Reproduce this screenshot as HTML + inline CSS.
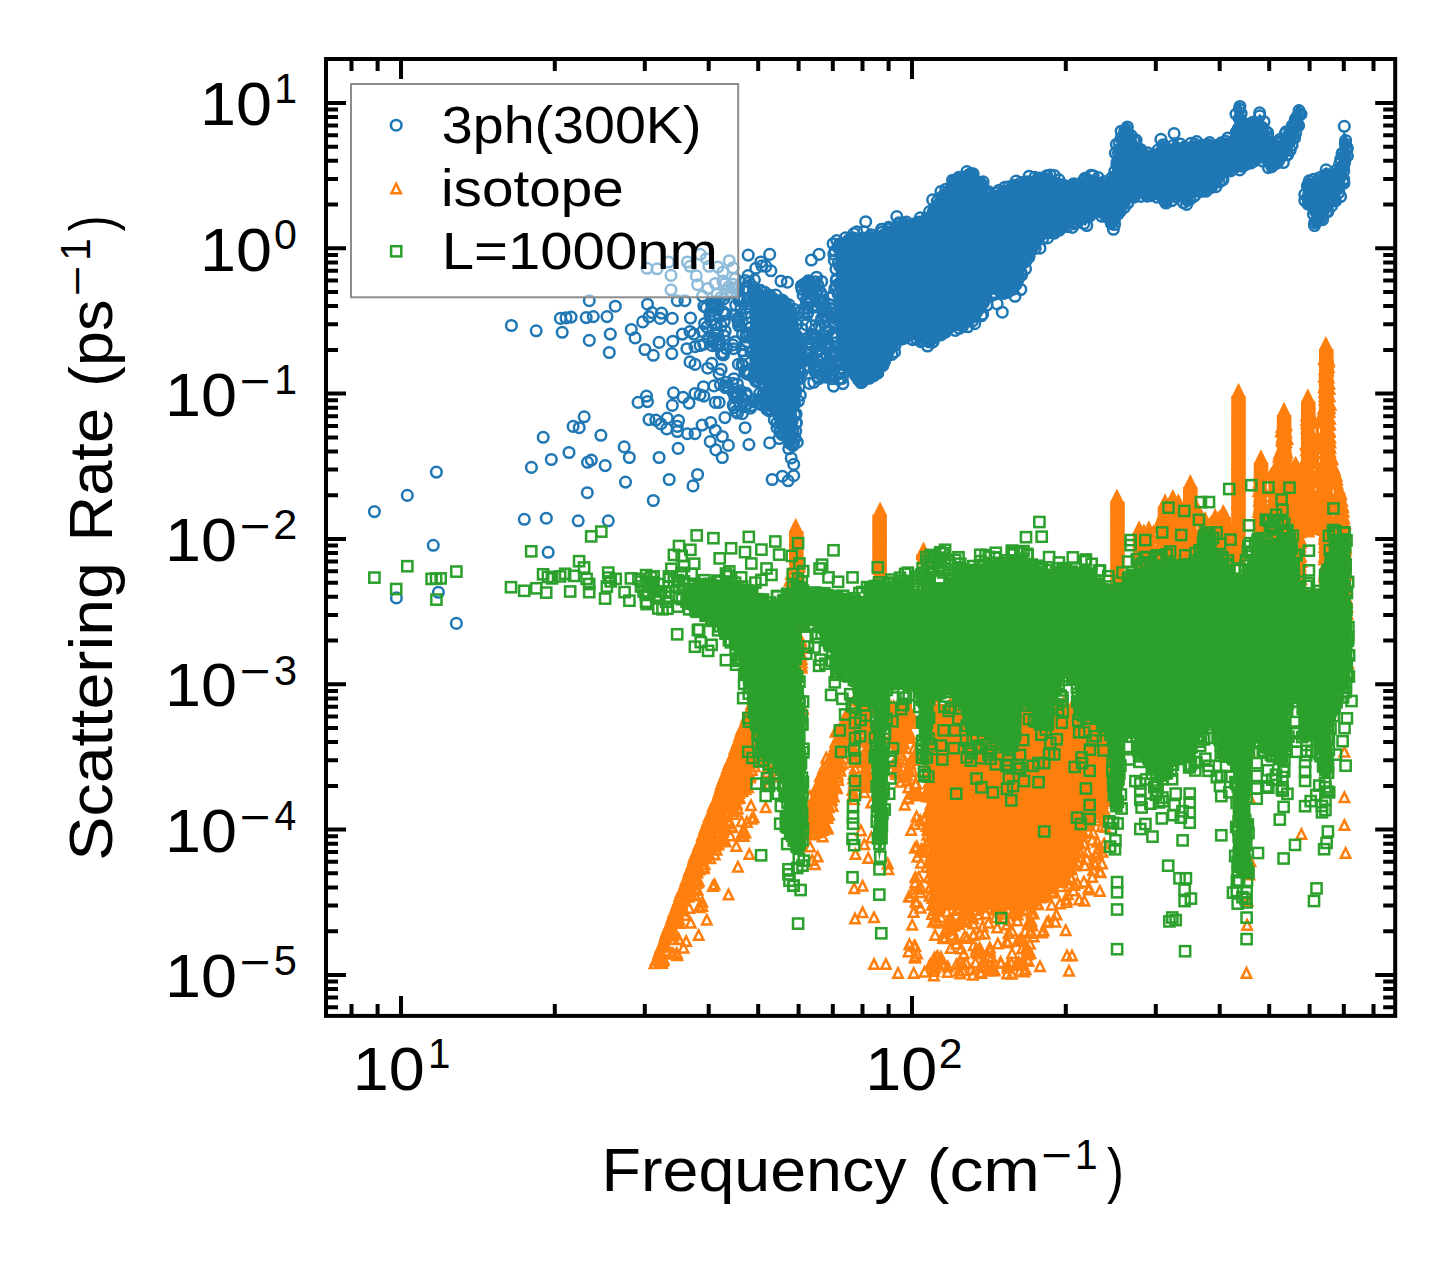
<!DOCTYPE html>
<html><head><meta charset="utf-8"><title>Scattering Rate</title>
<style>
html,body{margin:0;padding:0;background:#fff;}
body{width:1455px;height:1265px;overflow:hidden;}
svg{display:block;font-family:"Liberation Sans",sans-serif;font-kerning:none;}
text{fill:#000;}
</style></head><body>
<svg width="1455" height="1265" viewBox="0 0 1455 1265">
<rect width="1455" height="1265" fill="#fff"/>
<defs><marker id="mc" markerUnits="userSpaceOnUse" markerWidth="16" markerHeight="16" refX="8" refY="8" overflow="visible"><circle cx="8" cy="8" r="5.3" fill="none" stroke="#1f77b4" stroke-width="2.5"/></marker><marker id="mt" markerUnits="userSpaceOnUse" markerWidth="18" markerHeight="18" refX="9" refY="9" overflow="visible"><path d="M9 4.27l4.73 9.46h-9.46z" fill="none" stroke="#ff7f0e" stroke-width="2.5"/></marker><marker id="ms" markerUnits="userSpaceOnUse" markerWidth="16" markerHeight="16" refX="8" refY="8" overflow="visible"><rect x="2.9" y="2.9" width="10.2" height="10.2" fill="none" stroke="#2ca02c" stroke-width="2.5"/></marker></defs>
<path d="M760.8,382.6 761.2,382.8 761.6,383.0 762.0,383.3 762.4,383.6 762.7,383.9 763.0,384.3 763.2,384.7 763.5,385.2 763.6,385.6 763.8,386.1 763.9,386.5 763.9,387.0 763.9,387.5 763.8,388.0 763.7,388.5 763.6,388.9 763.4,389.4 763.2,389.8 762.9,390.2 762.6,390.6 762.3,390.9 761.9,391.2 751.8,398.8 751.4,399.0 751.0,399.3 750.6,399.4 750.0,399.7 750.0,406.6 757.9,405.1 758.4,405.0 758.9,405.0 759.4,405.0 759.9,405.1 760.3,405.2 760.8,405.3 761.2,405.6 761.7,405.8 769.3,410.9 769.7,411.2 770.0,411.5 770.4,411.9 770.7,412.3 770.9,412.7 771.1,413.2 776.2,425.8 782.2,440.2 789.0,448.0 793.4,448.0 795.7,441.7 796.9,427.5 796.9,397.3 796.9,396.9 797.0,396.4 800.7,376.5 801.9,352.0 799.5,332.2 797.0,315.1 792.8,304.5 786.6,300.4 774.6,293.2 757.5,288.3 757.0,288.1 756.6,287.9 756.1,287.7 755.7,287.4 755.4,287.0 750.0,281.7 750.0,378.3ZM837.6,360.5 847.2,372.7 847.4,372.9 847.5,373.2 853.7,384.6 863.6,385.5 880.0,375.0 889.8,361.7 899.8,344.1 899.9,343.9 900.1,343.6 900.3,343.4 900.5,343.3 900.8,343.1 901.0,342.9 901.3,342.8 901.5,342.7 901.8,342.7 914.4,340.2 914.7,340.1 915.0,340.1 915.3,340.1 915.6,340.2 915.9,340.2 916.2,340.3 916.5,340.5 916.7,340.6 927.8,348.4 941.2,340.6 951.2,333.1 951.5,332.9 951.7,332.8 952.0,332.7 966.9,327.7 978.7,320.7 988.1,306.5 990.5,296.9 990.6,296.6 990.7,296.3 990.8,296.1 991.0,295.8 991.2,295.6 991.4,295.4 991.6,295.2 991.8,295.0 992.1,294.9 992.4,294.8 992.7,294.7 992.9,294.6 993.2,294.6 993.5,294.6 993.8,294.6 994.1,294.7 1003.5,297.0 1016.4,292.6 1023.5,273.7 1023.5,273.6 1031.1,255.9 1031.3,255.6 1031.5,255.3 1039.1,245.2 1039.3,244.9 1039.6,244.7 1045.7,239.6 1045.9,239.4 1046.2,239.3 1046.4,239.1 1046.7,239.0 1047.0,239.0 1047.3,238.9 1047.6,238.9 1055.0,238.9 1060.5,232.4 1060.7,232.1 1060.9,231.9 1061.2,231.8 1061.4,231.6 1061.7,231.5 1062.0,231.4 1062.3,231.3 1069.1,230.2 1076.0,224.4 1076.2,224.2 1076.5,224.1 1076.7,223.9 1077.0,223.8 1077.3,223.8 1077.6,223.7 1077.9,223.7 1078.2,223.7 1078.5,223.8 1078.7,223.8 1085.6,225.8 1092.0,217.3 1092.2,217.1 1092.4,216.9 1092.6,216.7 1092.9,216.5 1093.2,216.4 1093.5,216.3 1093.7,216.2 1094.0,216.1 1094.4,216.1 1094.7,216.1 1095.0,216.2 1095.3,216.2 1095.5,216.3 1101.8,218.9 1102.1,219.1 1102.4,219.2 1102.6,219.4 1102.8,219.6 1103.0,219.8 1109.1,227.1 1113.2,230.3 1115.9,227.5 1120.8,217.8 1120.9,217.6 1128.5,205.0 1128.7,204.7 1128.9,204.5 1129.1,204.3 1129.3,204.1 1129.5,204.0 1129.7,203.8 1139.8,198.7 1140.1,198.6 1140.4,198.5 1140.7,198.4 1140.9,198.4 1141.2,198.4 1141.5,198.4 1141.8,198.5 1142.1,198.5 1142.4,198.6 1142.6,198.8 1142.9,198.9 1143.1,199.1 1147.5,202.6 1151.9,199.1 1152.1,198.9 1152.4,198.7 1152.7,198.6 1152.9,198.5 1153.2,198.5 1153.5,198.4 1153.8,198.4 1154.1,198.4 1154.4,198.5 1154.7,198.5 1155.0,198.6 1155.2,198.8 1155.5,198.9 1155.7,199.1 1155.9,199.3 1156.1,199.5 1156.3,199.7 1160.5,206.0 1165.5,206.0 1174.8,199.0 1175.0,198.8 1175.3,198.7 1175.6,198.6 1175.9,198.5 1176.1,198.4 1176.4,198.4 1176.7,198.4 1177.0,198.4 1177.3,198.5 1177.6,198.6 1177.9,198.7 1178.1,198.8 1178.4,199.0 1178.6,199.2 1178.8,199.4 1179.0,199.6 1182.7,204.5 1186.2,208.0 1189.6,206.6 1194.1,197.6 1194.3,197.3 1194.4,197.1 1194.6,196.8 1194.9,196.6 1195.1,196.4 1195.3,196.3 1195.6,196.1 1195.9,196.0 1196.2,196.0 1196.5,195.9 1196.8,195.9 1207.9,195.9 1212.1,189.6 1212.3,189.4 1212.5,189.2 1212.7,189.0 1212.9,188.8 1213.2,188.7 1213.4,188.5 1213.7,188.4 1214.0,188.4 1219.1,187.3 1224.8,179.5 1224.9,179.3 1230.0,173.0 1230.2,172.8 1230.4,172.6 1230.6,172.4 1230.8,172.3 1231.1,172.2 1231.4,172.1 1231.6,172.0 1231.9,171.9 1241.6,170.7 1252.8,166.1 1254.9,162.1 1255.1,161.9 1255.3,161.6 1255.5,161.4 1255.7,161.2 1255.9,161.0 1256.2,160.9 1256.4,160.7 1256.7,160.6 1257.0,160.6 1257.3,160.5 1257.6,160.5 1257.9,160.5 1258.2,160.6 1258.5,160.6 1258.7,160.7 1259.0,160.9 1259.3,161.0 1259.5,161.2 1259.7,161.4 1264.7,166.4 1264.7,166.4 1269.9,171.6 1278.8,169.6 1284.1,164.2 1290.3,152.1 1297.8,134.5 1298.0,134.3 1298.1,134.0 1298.3,133.8 1303.8,127.2 1301.6,106.9 1298.2,104.2 1295.8,106.8 1293.3,118.5 1293.3,118.8 1293.2,119.1 1293.0,119.3 1292.9,119.6 1292.7,119.8 1285.3,128.6 1277.9,140.9 1277.7,141.2 1277.5,141.4 1277.3,141.6 1277.1,141.8 1276.8,142.0 1276.6,142.1 1276.3,142.2 1276.0,142.3 1275.7,142.4 1275.4,142.4 1275.1,142.4 1274.8,142.4 1274.5,142.3 1274.2,142.2 1274.0,142.1 1273.7,141.9 1273.4,141.8 1273.2,141.6 1273.0,141.3 1272.8,141.1 1272.7,140.9 1272.5,140.6 1268.7,131.8 1268.7,131.8 1262.5,116.9 1259.8,113.5 1257.5,117.0 1257.3,117.3 1257.1,117.5 1256.9,117.7 1256.7,117.9 1256.4,118.1 1256.1,118.2 1255.8,118.3 1247.0,120.8 1246.7,120.9 1246.5,120.9 1246.2,120.9 1245.9,120.9 1245.6,120.8 1245.3,120.8 1245.0,120.7 1244.8,120.5 1244.5,120.4 1244.3,120.2 1244.1,120.0 1243.9,119.8 1243.7,119.6 1243.6,119.3 1243.4,119.1 1243.3,118.8 1243.3,118.5 1243.2,118.3 1241.5,104.2 1238.6,101.4 1235.8,104.1 1235.3,125.6 1235.3,125.9 1235.2,126.2 1235.1,126.4 1235.0,126.7 1234.9,127.0 1229.8,135.9 1229.6,136.1 1229.5,136.4 1229.3,136.6 1229.0,136.8 1228.8,136.9 1228.6,137.1 1228.3,137.2 1228.0,137.3 1212.8,141.6 1212.5,141.7 1212.2,141.7 1211.9,141.7 1192.1,140.7 1181.2,143.6 1180.9,143.7 1180.6,143.7 1180.3,143.7 1180.0,143.7 1179.7,143.6 1179.4,143.5 1179.1,143.4 1178.8,143.2 1178.6,143.1 1178.3,142.9 1178.1,142.7 1177.9,142.4 1177.8,142.2 1174.5,136.3 1171.8,143.1 1171.7,143.4 1171.5,143.6 1171.3,143.9 1171.1,144.1 1170.9,144.3 1170.7,144.5 1170.4,144.6 1170.2,144.8 1169.9,144.9 1169.6,144.9 1169.3,145.0 1169.0,145.0 1168.7,145.0 1168.4,144.9 1168.1,144.9 1167.9,144.8 1167.6,144.6 1167.3,144.5 1167.1,144.3 1166.9,144.1 1161.9,139.1 1156.3,147.5 1156.1,147.7 1155.9,147.9 1155.7,148.1 1155.5,148.3 1155.3,148.4 1155.0,148.5 1154.7,148.6 1147.1,151.1 1146.8,151.2 1146.5,151.3 1146.2,151.3 1145.9,151.3 1145.6,151.2 1145.3,151.2 1145.1,151.1 1144.8,150.9 1144.5,150.8 1144.3,150.6 1144.1,150.4 1139.1,145.3 1138.9,145.1 1138.7,144.8 1138.5,144.6 1138.4,144.3 1132.4,128.6 1125.7,122.9 1118.7,127.3 1117.6,138.5 1117.5,138.8 1113.8,156.4 1111.3,176.0 1111.2,176.3 1111.1,176.5 1111.0,176.8 1110.9,177.1 1110.8,177.3 1110.6,177.5 1110.4,177.8 1110.2,177.9 1109.9,178.1 1109.7,178.3 1109.4,178.4 1109.1,178.5 1108.9,178.5 1108.6,178.6 1108.3,178.6 1108.0,178.6 1107.7,178.5 1097.6,176.5 1097.4,176.5 1097.2,176.4 1086.2,172.5 1077.5,180.9 1077.3,181.1 1077.0,181.2 1076.8,181.4 1076.5,181.5 1076.2,181.6 1075.9,181.7 1075.6,181.7 1075.3,181.7 1075.0,181.7 1064.9,180.4 1064.6,180.3 1064.3,180.2 1064.0,180.1 1049.2,172.7 1039.5,171.6 1027.7,177.6 1027.3,177.7 1027.0,177.8 1012.2,181.5 1002.3,186.4 992.3,191.5 992.0,191.6 991.7,191.7 991.4,191.8 991.1,191.8 990.8,191.8 990.5,191.8 990.2,191.7 990.0,191.6 989.7,191.5 989.4,191.4 989.2,191.2 988.9,191.1 988.7,190.9 988.5,190.6 988.4,190.4 988.2,190.1 983.4,180.4 974.2,170.1 966.3,169.1 954.9,176.0 942.6,188.2 931.7,202.6 930.7,209.5 930.6,209.7 930.5,210.0 930.4,210.3 930.3,210.5 930.1,210.8 929.9,211.0 929.7,211.2 929.5,211.4 929.3,211.5 929.1,211.7 919.0,216.8 918.7,216.9 918.4,217.0 918.1,217.1 903.2,219.5 893.5,223.2 878.4,230.7 878.2,230.8 877.9,230.9 877.6,231.0 877.3,231.0 857.4,232.3 842.8,237.1 836.0,240.0 836.0,354.4ZM1301.7,196.2 1305.8,207.7 1310.6,214.9 1310.8,215.2 1310.9,215.4 1311.0,215.7 1311.1,216.0 1311.1,216.2 1312.3,225.3 1315.2,228.2 1321.2,225.6 1325.8,217.6 1325.9,217.4 1326.1,217.2 1332.3,209.8 1339.6,197.6 1344.5,185.3 1348.7,168.1 1349.4,146.1 1347.1,136.7 1344.3,131.0 1342.7,134.0 1341.5,146.1 1341.5,146.3 1338.9,161.4 1338.9,161.7 1338.8,162.0 1338.7,162.2 1338.6,162.5 1334.8,168.8 1334.6,169.1 1334.4,169.3 1334.2,169.5 1334.0,169.7 1333.7,169.8 1333.5,170.0 1333.2,170.1 1332.9,170.2 1332.6,170.2 1332.3,170.3 1332.0,170.3 1331.7,170.2 1331.5,170.2 1331.2,170.1 1330.9,170.0 1330.6,169.8 1326.0,167.1 1323.3,169.1 1321.1,175.8 1321.0,176.1 1320.9,176.3 1320.7,176.6 1320.6,176.8 1320.4,177.0 1320.1,177.2 1319.9,177.4 1319.7,177.5 1319.4,177.6 1319.1,177.7 1318.8,177.8 1318.6,177.9 1318.3,177.9 1309.4,177.9 1304.6,182.7Z" fill="#1f77b4"/><polyline points="755.7,315.6 787.5,326.0 779.5,328.8 760.6,301.6 774.3,352.1 747.1,301.0 779.3,369.5 797.1,361.5 793.4,443.0 780.9,390.2 756.3,308.3 783.3,433.5 745.3,287.9 757.2,342.0 765.5,402.1 752.4,300.4 788.7,409.7 740.8,309.0 791.3,401.4 796.4,360.0 791.7,400.6 796.3,340.7 770.9,409.3 767.5,309.5 764.6,344.4 778.8,343.8 757.2,316.9 758.3,298.6 753.4,291.1 775.6,305.3 746.4,335.8 763.9,369.1 749.1,328.0 766.1,391.2 766.3,307.2 751.6,337.8 753.2,401.8 766.7,356.5 767.5,346.4 751.0,352.2 790.2,374.8 746.6,373.5 791.8,356.9 784.4,305.0 775.2,403.4 748.6,307.1 785.0,415.0 775.6,349.7 770.3,389.9 780.1,391.6 740.1,300.2 792.7,363.2 763.1,322.2 775.7,308.0 792.3,315.2 764.0,383.3 761.8,322.2 750.6,304.2 786.4,435.1 748.2,374.3 771.3,356.4 759.0,347.3 768.3,343.0 756.8,306.3 753.4,339.4 766.6,300.7 793.2,358.1 797.4,377.7 795.5,389.4 784.2,402.1 794.1,398.6 756.7,351.5 759.8,339.2 768.9,303.9 762.7,378.2 792.8,342.0 798.6,361.9 781.5,433.8 779.1,330.1 757.7,356.7 785.6,326.4 779.5,375.4 799.5,369.5 792.1,420.9 737.8,320.0 791.8,362.4 785.2,346.7 786.1,376.7 766.3,404.8 745.9,313.5 770.1,357.3 745.7,337.0 781.3,351.0 782.6,378.5 783.2,327.3 769.0,404.0 746.5,333.6 792.8,325.1 793.0,396.2 781.7,398.3 768.1,296.1 784.9,418.9 775.5,326.1 755.6,375.4 745.7,308.1 792.8,430.9 767.5,349.2 757.3,355.5 770.9,371.4 754.8,290.1 780.8,408.1 784.9,345.8 793.2,389.3 766.2,399.0 763.7,328.6 762.7,321.3 785.3,303.1 762.1,378.8 775.8,403.2 749.3,322.7 799.7,348.6 749.0,282.2 778.0,328.7 757.6,340.4 763.5,346.4 763.0,404.6 749.4,333.6 790.5,386.0 780.6,394.1 765.9,353.5 761.2,323.5 768.1,400.1 794.7,415.1 788.3,375.2 792.1,444.0 767.5,330.4 766.4,349.1 769.9,353.6 788.9,405.7 744.7,371.0 774.5,326.3 794.7,403.8 749.4,373.4 753.8,331.4 790.5,379.7 777.9,403.9 777.2,307.6 797.6,338.9 789.5,321.6 779.4,374.6 747.3,288.2 791.9,402.8 756.8,350.1 780.2,305.4 765.1,403.4 789.2,349.3 755.3,332.4 776.1,315.2 786.3,324.7 768.6,318.9 766.3,374.6 785.8,328.5 784.3,308.9 759.0,316.1 792.7,403.6 765.0,356.7 764.9,373.6 784.6,307.4 788.3,390.8 743.0,365.6 753.0,300.4 762.8,373.7 774.3,299.3 783.9,379.9 799.5,372.1 771.4,406.1 784.0,429.3 780.0,336.2 756.5,324.9 743.8,300.0 797.2,348.1 791.9,419.2 738.5,322.0 760.0,294.9 794.2,377.4 760.2,345.2 782.1,332.1 777.1,366.8 780.2,340.9 759.0,355.2 758.0,374.2 764.7,352.8 750.8,327.5 751.1,317.2 787.5,382.9 760.2,378.6 799.7,366.9 762.0,331.3 780.9,352.4 754.9,371.2 745.3,280.6 735.9,287.8 738.6,288.7 739.3,297.3 738.9,300.6 735.7,305.1 734.8,315.4 738.5,317.7 738.8,324.5 738.7,325.8 742.6,334.4 747.1,342.1 744.7,344.6 742.7,350.7 744.2,354.2 745.5,360.9 742.0,364.7 738.4,364.2 745.2,372.9 746.9,372.7 753.2,377.0 755.9,381.4 757.7,380.5 763.7,386.0 764.3,387.1 763.1,394.0 759.7,393.3 754.1,399.5 746.6,404.6 744.7,406.8 751.5,405.6 750.5,408.2 761.0,404.5 766.9,409.4 768.3,405.0 769.4,410.9 774.3,419.8 777.0,422.6 777.0,427.7 779.8,431.7 782.3,434.6 779.2,438.5 789.4,443.2 788.7,448.8 792.9,445.5 797.3,442.2 795.1,438.0 795.7,431.1 796.4,422.6 796.1,423.3 795.6,413.8 796.1,414.0 792.4,404.0 798.4,401.0 800.3,395.2 795.5,392.7 798.9,386.8 798.8,378.9 801.5,373.3 799.3,371.3 798.3,370.7 801.1,356.9 801.4,358.7 800.5,351.8 796.9,347.1 801.1,341.2 796.6,335.6 802.2,329.3 796.7,324.7 797.1,324.1 791.4,311.9 799.1,312.6 794.0,309.3 789.1,304.9 783.0,301.2 782.1,300.0 775.8,295.1 770.0,295.2 764.9,292.4 760.9,290.9 760.3,290.4 753.3,287.1 748.1,275.6 1058.6,200.4 913.6,297.1 966.1,235.0 942.1,310.8 937.8,314.8 830.5,312.8 998.0,226.1 840.4,306.4 1154.6,178.5 906.4,222.1 913.5,280.4 877.3,248.4 959.1,282.5 921.0,244.7 1005.9,276.8 1117.9,214.2 1238.1,132.8 952.6,291.4 978.2,229.9 854.9,331.7 1046.9,220.7 1123.1,172.4 1247.8,130.8 940.3,296.4 1032.0,244.3 1112.9,207.9 908.8,297.5 1012.2,211.1 925.0,335.5 882.4,263.3 1286.6,150.5 1216.5,178.7 947.7,203.0 982.6,265.5 891.7,247.0 875.8,335.2 945.6,250.8 924.5,334.1 1128.5,164.8 1176.2,153.8 1006.8,267.0 879.4,313.7 879.2,239.7 1051.9,221.4 955.0,212.0 920.2,258.2 893.6,278.8 967.2,271.4 981.2,192.2 1003.6,288.6 1014.1,230.9 1085.4,212.2 913.0,283.9 859.0,362.8 891.6,284.9 917.1,275.6 1029.9,220.4 1272.4,165.3 858.9,373.6 1023.2,262.8 1245.3,135.4 1047.6,212.8 934.6,208.5 1046.9,204.0 925.8,246.7 920.0,260.9 1024.7,250.9 870.3,351.1 1190.3,156.8 944.9,275.0 1135.0,178.6 1038.9,191.3 961.1,311.0 847.2,328.7 842.4,266.4 929.3,232.9 1125.8,198.9 871.8,280.8 946.4,246.5 1029.2,191.1 1246.9,150.3 1019.8,246.5 1062.4,184.7 1213.3,182.6 854.7,358.5 948.6,316.4 928.8,331.8 941.6,328.0 906.9,245.7 1058.6,204.0 924.7,323.2 1009.4,219.8 906.5,260.4 898.3,301.5 996.1,273.1 961.7,191.2 1034.3,232.8 931.3,333.4 873.8,366.5 857.6,246.2 959.7,188.1 1188.7,172.3 1234.1,156.0 1173.7,178.3 1005.5,219.7 980.4,243.6 1188.6,174.6 996.7,253.1 978.4,233.9 1227.7,170.7 1077.6,207.5 871.0,291.3 940.2,250.3 845.1,348.2 908.9,229.6 854.2,299.6 843.9,352.6 982.4,218.0 932.3,342.2 972.6,316.5 874.1,361.5 928.8,341.7 996.9,205.2 927.2,301.7 1191.5,190.3 915.7,265.9 984.9,191.5 1120.7,168.7 988.4,229.4 944.6,268.4 1212.3,168.6 833.7,317.3 1049.1,216.2 953.5,254.8 1078.7,196.4 1259.1,133.6 983.9,253.9 1130.8,145.9 869.4,267.7 1104.4,213.9 931.6,303.1 877.2,288.2 957.9,204.5 996.2,236.2 919.3,267.0 1122.6,187.2 1006.5,292.2 917.5,303.1 969.1,205.5 1025.4,192.8 1090.3,188.0 1206.6,184.9 838.6,317.1 900.5,273.6 1250.4,163.0 876.3,253.1 893.8,308.4 1204.5,189.2 937.8,226.3 1178.3,166.8 981.0,275.6 948.2,328.3 971.9,182.5 1193.4,162.8 1095.2,190.1 1056.8,199.4 977.8,275.2 873.2,366.6 1073.9,192.2 1142.8,181.5 1047.8,229.4 1198.5,175.7 908.2,231.0 879.0,321.5 867.8,307.2 834.3,337.0 1204.1,164.9 1141.3,172.2 950.3,301.3 882.4,246.9 1173.3,180.7 961.7,214.7 948.1,233.3 898.1,238.0 846.0,358.5 1219.5,154.2 1111.4,215.2 889.1,297.6 1195.9,162.5 867.7,324.4 865.1,318.0 1108.6,210.7 1175.3,181.0 970.2,294.4 1242.6,166.3 867.1,346.2 893.8,277.6 1052.2,218.2 1172.5,194.9 1134.4,170.4 950.8,292.3 969.6,295.9 849.7,357.8 981.2,229.6 1206.7,187.1 837.4,319.8 934.9,215.5 941.3,220.0 859.5,262.8 894.0,249.5 979.4,254.6 862.1,382.2 1018.9,213.5 901.4,328.9 879.8,262.4 949.3,202.5 1068.8,213.6 1196.9,171.9 1107.6,198.7 864.7,327.6 1297.3,116.6 1027.3,254.6 848.0,264.4 1262.8,127.8 1133.7,194.2 954.9,224.7 1090.4,202.0 902.4,247.6 970.6,185.0 904.2,337.7 1012.8,189.3 979.0,284.7 1005.5,220.3 1014.3,208.3 1046.7,176.0 987.3,259.3 847.6,245.8 943.0,332.8 1008.4,253.2 1089.8,213.2 912.0,292.5 987.9,199.8 1143.5,168.8 1017.0,253.4 1007.3,256.6 842.0,349.7 1199.1,191.2 892.0,235.4 857.6,260.9 855.5,352.3 1054.3,227.6 904.6,250.9 911.6,309.0 893.9,318.1 1116.0,196.6 978.5,263.3 1124.3,153.6 958.9,284.1 914.1,291.0 976.3,184.8 966.8,178.6 1017.4,201.4 987.5,247.5 986.5,219.7 952.8,225.0 1013.2,278.6 1207.4,150.9 899.3,311.0 911.0,279.6 959.6,324.4 931.6,274.2 897.6,261.3 956.0,250.6 855.6,294.6 1147.1,188.3 927.9,335.5 1267.7,156.0 942.8,305.6 1003.9,223.7 947.0,330.0 906.1,295.8 930.0,319.0 1060.5,197.3 1133.4,151.1 1280.0,156.1 918.2,225.8 938.5,209.7 1032.3,183.1 882.1,237.4 1247.7,142.0 1251.4,160.9 1033.2,199.7 928.0,256.8 897.2,291.4 929.5,315.8 979.5,254.2 1009.8,242.4 1071.1,201.8 970.6,204.1 1163.0,180.4 846.0,259.9 1243.5,149.7 1032.8,240.8 1253.2,132.4 1040.9,232.8 942.7,212.1 1227.9,143.8 880.7,239.0 871.5,279.0 935.8,210.7 1210.8,162.1 942.2,197.0 1146.0,184.6 980.2,231.6 926.1,313.4 1120.8,149.5 942.8,269.0 1006.4,198.8 966.6,308.7 979.2,303.4 1179.1,170.3 1131.0,162.0 826.8,310.1 1186.3,169.9 894.1,338.1 1262.1,131.2 958.0,274.9 1166.9,161.2 879.9,267.2 972.9,255.6 915.5,252.0 1219.0,161.2 1152.1,173.5 1027.1,181.8 888.8,279.0 993.8,212.7 917.4,264.8 1087.5,186.8 869.8,367.0 1047.4,193.0 913.3,249.6 881.7,359.9 1041.1,225.6 895.1,250.2 1033.5,192.8 1109.7,189.7 998.7,225.5 883.0,365.3 860.1,339.5 1031.0,202.9 1022.8,228.2 1135.8,174.5 1181.8,185.2 1155.5,157.0 1005.5,228.0 1185.7,162.0 1257.2,144.3 886.5,311.7 926.7,264.4 1027.0,198.8 983.2,237.5 933.3,224.9 940.1,265.1 1014.3,244.9 887.7,247.1 1174.3,162.4 1262.3,129.0 892.7,299.9 849.5,305.9 1169.8,159.7 1053.7,195.1 872.8,360.5 900.2,307.4 880.7,341.8 940.4,264.3 904.0,299.3 932.6,306.2 877.2,285.9 842.3,312.1 945.7,303.9 982.9,244.2 998.4,289.3 842.3,349.7 1016.2,196.7 1101.4,189.8 1012.2,278.8 1159.7,162.4 941.8,269.3 1259.6,130.4 871.6,334.2 875.4,316.2 893.6,271.8 967.3,242.3 919.6,257.8 928.6,220.4 985.5,224.0 930.0,319.4 976.3,292.7 1214.6,158.8 882.0,363.7 839.1,283.8 1116.5,183.8 931.9,311.5 896.7,246.8 976.9,286.5 856.6,311.7 1168.8,180.6 894.8,331.1 1120.5,195.0 981.8,260.1 967.5,248.6 866.2,348.6 995.7,238.1 883.7,239.6 855.3,328.9 973.4,215.4 936.0,239.8 1246.2,141.2 1127.5,185.6 970.9,250.7 968.2,312.9 997.6,205.3 940.1,327.6 947.0,290.0 1213.1,155.2 895.3,248.8 947.4,227.3 885.1,337.0 862.6,338.0 871.1,336.2 898.7,317.3 1239.6,158.6 952.8,262.0 955.4,318.0 961.3,229.5 1027.3,222.6 949.4,325.7 1082.0,216.2 842.8,251.0 860.5,328.0 933.6,294.4 1218.4,161.7 1268.6,145.1 898.5,233.7 1000.7,206.9 872.1,276.9 1219.9,155.1 975.1,264.8 1137.4,179.1 1042.0,183.3 941.4,241.8 865.0,280.0 832.3,313.5 1228.5,149.4 998.2,235.5 938.5,223.1 1000.6,213.9 1001.6,287.6 918.2,262.1 1231.6,155.4 972.9,301.4 1069.9,186.0 1229.1,168.0 890.5,338.0 1153.6,182.7 980.2,209.0 1007.2,216.9 1079.1,220.2 980.4,287.0 1114.4,219.7 849.9,341.5 969.8,174.3 1073.1,222.2 923.1,340.7 998.7,214.6 838.2,247.2 1111.7,204.6 1160.3,181.6 1148.9,155.9 843.0,249.0 894.5,255.3 1008.2,200.4 1200.1,168.4 955.3,311.7 895.4,339.0 888.9,255.6 968.6,197.5 875.6,373.6 1134.1,162.2 1288.9,135.0 913.3,256.7 1031.4,219.6 928.0,321.6 984.3,256.3 1210.8,147.6 925.6,323.2 950.2,254.7 954.1,253.8 1017.6,206.8 921.8,320.3 925.2,297.5 1014.8,262.3 860.0,293.9 943.0,280.2 882.9,263.7 992.8,232.7 900.9,279.5 863.1,316.1 911.4,301.9 1010.3,242.2 1178.6,179.9 1137.6,179.9 885.1,333.8 1037.5,225.1 1168.0,152.0 878.4,248.3 1038.3,186.6 1080.1,212.7 839.0,292.8 1156.4,174.8 855.4,349.9 952.8,285.6 854.6,301.8 948.3,196.2 1234.5,141.5 1188.8,170.6 941.4,274.2 1169.6,171.6 860.4,260.7 1017.9,279.0 1095.1,210.8 953.5,301.9 1212.5,167.2 1116.8,213.7 1004.7,245.1 1031.4,235.1 869.5,327.0 1156.3,191.8 881.7,354.3 1016.3,210.7 942.3,320.1 1087.5,215.7 1127.6,189.2 1002.1,262.3 918.6,324.0 973.0,293.5 1006.3,273.2 1182.5,163.5 934.0,278.4 939.3,243.7 887.9,340.2 1190.6,183.3 1036.3,219.7 862.9,283.4 1110.9,217.0 878.9,243.9 830.3,304.7 941.4,303.2 842.7,335.2 1168.9,168.4 934.6,295.8 1020.7,265.5 1127.1,190.9 1019.0,209.4 1270.7,159.6 1194.3,150.4 956.8,229.5 1162.1,170.0 1017.3,252.0 940.8,310.6 952.7,246.6 872.4,374.3 985.0,297.6 911.7,228.7 1015.6,185.6 925.1,251.1 980.9,188.2 891.4,247.5 975.4,218.3 1140.9,191.5 959.4,247.6 930.0,238.8 993.8,254.0 924.0,263.1 883.6,326.7 1206.8,171.9 1184.9,178.9 846.8,287.1 956.4,214.9 974.7,227.8 1178.7,163.6 1026.9,239.8 1120.9,194.6 987.2,291.4 941.4,308.3 964.3,247.9 903.5,278.7 1056.4,191.1 1049.8,219.4 1000.9,250.5 933.7,291.2 1110.7,220.7 967.5,227.3 1240.8,128.4 865.9,306.3 1195.3,169.7 1012.4,191.6 1216.8,148.3 1022.2,209.0 937.3,304.1 933.0,254.6 1161.8,181.9 939.7,235.3 1282.1,140.9 949.8,278.8 1190.1,162.3 861.1,377.1 867.7,294.3 1162.2,189.1 910.3,259.1 940.6,247.0 830.8,309.3 1249.2,159.1 1027.8,245.0 866.9,336.8 994.4,262.1 965.7,290.7 1140.2,182.2 896.0,236.0 1183.3,148.2 1248.8,124.2 921.8,316.1 960.8,263.4 994.4,211.9 872.7,311.6 948.6,284.2 857.3,256.3 1180.9,173.5 1123.3,168.8 860.9,261.4 951.0,233.5 1133.5,179.5 1013.9,208.7 1006.7,238.1 958.8,177.4 1042.3,190.7 1228.0,144.2 1171.5,168.7 899.7,291.8 858.7,255.1 1074.8,188.5 917.5,278.5 1181.9,180.9 950.7,262.9 1135.7,176.2 876.5,295.8 1036.5,236.6 967.4,183.4 871.4,321.4 840.8,350.3 957.8,264.2 1218.6,163.0 853.1,314.9 969.6,175.5 900.8,336.9 1026.2,185.9 1059.9,213.3 994.8,204.4 957.7,245.1 1007.1,197.4 931.4,299.2 941.3,209.9 866.6,340.7 935.2,291.2 1017.9,201.9 980.8,252.8 956.6,288.4 1075.0,196.1 1024.6,182.9 1058.8,206.8 874.7,313.8 946.4,317.9 949.5,199.4 1143.9,171.7 928.6,310.1 1023.0,252.7 975.4,183.4 1145.3,180.9 994.4,205.6 935.5,322.8 967.8,211.8 833.6,323.3 882.4,352.3 1056.4,228.1 1129.5,161.5 1211.7,165.0 940.9,287.2 976.8,201.5 882.5,247.7 1026.8,196.8 969.0,263.1 1059.6,215.7 1190.1,183.6 868.6,274.9 1031.9,187.5 1100.7,198.1 824.4,310.9 1012.2,187.8 995.3,210.4 953.4,238.9 894.4,264.6 1028.6,252.4 1008.9,186.7 1166.6,171.5 935.0,237.3 1219.6,148.0 889.9,315.7 860.6,317.9 998.5,232.8 841.0,281.8 836.8,336.8 931.5,322.1 1123.4,169.9 1061.8,196.0 935.4,237.9 991.9,196.6 984.0,293.7 842.0,252.9 1109.0,197.2 1008.2,202.0 960.9,181.9 898.8,311.8 1077.0,186.6 910.9,307.7 859.9,246.3 838.2,294.1 1001.5,285.5 1003.3,274.3 972.1,313.5 1195.6,185.0 902.6,272.5 1041.0,178.8 1181.3,164.3 852.6,271.3 945.6,235.0 975.6,299.9 927.0,242.4 959.4,263.2 1146.5,162.9 900.5,306.6 901.5,241.4 863.3,276.4 888.2,329.3 903.1,264.5 1276.2,154.8 877.0,337.6 1081.1,204.7 915.5,323.9 1121.1,137.9 943.8,268.9 1013.7,271.6 937.0,261.2 931.5,264.1 1262.7,140.2 936.8,315.4 902.6,302.7 1220.0,167.4 920.1,286.1 964.7,291.2 1141.7,175.3 968.0,239.7 854.1,339.8 1165.6,181.5 882.4,339.0 972.4,224.8 901.7,319.3 942.4,279.1 963.2,232.2 872.7,251.0 1003.1,246.3 1041.7,227.7 885.0,272.0 1171.4,175.8 1062.6,196.5 958.6,233.5 938.8,299.8 931.6,317.7 1103.1,206.6 1036.0,237.2 1112.5,220.1 1114.0,207.5 961.3,256.7 931.1,259.6 875.7,268.8 847.2,282.1 1009.2,249.7 920.6,235.2 879.6,283.1 889.7,261.6 844.6,356.8 861.1,295.6 974.5,294.3 931.7,282.2 855.7,249.4 1014.1,200.0 1024.4,217.6 1236.8,149.2 1220.1,168.8 977.7,245.5 1208.1,145.0 1096.7,183.7 1125.0,199.6 878.5,253.1 859.6,257.1 859.6,255.0 867.1,288.4 1254.2,139.6 1228.9,168.6 889.8,327.5 886.2,354.7 1048.3,188.4 1008.3,219.8 956.3,256.7 928.0,277.1 1057.1,213.4 1021.7,246.6 1006.9,209.8 1120.9,182.8 874.3,344.5 1191.3,156.9 887.7,248.0 840.9,253.6 885.7,236.1 960.0,315.9 1156.1,189.0 1010.4,242.4 874.0,373.4 929.5,246.2 976.0,221.6 850.4,264.0 986.9,258.6 928.6,312.5 834.1,312.9 1127.8,167.5 946.1,279.5 853.8,332.3 860.0,316.4 855.5,319.2 875.5,336.3 1195.1,144.2 947.5,250.7 862.9,325.1 997.7,288.8 926.1,330.2 998.7,288.1 1256.8,126.9 985.6,200.9 883.5,303.0 1135.4,180.1 1273.4,151.1 935.3,258.6 1026.4,230.8 887.7,308.6 941.9,227.2 865.9,280.5 914.1,237.2 839.1,316.1 1014.0,209.4 1245.9,130.4 936.5,304.7 888.7,271.3 838.7,248.1 1228.4,167.0 1202.8,145.6 871.1,251.1 1033.2,205.6 876.5,264.3 966.4,253.4 1127.1,140.0 953.1,289.3 894.2,328.6 1188.7,187.9 1210.2,172.1 954.5,272.1 873.1,271.5 1245.5,146.6 880.8,266.2 980.8,184.5 1227.7,161.5 857.3,260.4 1077.7,184.8 974.2,293.6 893.6,304.0 964.6,229.8 999.4,200.1 1124.4,165.8 1193.9,167.4 844.4,313.5 1168.1,171.0 1018.3,275.1 924.2,278.4 971.6,273.7 1015.7,208.3 955.1,323.4 969.0,255.9 1213.9,172.9 896.1,287.1 926.6,325.5 860.8,346.2 1257.1,149.6 980.0,237.6 968.3,176.3 949.3,221.5 967.3,266.0 845.4,283.6 893.3,315.7 886.1,268.2 932.3,333.1 874.4,374.5 850.2,240.3 985.1,223.7 1010.1,257.6 920.4,316.0 848.5,240.1 1095.3,201.2 1176.2,155.3 929.8,314.2 1064.6,211.4 1061.4,227.1 980.3,215.0 846.2,273.5 1134.5,196.3 941.1,283.5 1212.1,184.5 1246.3,151.0 1181.5,184.5 862.5,340.0 1200.6,179.7 1164.6,170.9 980.2,221.5 1026.6,223.8 962.7,193.2 951.9,203.1 1222.9,153.6 917.5,264.9 1045.4,227.4 873.3,361.5 1039.5,211.2 884.8,353.6 853.7,362.2 1195.5,185.8 833.6,332.6 839.4,355.6 1132.7,196.6 1024.1,248.4 1186.9,197.3 891.9,284.3 943.2,297.9 1158.3,176.4 1093.7,209.2 1259.7,139.1 842.2,305.4 849.0,300.9 925.1,246.5 838.5,263.2 942.6,233.4 917.3,248.0 940.8,215.0 909.2,258.9 1047.5,232.0 899.1,273.0 903.4,338.1 982.7,248.8 941.8,309.4 855.1,294.1 1109.2,210.9 965.7,296.6 1083.9,204.5 1123.9,152.6 986.2,250.5 833.0,295.2 900.2,334.7 1034.1,208.3 1015.4,282.7 1021.7,262.3 1289.3,142.1 1002.6,287.3 1122.7,203.4 1045.6,219.9 940.4,334.9 888.6,298.1 1105.7,189.6 987.8,202.5 954.7,180.6 876.0,339.4 845.9,355.0 1198.9,183.5 969.0,227.4 889.9,279.5 964.8,311.4 1017.7,252.9 1196.4,168.9 1297.1,122.6 947.3,314.2 962.2,249.6 1061.2,223.8 987.7,288.2 1042.0,211.2 1176.8,172.2 931.2,264.0 1052.0,216.8 999.6,257.1 933.4,241.2 944.0,202.0 1121.2,181.6 1000.9,292.1 1199.9,179.3 1012.1,240.9 948.4,323.7 906.4,312.6 1011.6,212.1 1208.1,161.7 1137.0,167.7 959.6,225.5 1004.8,234.4 997.1,230.5 857.1,308.7 856.7,339.4 1059.4,199.9 998.6,237.0 923.6,285.5 869.1,339.2 883.0,256.9 1066.4,208.3 1047.5,211.5 955.5,223.2 925.4,329.7 1289.9,137.6 1027.2,243.0 1117.8,196.5 1193.7,167.2 1101.7,196.0 909.2,280.2 974.0,209.3 869.8,377.3 1236.3,141.4 880.6,356.5 964.0,232.8 1159.1,170.3 1164.8,181.1 931.8,247.2 1026.3,251.3 1118.5,153.2 1027.2,192.7 952.3,232.5 1159.8,194.7 959.7,190.5 934.2,320.6 1020.4,242.9 1120.6,157.6 976.0,306.4 1181.7,161.5 879.2,282.6 952.5,272.6 970.4,202.7 916.4,233.0 961.3,244.5 847.3,247.7 930.9,289.0 1057.4,218.7 1042.1,192.9 884.1,328.1 939.0,231.1 905.0,244.9 912.8,230.9 1251.1,162.7 890.8,322.3 861.9,283.8 936.2,248.8 1137.7,175.1 1031.7,228.4 846.6,310.6 861.0,363.2 1039.9,188.0 1018.3,193.5 989.5,239.5 849.5,337.4 961.0,207.6 851.2,300.8 959.6,323.8 925.9,240.8 852.3,336.5 932.1,250.9 1035.8,231.0 1034.9,218.3 960.7,182.8 1143.6,190.5 853.7,315.0 951.1,226.2 1216.5,152.6 1168.9,159.2 947.1,233.9 884.7,234.5 924.1,337.7 1255.9,126.4 1273.1,158.3 976.2,297.6 912.3,229.7 888.5,301.9 875.3,270.3 961.4,277.6 886.6,282.6 982.0,282.4 885.5,289.8 946.3,256.1 887.6,339.7 943.2,276.4 834.9,325.5 1040.1,182.5 1012.2,283.9 860.4,347.2 937.2,218.8 1162.0,162.9 1010.7,285.3 999.8,240.2 959.6,323.9 833.1,243.7 835.0,251.1 833.9,254.2 834.3,260.3 839.7,266.4 835.9,269.0 836.5,279.0 836.2,280.6 836.4,285.5 834.8,288.7 830.7,297.9 823.6,302.8 826.2,315.6 824.8,322.6 829.3,330.3 832.4,336.8 842.1,350.3 840.7,360.3 845.6,364.7 849.5,370.4 850.5,368.1 855.4,375.1 856.1,374.8 860.0,381.1 860.9,382.7 869.1,378.3 873.5,375.8 877.8,373.2 877.9,369.6 879.5,367.3 884.6,361.3 887.2,355.8 891.8,354.4 894.6,351.9 895.0,345.3 900.6,339.3 904.9,338.2 912.1,338.9 912.6,339.7 916.5,338.7 920.7,341.6 927.6,346.0 929.9,340.7 933.2,341.5 941.3,334.7 945.4,332.0 944.8,331.4 955.3,330.4 959.4,328.3 962.6,326.0 967.8,326.8 974.7,323.7 972.3,321.1 981.4,315.8 982.6,314.2 986.9,305.1 983.5,302.7 985.6,298.0 985.4,296.9 993.7,294.7 993.9,292.6 1003.7,293.4 1008.2,291.9 1012.6,289.3 1016.0,284.7 1017.5,280.6 1021.2,273.2 1021.6,275.1 1025.6,268.8 1025.6,261.4 1028.8,257.3 1029.2,254.2 1035.2,248.4 1032.4,247.2 1034.1,245.4 1042.7,238.8 1047.5,237.9 1051.3,231.4 1054.4,233.2 1056.8,229.2 1059.3,230.0 1067.3,226.7 1072.3,227.4 1074.8,223.8 1076.5,218.9 1083.9,223.5 1085.5,216.8 1090.2,215.5 1101.9,216.3 1097.5,211.7 1106.3,216.5 1109.4,217.6 1111.3,223.6 1114.6,224.5 1112.7,219.1 1116.7,213.0 1120.2,211.3 1124.4,207.3 1127.8,203.0 1131.6,196.7 1133.5,197.3 1140.8,196.4 1147.1,196.1 1150.4,195.7 1151.2,195.4 1156.9,197.2 1165.1,201.0 1166.0,203.0 1171.9,200.6 1170.7,192.7 1176.1,196.8 1178.3,193.9 1183.4,202.7 1186.6,204.4 1190.0,199.3 1193.7,196.4 1194.9,195.4 1201.8,191.3 1206.1,191.2 1211.5,187.3 1216.0,186.7 1219.3,181.9 1222.0,180.2 1223.0,179.6 1226.9,170.7 1230.6,170.9 1235.5,167.0 1239.7,169.9 1245.5,164.5 1254.0,161.0 1256.1,156.8 1256.2,158.4 1259.1,157.1 1262.8,161.1 1268.4,167.6 1271.8,166.6 1277.6,162.4 1283.4,162.5 1287.8,154.5 1286.7,154.8 1290.2,150.1 1292.1,144.9 1292.5,138.6 1294.6,137.9 1295.6,133.0 1294.4,126.7 1298.6,125.7 1301.0,114.2 1299.3,114.9 1299.0,110.6 1295.9,118.3 1295.2,119.8 1294.7,123.6 1292.3,125.7 1286.3,131.7 1285.2,133.7 1279.7,139.6 1276.1,142.3 1272.7,146.3 1272.7,144.2 1267.8,137.0 1267.8,132.9 1265.7,131.1 1264.0,121.7 1259.8,115.8 1255.4,123.7 1252.7,122.3 1246.2,126.2 1247.6,124.2 1239.9,119.3 1241.1,113.4 1239.5,109.1 1239.9,106.5 1236.0,114.1 1239.3,118.5 1240.7,120.0 1238.3,128.6 1237.0,131.3 1236.0,132.9 1227.9,138.0 1225.8,141.3 1221.3,142.9 1217.3,145.5 1209.6,142.6 1209.8,145.6 1203.1,145.2 1196.7,141.6 1190.9,143.4 1184.5,147.1 1180.4,144.1 1173.6,145.2 1169.8,149.8 1172.5,151.1 1165.3,147.9 1163.2,144.7 1158.0,150.1 1157.8,154.5 1147.7,152.9 1140.8,149.6 1140.1,150.9 1137.8,151.6 1136.1,140.1 1133.7,140.4 1131.2,135.7 1127.4,127.0 1126.4,129.4 1121.2,131.2 1123.0,138.4 1119.4,143.6 1116.4,144.3 1119.5,149.2 1115.4,153.1 1117.0,162.3 1117.0,165.3 1114.8,171.4 1115.1,176.3 1112.0,177.6 1113.2,180.2 1104.5,181.6 1098.2,177.6 1093.2,175.7 1091.0,175.2 1085.1,178.2 1083.6,180.5 1075.1,184.3 1073.5,183.9 1064.7,185.8 1070.1,187.6 1059.0,179.9 1054.2,175.5 1050.1,175.1 1046.8,175.8 1039.2,178.5 1034.8,177.4 1029.2,176.2 1025.2,183.1 1021.3,182.5 1016.2,181.1 1014.7,185.4 1004.9,187.2 999.1,190.2 997.1,192.9 993.9,196.9 988.9,194.0 988.7,191.7 982.8,185.7 983.1,181.9 980.3,182.5 973.2,173.9 971.1,173.7 966.9,171.6 960.5,178.5 956.7,180.4 952.6,180.2 951.6,186.6 945.9,189.2 940.9,191.6 942.8,196.4 937.3,201.2 932.6,199.8 929.6,211.6 933.4,211.3 926.7,218.2 920.2,217.8 918.3,222.0 912.7,224.3 904.9,224.4 898.8,222.9 898.8,224.4 889.7,229.0 888.7,227.3 881.7,229.2 882.2,232.3 872.7,235.5 871.1,234.7 864.0,231.7 853.8,233.6 852.0,239.0 853.0,237.9 845.5,237.8 839.5,244.0 836.8,240.5 1322.4,180.3 1334.9,184.3 1334.9,190.1 1331.8,195.3 1317.7,187.3 1336.2,178.2 1334.2,188.0 1324.3,184.9 1346.3,149.8 1343.5,152.7 1323.8,204.7 1322.7,211.5 1323.1,204.5 1311.3,194.9 1313.6,196.3 1308.2,186.5 1318.6,188.9 1328.7,187.0 1312.4,197.6 1333.6,200.0 1319.1,182.5 1311.3,193.7 1338.7,188.3 1316.4,221.6 1315.3,210.9 1325.5,184.7 1332.9,182.0 1317.3,200.3 1308.8,199.4 1335.9,176.0 1321.2,206.8 1319.8,216.9 1323.0,204.4 1337.1,186.9 1333.1,193.2 1320.0,193.6 1313.0,205.5 1307.7,186.6 1342.8,165.7 1304.8,200.5 1309.6,202.7 1308.0,204.0 1314.5,209.5 1313.4,214.0 1314.7,222.6 1314.5,225.5 1322.6,219.7 1320.4,219.6 1327.0,211.1 1328.0,211.6 1331.5,205.9 1335.5,200.9 1340.6,196.6 1338.8,192.5 1343.9,183.2 1343.3,181.6 1343.7,179.3 1343.8,170.9 1343.7,165.0 1344.7,161.9 1347.4,155.9 1345.2,155.3 1347.2,147.8 1345.6,140.5 1345.4,144.2 1347.1,149.2 1342.1,153.5 1340.8,159.2 1339.7,163.8 1336.6,170.1 1335.8,173.5 1326.9,174.2 1326.1,169.9 1319.9,177.5 1322.4,179.1 1313.7,179.3 1309.2,180.9 1308.9,183.6 1307.4,185.8 1304.8,194.5 812.1,307.4 815.9,371.9 818.1,351.3 838.5,379.4 808.2,280.8 822.0,295.7 819.1,302.8 826.8,338.5 821.8,355.3 813.2,335.2 807.7,297.5 807.2,304.0 832.3,375.7 814.5,286.8 815.4,329.2 819.7,365.6 807.1,307.4 842.3,378.4 839.9,378.6 827.8,342.5 812.1,290.2 809.3,284.9 837.0,364.8 811.6,360.8 818.5,370.5 819.5,368.3 831.8,367.2 806.8,338.5 806.1,324.6 818.5,360.9 811.7,325.8 809.1,342.7 810.6,283.3 817.9,369.8 807.2,352.5 812.1,344.7 809.8,367.2 809.9,299.2 830.8,361.5 824.7,339.5 814.1,366.9 803.7,284.4 829.9,368.2 807.5,342.2 814.3,288.0 816.6,277.2 839.9,371.6 811.9,361.2 825.9,375.3 825.1,335.8 827.7,367.8 818.8,344.4 803.2,295.4 810.1,359.0 817.9,285.0 810.1,349.0 815.2,285.3 817.6,307.0 834.8,367.8 817.6,336.6 821.9,318.5 820.2,355.5 805.7,360.3 822.8,341.1 819.9,299.6 811.1,334.3 831.6,378.5 817.2,341.7 821.7,281.5 821.6,318.8 810.5,302.0 838.8,373.5 824.8,346.3 828.4,371.4 801.9,289.3 822.2,302.4 826.0,331.1 824.9,316.8 818.0,378.0 826.3,355.0 829.6,346.6 806.2,300.6 832.5,353.1 817.4,291.0 806.9,298.0 808.0,291.2 836.9,365.8 808.3,290.0 817.3,376.6 809.8,291.2 824.4,371.5 821.6,343.1 823.1,308.2 816.4,293.6 805.8,288.4 809.8,281.5 831.3,366.5 814.6,337.7 820.3,374.2 809.0,365.7 808.1,355.6 806.1,283.2 831.5,354.0 807.9,311.9 804.0,308.5 813.1,356.9 819.5,325.7 804.2,312.5 812.8,362.9 832.0,378.7 815.3,281.7 807.2,314.4 813.2,315.5 821.9,359.1 825.7,373.4 820.5,292.3 814.9,371.4 828.7,348.4 834.5,355.5 708.5,338.1 720.7,297.6 706.8,327.0 725.2,331.0 715.4,306.4 715.5,302.7 717.7,332.7 741.6,396.9 721.3,325.8 723.9,335.7 710.7,320.8 742.3,413.7 717.6,309.6 739.8,405.8 735.0,392.1 706.2,307.7 717.1,294.3 711.8,363.4 745.1,400.6 732.9,284.2 737.9,393.3 719.9,343.3 733.2,405.0 721.6,354.0 716.4,301.5 728.3,387.6 728.7,286.9 723.7,298.9 712.4,345.7 746.3,393.4 732.0,287.7 735.7,411.3 724.4,314.1 711.4,303.8 712.5,339.9 734.3,407.6 710.0,315.6 722.8,311.6 726.0,382.4 714.7,333.8 733.5,348.7 737.5,413.0 737.4,384.0 712.3,308.0 732.8,344.9 720.4,384.6 746.1,395.4 734.9,397.7 726.2,314.1 732.6,383.4 731.5,292.3 740.6,390.8 712.9,305.1 726.3,348.5 718.2,344.4 735.0,278.7 704.6,323.5 721.1,369.4 712.4,341.6 714.7,324.5 737.5,396.3 726.5,294.7 719.1,373.8 733.9,378.7 723.4,354.9 714.1,315.1 724.5,284.0 723.5,353.1 721.8,353.0 725.0,385.9 724.2,321.4 716.6,345.8 734.8,341.8 511.4,325.5 536.2,330.8 560.4,318.4 566.0,317.9 571.1,317.1 562.2,332.3 589.3,300.7 586.2,317.6 593.3,316.6 589.3,340.4 607.0,316.6 615.3,306.2 610.3,334.1 609.3,352.5 631.3,329.5 635.1,337.9 644.9,349.5 653.3,355.3 647.5,304.2 642.7,321.9 649.0,316.9 652.0,312.6 660.1,318.4 661.6,313.1 672.3,318.4 659.1,342.4 672.8,341.2 671.8,353.6 677.3,300.7 684.9,300.7 690.5,318.1 682.4,334.1 690.0,331.5 693.8,334.1 702.6,331.5 686.9,348.7 695.0,346.7 700.1,345.5 703.9,344.2 690.0,361.9 695.0,364.4 707.7,368.2 714.0,337.9 719.1,339.6 716.5,324.0 703.9,306.2 710.7,311.3 646.5,396.1 638.1,402.4 647.5,401.6 673.5,392.8 672.3,405.4 683.1,397.3 689.0,403.1 695.0,393.5 700.1,394.8 703.9,396.1 703.4,386.7 714.0,385.9 715.3,402.4 719.1,402.4 725.4,387.7 733.0,392.3 724.9,417.6 710.7,422.6 702.1,425.1 715.3,430.2 722.3,436.5 728.4,445.4 710.2,441.6 715.8,449.9 722.3,457.5 745.1,427.7 748.9,444.6 769.7,442.9 649.0,419.6 655.8,420.1 660.9,423.9 667.2,418.1 666.7,428.9 678.6,420.6 677.3,426.4 677.3,431.5 687.4,433.7 695.0,433.7 678.1,448.4 659.1,457.5 584.2,416.8 573.1,426.4 579.2,427.7 543.2,437.3 600.9,435.3 624.2,446.9 629.3,457.5 569.0,452.5 551.3,459.5 531.4,467.4 587.5,462.3 591.3,460.1 605.2,465.6 625.5,482.1 669.2,479.5 697.6,474.5 693.0,485.9 587.3,492.7 653.3,500.5 772.2,479.5 782.3,476.2 788.1,480.8 793.7,475.7 793.7,464.4 791.2,458.0 524.3,519.3 546.3,518.2 578.2,520.8 608.3,520.8 647.0,268.3 657.1,268.8 668.5,262.0 671.0,275.4 671.0,289.8 687.4,262.0 690.0,266.3 696.3,275.9 697.6,284.7 700.1,254.4 706.4,258.7 708.9,266.3 717.8,267.0 722.9,272.1 729.2,260.7 733.0,267.8 722.9,281.0 715.3,283.5 707.7,288.5 702.6,296.1 748.2,255.1 769.7,254.4 760.8,262.0 765.9,266.3 770.9,270.8 755.7,268.3 781.0,281.0 787.4,282.2 811.4,260.0 819.0,254.4 801.3,286.0 436.4,472.1 407.3,495.4 374.4,511.6 433.3,545.3 396.4,597.9 438.4,592.3 456.4,623.4 548.2,552.3 762.0,265.9 754.4,279.8 865.7,221.7 856.8,231.8 882.1,229.3 896.8,216.6 1002.3,312.2 997.2,303.9 1015.0,296.3 1020.8,289.5 833.6,386.1 842.9,383.6 813.8,382.3 818.9,378.5 1160.9,139.4 1174.1,133.6 1344.3,126.3 1259.6,112.9 1113.4,229.3 1086.8,225.5 1040.0,248.2 809.5,383.4 825.9,377.1" fill="none" stroke="none" marker-start="url(#mc)" marker-mid="url(#mc)" marker-end="url(#mc)"/>
<path d="M679.8,900.0 754.2,700.0 784.2,700.0 744.4,780.0 708.4,850.0 684.8,900.0ZM849.0,709.1 810.6,804.1 810.0,831.9 812.9,833.8 823.0,832.4 827.2,820.8 833.5,796.0 833.6,795.9 839.8,774.1 843.0,758.2 843.1,757.8 849.0,739.4ZM864.0,702.0 864.0,788.0 868.0,788.0 869.0,702.0ZM891.0,704.0 891.0,743.7 893.8,747.7 903.8,746.1 912.0,742.4 912.0,704.0ZM927.0,790.1 927.0,790.1 926.0,831.8 930.0,859.4 930.0,859.9 931.1,910.0 1037.4,910.0 1040.3,902.6 1040.4,902.2 1040.6,901.9 1040.8,901.6 1041.0,901.3 1041.3,901.1 1041.6,900.8 1062.4,885.0 1073.5,873.9 1079.6,854.0 1083.7,831.8 1083.8,831.4 1083.9,831.0 1084.1,830.6 1084.3,830.3 1084.5,829.9 1084.8,829.6 1085.1,829.4 1102.4,815.7 1106.0,799.6 1106.0,704.0 928.9,704.0ZM803.6,530.9 803.6,565.0 789.0,565.0 789.0,530.9ZM886.9,514.5 886.9,575.0 872.3,575.0 872.3,514.5ZM930.6,554.5 930.6,560.0 916.0,560.0 916.0,554.5ZM1124.8,501.5 1124.8,590.0 1110.2,590.0 1110.2,501.5ZM1147.5,533.4 1147.5,560.0 1132.9,560.0 1132.9,533.4ZM1155.8,533.4 1155.8,560.0 1141.2,560.0 1141.2,533.4ZM1172.3,506.2 1172.3,530.0 1157.7,530.0 1157.7,506.2ZM1179.5,502.0 1179.5,530.0 1164.9,530.0 1164.9,502.0ZM1185.7,506.2 1185.7,530.0 1171.1,530.0 1171.1,506.2ZM1197.6,487.0 1197.6,530.0 1183.0,530.0 1183.0,487.0ZM1222.8,521.0 1222.8,550.0 1208.2,550.0 1208.2,521.0ZM1231.0,517.0 1231.0,550.0 1216.4,550.0 1216.4,517.0ZM1245.8,395.9 1245.8,562.0 1231.2,562.0 1231.2,395.9ZM1268.3,462.4 1268.3,540.0 1253.7,540.0 1253.7,462.4ZM1291.4,414.9 1291.4,540.0 1276.8,540.0 1276.8,414.9ZM1302.8,468.8 1302.8,540.0 1288.2,540.0 1288.2,468.8ZM1315.6,401.4 1315.6,533.0 1301.0,533.0 1301.0,401.4ZM1333.6,349.1 1333.6,560.0 1319.0,560.0 1319.0,349.1ZM1138.0,596.0 1227.0,596.0 1227.0,520.4 1222.6,515.0 1217.8,517.3 1214.1,520.9 1213.8,521.2 1213.4,521.4 1213.1,521.6 1212.8,521.7 1212.4,521.9 1212.0,521.9 1211.6,522.0 1211.2,522.0 1210.8,522.0 1210.5,521.9 1210.1,521.8 1209.7,521.7 1209.4,521.5 1209.0,521.3 1208.7,521.1 1200.4,514.1 1200.1,513.8 1199.8,513.4 1199.6,513.1 1199.4,512.7 1194.1,501.4 1186.9,502.6 1185.0,506.6 1184.9,507.0 1184.7,507.3 1184.4,507.6 1184.1,507.9 1183.8,508.2 1183.5,508.4 1183.2,508.6 1182.8,508.7 1182.4,508.9 1182.1,508.9 1181.7,509.0 1181.3,509.0 1180.9,509.0 1180.5,508.9 1180.1,508.8 1179.8,508.7 1179.4,508.5 1179.1,508.3 1178.8,508.0 1178.5,507.7 1178.2,507.5 1178.0,507.1 1177.8,506.8 1175.9,503.0 1167.0,503.0 1165.4,505.0 1157.4,527.4 1157.2,527.7 1157.0,528.1 1156.8,528.4 1156.5,528.7 1156.2,529.0 1155.9,529.3 1155.6,529.5 1155.2,529.7 1154.8,529.8 1154.4,529.9 1154.0,530.0 1153.6,530.0 1141.7,530.0 1138.0,533.7ZM1346.5,557.1 1345.4,526.8 1343.0,500.7 1336.0,473.0 1331.2,454.0 1331.1,453.5 1331.1,453.1 1329.6,354.0 1323.7,354.0 1323.7,405.0 1323.7,405.4 1323.6,405.8 1320.9,418.8 1320.8,419.2 1320.7,419.6 1320.5,419.9 1320.3,420.3 1320.1,420.6 1319.8,420.9 1319.5,421.1 1319.2,421.4 1318.8,421.6 1318.4,421.7 1318.1,421.9 1317.7,421.9 1317.3,422.0 1316.9,422.0 1316.5,422.0 1316.1,421.9 1315.7,421.8 1315.3,421.6 1315.0,421.5 1314.7,421.2 1314.3,421.0 1314.1,420.7 1313.8,420.4 1313.6,420.1 1313.4,419.7 1313.2,419.4 1313.1,419.0 1311.9,414.0 1305.4,414.0 1305.4,462.0 1305.4,462.4 1305.3,462.8 1305.2,463.2 1305.1,463.5 1304.9,463.9 1304.7,464.2 1304.5,464.5 1304.2,464.8 1303.9,465.1 1303.6,465.3 1303.3,465.5 1302.9,465.7 1302.6,465.8 1302.2,465.9 1301.8,466.0 1301.4,466.0 1291.2,466.0 1290.8,466.0 1290.4,465.9 1290.0,465.8 1289.7,465.7 1289.3,465.5 1289.0,465.3 1288.7,465.1 1288.4,464.8 1288.1,464.5 1287.9,464.2 1287.7,463.9 1287.5,463.5 1287.4,463.2 1287.3,462.8 1287.2,462.4 1287.2,462.0 1287.2,424.0 1281.0,424.0 1281.0,445.0 1281.0,445.4 1280.9,445.8 1280.8,446.1 1275.8,463.1 1275.7,463.5 1272.4,471.5 1272.2,471.9 1272.0,472.2 1271.8,472.5 1271.5,472.8 1271.2,473.1 1270.9,473.3 1270.6,473.5 1270.2,473.7 1269.9,473.8 1269.5,473.9 1269.1,474.0 1268.7,474.0 1258.0,474.0 1258.0,616.0 1347.9,616.0ZM1301.4,589.1 1301.4,533.6 1301.4,533.2 1301.5,532.8 1301.6,532.4 1301.7,532.1 1301.9,531.7 1302.1,531.4 1302.3,531.1 1302.6,530.8 1302.9,530.5 1303.2,530.3 1303.5,530.1 1303.9,529.9 1304.2,529.8 1304.6,529.7 1305.0,529.6 1305.4,529.6 1319.7,529.6 1320.1,529.6 1320.5,529.7 1320.9,529.8 1321.2,529.9 1321.6,530.1 1321.9,530.3 1322.2,530.5 1322.5,530.8 1322.8,531.1 1323.0,531.4 1323.2,531.7 1323.4,532.1 1323.5,532.4 1323.6,532.8 1323.7,533.2 1323.7,533.6 1323.7,600.0 1323.7,600.4 1323.6,600.8 1323.5,601.2 1323.4,601.5 1323.2,601.9 1323.0,602.2 1322.8,602.5 1322.5,602.8 1322.2,603.1 1321.9,603.3 1321.6,603.5 1321.2,603.7 1320.9,603.8 1320.5,603.9 1320.1,604.0 1319.7,604.0 1305.4,604.0 1305.0,604.0 1304.7,603.9 1304.7,610.0 1304.7,610.4 1304.6,610.8 1304.5,611.2 1304.4,611.5 1304.2,611.9 1304.0,612.2 1303.8,612.5 1303.5,612.8 1303.2,613.1 1302.9,613.3 1302.6,613.5 1302.2,613.7 1301.9,613.8 1301.5,613.9 1301.1,614.0 1300.7,614.0 1290.0,614.0 1289.6,614.0 1289.2,613.9 1288.8,613.8 1288.5,613.7 1288.1,613.5 1287.8,613.3 1287.5,613.1 1287.2,612.8 1286.9,612.5 1286.7,612.2 1286.5,611.9 1286.3,611.5 1286.2,611.2 1286.1,610.8 1286.0,610.4 1286.0,610.0 1286.0,593.0 1286.0,592.6 1286.1,592.2 1286.2,591.8 1286.3,591.5 1286.5,591.1 1286.7,590.8 1286.9,590.5 1287.2,590.2 1287.5,589.9 1287.8,589.7 1288.1,589.5 1288.5,589.3 1288.8,589.2 1289.2,589.1 1289.6,589.0 1290.0,589.0 1300.7,589.0 1301.1,589.0Z" fill="#ff7f0e"/><polyline points="762.4,701.2 758.8,702.1 765.3,702.9 753.2,704.8 773.5,705.5 766.7,706.6 758.2,707.0 791.6,706.1 776.0,707.8 753.6,707.1 777.3,708.9 803.1,708.8 782.0,709.8 773.3,709.0 780.4,710.2 770.3,711.9 757.5,711.3 763.9,711.5 749.4,712.4 763.3,713.0 754.7,713.3 764.0,713.1 773.4,713.7 751.3,715.0 775.1,714.2 760.8,714.4 776.9,715.5 778.8,715.2 759.0,715.6 747.3,715.8 750.4,716.6 774.4,717.3 768.3,718.4 756.1,719.9 748.0,720.8 754.7,720.5 783.6,720.1 753.8,721.3 795.7,721.2 760.1,725.7 756.8,725.8 753.0,726.7 753.8,726.3 757.5,727.7 749.1,727.4 753.1,728.5 762.1,729.9 748.7,729.9 770.6,729.8 782.0,730.1 755.2,732.0 768.6,731.7 797.6,733.4 740.7,735.2 746.5,735.2 741.6,735.1 744.8,737.5 775.5,738.0 744.9,738.8 740.4,739.2 744.6,740.0 763.3,739.7 744.1,740.7 737.7,741.1 742.9,741.8 742.3,742.6 760.6,742.6 757.1,742.1 739.7,742.9 754.2,743.3 737.2,743.0 754.8,743.6 773.6,743.6 760.0,747.3 789.5,747.6 746.3,748.1 735.0,748.9 767.3,748.0 747.0,750.9 757.3,751.4 762.4,751.2 764.1,752.9 754.2,752.2 750.6,752.2 763.9,753.6 746.0,754.5 735.4,754.7 736.0,755.7 740.7,755.2 755.0,756.1 750.3,756.2 740.3,757.9 734.9,757.1 736.6,757.5 734.3,758.7 761.7,758.5 745.2,760.8 760.2,760.5 750.2,761.3 757.3,761.3 739.2,761.7 729.4,762.1 749.9,762.7 775.9,762.1 739.0,763.6 739.2,763.6 730.7,764.9 738.0,764.4 735.2,765.1 754.7,766.2 768.0,767.1 745.6,768.5 732.6,769.5 727.5,769.7 739.5,769.6 774.3,769.7 731.0,770.3 751.9,770.1 740.3,770.4 746.4,771.3 739.8,771.4 767.0,771.9 748.3,772.3 739.8,774.1 737.4,774.6 725.8,774.0 750.4,775.5 726.6,776.9 732.8,776.4 771.9,776.6 724.9,777.5 749.9,777.6 736.3,777.9 729.4,777.3 730.0,777.2 726.8,778.9 730.3,780.0 746.8,779.5 727.8,780.2 735.9,780.2 727.2,781.8 724.3,782.3 737.4,783.3 728.9,783.7 741.7,783.1 738.6,783.9 736.8,784.2 723.9,784.2 745.4,784.6 746.3,784.1 768.7,784.7 737.3,786.2 746.8,786.2 725.9,786.1 748.1,787.2 745.4,789.3 738.0,789.5 725.4,790.3 726.6,791.5 721.6,791.8 742.5,791.3 727.5,792.6 729.9,792.6 739.1,793.0 723.2,793.4 733.5,797.7 719.9,797.2 737.2,798.5 735.2,798.3 739.7,798.1 726.0,799.5 725.6,800.4 722.9,800.9 727.1,800.6 727.0,801.4 733.1,802.7 735.5,802.4 734.9,802.4 736.8,803.9 726.7,804.5 732.8,804.6 723.8,805.6 751.0,805.2 725.4,806.0 725.9,806.5 726.6,807.1 737.7,808.5 714.5,809.7 734.0,809.1 720.0,810.7 734.9,810.9 718.2,811.5 720.9,811.3 720.0,811.1 725.2,811.4 717.5,812.8 715.9,813.4 712.4,814.2 733.3,814.1 727.6,814.3 720.9,815.2 753.5,817.3 728.6,821.1 707.3,821.1 746.9,821.9 729.1,822.6 724.2,823.3 713.7,824.0 729.6,823.3 709.0,824.8 705.8,825.5 724.8,825.5 731.9,826.2 722.1,827.7 705.6,827.0 732.1,827.3 724.8,828.9 707.7,829.1 722.9,831.8 742.6,831.6 745.3,832.5 743.3,832.7 710.2,833.3 704.7,833.0 717.8,835.4 710.5,835.4 740.8,836.0 730.3,835.6 723.2,836.5 723.1,836.2 743.7,836.1 713.2,838.7 722.8,838.8 721.6,838.8 706.4,838.9 721.6,839.2 707.4,839.5 711.5,840.7 711.3,840.3 708.3,840.7 720.0,841.1 713.7,841.1 716.6,841.2 725.6,841.4 700.5,842.5 718.2,843.1 712.0,843.2 714.3,843.4 717.1,843.1 702.3,845.0 718.1,844.8 714.6,846.7 736.3,846.0 710.3,847.2 709.4,848.1 710.5,848.8 716.6,849.8 706.4,850.8 708.6,852.8 714.7,854.5 697.0,854.8 699.9,856.7 706.1,856.7 703.7,857.8 710.4,858.3 693.7,859.2 693.7,860.0 704.6,864.2 703.7,866.9 703.9,868.3 699.7,869.3 698.3,869.4 689.7,870.5 697.4,872.5 689.6,872.3 694.1,874.6 690.2,880.8 698.7,880.7 696.7,883.0 697.8,882.0 714.6,884.5 712.9,886.0 695.0,888.2 697.0,889.6 697.5,889.7 688.7,890.4 689.1,891.5 685.8,891.5 685.5,892.3 691.5,894.6 695.2,895.6 688.4,896.8 683.8,899.4 702.2,901.8 681.8,905.1 699.3,906.2 702.2,906.0 678.9,908.0 689.1,907.9 699.3,907.3 681.2,910.0 683.9,910.8 675.0,914.0 678.3,914.4 677.8,914.3 685.0,915.0 674.7,916.1 679.1,919.4 674.3,920.5 675.1,921.1 677.1,921.1 679.2,922.9 690.7,922.7 669.1,927.3 669.8,928.4 669.1,930.7 675.5,933.5 673.4,935.0 666.5,934.8 671.0,935.7 665.5,937.9 673.4,939.3 678.8,939.1 686.2,941.1 665.0,943.9 665.2,944.9 664.2,946.2 665.7,950.8 676.7,953.0 673.1,953.5 671.7,953.6 659.9,954.8 663.6,958.9 659.8,959.7 663.4,960.6 662.7,960.5 660.1,961.4 662.1,962.9 751.3,704.0 750.9,707.2 749.2,710.4 748.5,713.6 746.6,716.8 745.7,720.0 745.0,723.2 743.1,726.4 741.4,729.6 740.4,732.8 739.3,736.0 738.9,739.2 737.4,742.4 736.3,745.6 734.6,748.8 734.3,752.0 732.6,755.2 731.8,758.4 729.9,761.6 728.3,764.8 727.2,768.0 726.3,771.2 724.9,774.4 723.5,777.6 722.4,780.8 721.1,784.0 720.3,787.2 719.4,790.4 718.5,793.6 717.6,796.8 716.0,800.0 714.4,803.2 712.7,806.4 712.6,809.6 711.6,812.8 709.1,816.0 709.3,819.2 707.0,822.4 706.2,825.6 704.4,828.8 704.4,832.0 702.0,835.2 702.0,838.4 700.4,841.6 698.6,844.8 698.3,848.0 696.3,851.2 694.8,854.4 693.7,857.6 693.4,860.8 691.7,864.0 691.4,867.2 689.0,870.4 688.4,873.6 687.3,876.8 685.7,880.0 684.8,883.2 684.2,886.4 682.6,889.6 680.5,892.8 679.5,896.0 678.9,899.2 677.3,902.4 676.3,905.6 675.4,908.8 673.4,912.0 672.6,915.2 671.5,918.4 670.8,921.6 669.1,924.8 667.6,928.0 666.5,931.2 665.2,934.4 664.6,937.6 663.5,940.8 662.7,944.0 660.6,947.2 659.4,950.4 658.4,953.6 658.0,956.8 655.9,960.0 654.5,963.2 825.4,776.7 815.7,832.7 835.5,786.9 826.2,777.7 820.2,820.3 820.2,787.2 820.8,800.0 829.8,793.4 832.6,784.7 822.4,801.1 827.6,803.2 825.7,777.4 818.4,790.9 845.8,734.0 825.4,783.3 833.0,759.3 828.2,804.8 815.1,827.9 841.4,731.5 820.3,828.1 825.0,784.6 812.0,816.2 822.4,792.4 847.7,722.0 819.0,797.0 844.4,746.1 827.4,817.9 824.8,779.4 830.6,780.7 823.3,826.2 847.9,715.3 813.4,828.7 847.3,719.2 845.4,732.3 818.6,819.8 837.7,774.6 811.7,816.9 831.2,796.5 831.1,790.6 839.2,745.5 831.7,775.6 832.2,790.6 843.8,735.9 816.4,792.6 847.6,736.8 824.0,791.7 830.8,794.5 816.3,825.3 812.8,815.1 829.3,779.8 827.1,799.1 815.8,795.1 816.2,817.6 842.7,729.1 836.5,767.5 825.0,810.7 812.6,806.3 833.5,757.9 848.2,713.3 846.3,714.5 845.6,721.5 843.2,721.7 839.9,729.9 836.9,730.8 835.5,731.7 838.5,736.8 835.4,741.9 834.7,746.2 833.6,753.5 830.3,756.9 829.9,759.1 826.3,757.8 823.4,767.9 823.5,773.3 821.0,776.1 819.9,776.2 821.3,783.8 816.7,786.5 817.6,788.2 817.0,792.1 809.8,796.3 811.7,803.7 811.0,803.7 814.3,808.8 806.6,812.9 812.4,816.8 811.6,818.6 809.9,824.2 809.4,828.8 807.5,833.1 813.4,834.6 819.2,831.9 823.1,830.0 825.5,827.9 827.0,826.8 826.9,817.2 827.7,814.5 829.1,814.8 828.7,807.5 832.6,806.0 831.8,800.1 833.8,796.4 831.9,795.9 837.1,788.2 834.7,785.1 837.5,777.2 838.1,780.0 840.4,770.8 839.2,767.4 840.2,765.0 842.5,763.4 844.3,758.3 840.5,752.7 847.2,752.6 847.6,743.3 845.2,741.7 851.0,737.2 850.8,735.4 850.9,729.7 847.4,723.6 845.7,723.3 849.3,719.5 847.8,718.3 854.2,700.0 853.3,705.6 854.6,712.2 855.3,717.6 853.9,721.0 855.9,727.0 853.6,730.8 854.8,737.2 854.0,741.1 853.0,746.7 853.4,752.0 854.3,755.3 853.2,758.6 854.3,762.0 854.9,768.0 853.7,773.9 853.2,778.5 854.1,782.4 853.9,785.6 852.5,790.1 853.1,794.6 854.1,799.3 865.2,713.0 867.4,763.5 867.5,751.9 865.3,782.9 866.4,762.5 867.7,708.8 867.8,754.6 867.4,709.6 867.2,787.0 867.5,729.4 865.2,776.0 867.4,741.7 866.1,772.6 866.8,703.8 863.1,710.0 865.7,713.3 862.8,715.4 863.3,720.1 862.8,728.2 862.4,727.8 862.9,733.1 867.2,735.7 859.7,740.4 862.5,747.0 865.9,750.0 869.0,755.2 861.5,758.8 864.7,759.9 859.1,761.3 865.4,771.0 867.5,773.3 865.3,775.6 862.1,781.2 864.3,785.4 861.5,785.2 868.5,781.9 871.8,781.8 864.0,773.2 866.8,772.3 865.8,767.7 868.6,763.6 865.3,760.2 870.2,757.8 870.8,753.7 868.4,745.1 868.2,746.2 865.6,741.2 870.8,735.6 868.9,736.0 865.6,726.9 869.1,721.3 866.6,718.6 866.0,716.4 864.0,710.3 868.8,706.8 868.9,704.7 863.8,703.1 909.3,737.7 908.8,720.1 900.0,708.5 902.4,713.1 901.0,741.1 910.0,737.8 894.5,727.5 894.6,712.6 895.1,728.9 905.8,726.8 900.9,743.6 896.2,722.6 899.0,724.5 896.9,736.6 901.8,730.7 900.2,721.3 904.2,730.7 893.8,706.3 897.6,715.1 904.2,743.6 893.5,740.9 892.2,711.5 896.2,711.0 902.1,732.6 891.1,706.5 890.0,709.9 889.2,718.8 893.1,719.4 890.1,722.4 891.6,735.0 890.0,738.2 892.3,742.6 897.4,748.3 899.0,745.1 900.0,746.9 901.0,743.3 910.4,734.6 907.0,733.2 913.0,723.1 909.1,720.7 913.2,717.7 911.1,715.4 907.7,706.5 906.1,705.7 901.9,704.5 898.4,706.1 897.4,706.9 913.7,793.6 916.3,783.8 902.8,748.1 907.3,780.3 907.9,798.4 896.2,758.7 894.6,763.0 915.4,783.6 901.5,755.0 889.3,748.0 909.8,771.3 896.2,774.1 911.6,759.8 907.9,797.8 911.6,760.1 911.7,793.4 902.9,777.1 897.6,773.5 914.1,760.0 915.3,793.7 914.8,754.3 908.4,787.5 905.4,761.7 913.9,748.6 895.2,771.5 914.8,756.4 952.5,934.8 979.9,841.1 941.3,807.8 966.0,868.9 1007.5,967.8 934.9,795.2 1060.7,801.0 989.8,821.0 981.3,866.2 1081.1,815.4 1021.9,723.8 1001.2,882.2 947.8,799.4 943.3,804.5 1040.7,713.9 996.0,732.7 968.4,759.4 969.0,788.8 1009.0,830.5 1009.5,766.8 967.2,865.1 1042.9,748.6 1078.8,719.4 1075.0,741.8 1017.0,909.4 952.7,718.4 1069.2,862.6 981.7,761.4 1014.9,842.2 1010.1,806.0 1036.5,860.1 1077.0,828.2 972.6,886.1 942.1,901.1 953.2,738.2 1090.6,771.6 947.6,843.0 962.8,963.9 947.0,911.5 1002.9,781.7 948.4,756.2 992.3,970.0 942.0,813.9 1057.5,832.8 973.8,776.3 1049.3,720.1 1033.2,799.9 991.8,760.7 1081.6,764.1 1022.4,806.6 968.4,904.8 944.0,826.8 988.3,970.5 1078.1,810.2 1013.3,832.9 963.7,953.6 980.0,746.3 993.1,777.7 1009.6,875.0 930.8,772.7 1064.6,807.9 971.0,710.1 1072.3,705.6 1027.0,872.1 1045.4,855.4 1012.6,844.1 970.0,869.4 959.8,814.0 942.4,783.0 939.2,808.6 1011.1,894.5 1073.4,716.7 1014.0,717.3 1088.3,722.2 1010.6,815.7 973.9,744.7 1098.5,811.2 1075.1,832.7 981.9,718.7 997.2,927.4 1012.5,878.6 1076.0,814.1 952.9,814.0 1059.6,767.7 1088.8,824.9 1056.5,716.0 966.9,889.8 978.3,740.7 1017.2,742.5 957.2,852.9 1079.8,754.3 976.5,752.5 987.7,862.8 1008.1,751.3 943.0,750.1 1007.2,854.0 1010.9,810.7 1089.8,766.8 981.7,734.6 961.1,948.5 1071.0,809.3 1038.4,842.9 1018.6,878.6 950.3,727.6 1034.7,839.7 964.7,805.9 943.7,768.3 989.8,857.7 1000.1,854.7 1001.3,876.3 1009.7,901.2 1024.7,888.6 1032.6,792.4 962.1,751.8 1036.2,850.8 1002.7,812.8 988.5,922.7 948.7,779.1 941.7,959.5 955.8,721.1 1009.1,752.9 929.3,823.5 1003.5,738.7 1047.3,853.4 1010.7,862.5 1071.3,853.4 963.1,729.9 958.2,883.7 953.5,849.4 961.3,878.2 972.9,882.4 1037.2,720.8 1032.6,719.7 947.5,799.2 931.2,769.9 967.7,775.6 1078.3,722.7 968.7,908.8 943.0,855.1 947.1,928.3 1014.9,734.1 947.6,971.9 949.7,760.8 1011.9,930.8 1015.7,714.2 982.3,737.1 952.2,817.5 963.8,784.6 988.7,956.6 1048.7,834.0 1078.5,737.1 1036.5,765.4 1102.5,769.3 1062.9,730.4 1019.2,872.7 1055.3,800.6 938.9,803.0 1066.1,809.5 1010.9,872.2 1015.6,900.4 1078.7,841.3 1006.7,940.9 983.9,714.4 978.6,819.8 953.3,867.5 961.3,893.7 1014.8,912.8 1016.7,745.8 1048.6,732.1 1045.0,768.0 933.4,960.2 1042.7,830.1 1094.8,776.0 1052.6,782.0 1012.4,912.5 952.9,812.3 1088.5,807.4 931.4,817.9 967.4,871.8 989.8,947.5 1065.5,842.3 1021.1,902.3 979.0,914.6 1101.7,758.7 980.3,863.2 1047.0,713.0 1004.9,771.4 1013.1,880.8 988.8,884.8 1046.6,739.1 1055.0,725.2 1023.6,760.7 978.8,845.0 966.1,962.6 976.3,819.3 1081.6,805.1 946.3,901.8 1074.1,747.2 1015.9,879.5 1078.9,822.4 947.0,827.3 1008.8,797.8 1028.5,960.9 977.2,857.4 1052.5,841.8 1096.1,769.0 1045.2,760.3 987.0,708.5 938.0,739.8 949.0,867.2 969.1,805.8 1053.5,733.3 1034.9,726.3 1014.5,756.0 981.0,871.7 1023.5,850.2 1048.9,776.0 981.6,890.0 1100.4,802.2 956.3,711.4 1091.3,726.3 1039.0,807.3 931.7,826.7 1078.3,842.4 1066.2,795.2 941.2,917.0 932.8,726.9 1036.6,884.1 993.1,839.5 989.4,782.4 1048.8,759.6 979.8,947.9 966.6,920.7 950.7,948.1 933.8,857.4 989.8,950.9 954.1,720.1 992.5,967.3 965.4,766.7 935.8,716.2 997.6,811.4 1059.5,825.8 948.5,813.0 997.6,779.5 983.1,796.1 1010.2,920.2 1016.3,964.0 1079.0,829.8 1040.5,766.3 960.8,806.0 1034.1,748.5 995.5,762.9 1102.3,738.3 1076.3,795.0 1077.2,817.0 938.6,789.3 948.0,903.7 945.5,765.8 1017.8,768.1 946.4,767.1 961.1,798.9 957.1,774.6 951.7,841.2 1008.0,708.8 936.9,833.2 953.3,850.1 946.3,831.0 1014.3,800.4 946.2,836.2 1017.1,879.9 990.8,780.3 1024.8,865.8 1004.0,791.9 987.5,726.8 937.5,715.3 956.8,909.5 994.5,742.2 981.8,887.1 987.9,888.8 1086.4,795.4 1038.9,824.2 1026.8,946.6 984.0,882.2 1093.1,793.9 950.0,843.7 1070.6,715.1 1014.4,837.9 982.9,891.0 1056.9,878.8 1064.7,722.9 971.4,832.5 943.1,733.7 1075.4,826.5 1050.4,733.4 966.8,849.5 976.0,834.1 994.7,797.9 977.6,833.5 1075.2,835.6 960.4,850.1 1074.0,712.9 1041.2,763.6 1006.1,774.0 1067.1,847.9 1004.7,706.2 935.4,740.1 1028.0,923.6 1045.5,713.9 1000.5,962.1 931.1,792.9 965.8,887.6 935.9,758.5 958.4,858.6 962.7,792.0 985.9,823.1 1076.2,796.8 983.6,718.3 993.4,899.1 1060.3,836.1 1000.5,802.5 1053.3,777.4 1070.3,766.2 979.8,747.2 1095.9,772.8 1006.7,740.3 1070.6,868.2 1006.9,924.5 1048.9,810.4 1045.8,863.8 1031.5,721.2 955.7,731.2 1089.3,761.3 956.0,837.6 973.1,754.1 1045.7,846.1 1059.3,870.7 1058.2,744.4 1000.1,753.6 1023.1,868.3 997.9,825.5 934.9,888.7 1022.1,847.8 973.4,708.7 943.4,938.0 981.8,814.1 995.5,851.7 1024.8,789.2 1002.1,808.4 1065.9,857.0 996.6,833.8 984.6,933.4 947.3,836.1 1018.9,869.3 1103.5,734.0 933.6,707.4 1068.0,868.4 1041.2,756.0 968.7,903.5 1036.3,789.0 932.8,813.1 1014.7,838.6 1035.6,841.5 1090.1,816.7 1076.9,718.9 958.9,777.3 1026.5,764.0 1068.8,712.2 960.0,778.6 1015.5,734.3 973.7,945.3 1015.0,791.4 1008.0,942.4 987.3,754.6 1040.3,897.6 996.6,722.5 1017.6,940.9 1015.7,903.8 1030.3,725.3 993.9,727.6 943.6,723.8 1077.7,736.6 1029.8,735.4 1003.4,913.8 1077.3,728.1 971.6,969.3 997.6,859.5 934.6,966.6 1049.5,716.3 1031.4,921.0 935.3,845.1 954.3,925.7 1003.4,868.2 948.8,919.9 978.5,712.7 962.1,785.4 1001.4,860.3 996.7,895.1 1043.3,801.7 932.1,811.9 993.1,850.0 962.9,886.5 1075.0,705.7 1058.7,828.2 1055.7,839.8 934.8,746.0 946.6,898.2 1041.2,783.3 1067.3,748.5 1029.7,847.7 1007.9,965.3 1030.7,931.2 1075.4,822.5 1014.3,754.6 966.5,913.5 974.8,909.9 1016.2,900.5 1042.1,809.3 1019.8,939.9 1018.8,855.6 1097.4,711.2 969.5,771.6 963.7,902.5 939.2,732.9 944.9,848.2 1061.7,840.5 1002.1,764.9 1095.3,777.7 934.4,709.8 1030.4,783.1 1034.4,878.6 1065.5,732.7 1078.6,774.3 1019.7,746.6 1067.6,841.0 1082.9,711.6 1011.2,806.2 950.0,836.0 971.4,790.6 1078.9,764.4 1007.9,729.9 1047.4,794.6 986.3,725.0 959.8,804.0 1063.2,755.1 1029.0,705.9 1049.3,826.9 980.0,784.8 1094.4,798.7 999.7,910.3 1080.3,786.1 966.6,899.6 1009.5,791.2 951.1,758.2 1047.2,883.0 933.5,840.5 956.3,742.7 942.6,853.5 1021.4,937.9 1021.5,807.4 955.0,863.7 958.9,799.4 1051.4,732.8 1010.2,748.8 963.9,822.0 964.8,936.1 1042.9,825.6 979.2,846.4 929.3,796.5 1104.4,767.5 938.4,922.7 963.0,778.4 1049.4,711.4 985.9,736.0 1058.8,738.4 966.2,881.9 977.6,772.9 1027.1,909.2 971.6,869.8 1084.2,798.8 956.0,756.7 1017.5,821.1 935.6,717.1 1067.5,730.2 927.5,829.8 1034.5,725.7 1049.1,728.1 958.5,923.6 1017.6,914.6 947.0,860.5 1002.6,737.8 943.3,883.8 954.5,862.5 1093.7,801.5 1068.6,806.7 965.0,725.3 1019.7,839.2 1043.3,815.3 928.2,840.1 1087.4,737.7 930.2,736.5 1044.0,790.8 1032.3,753.6 1099.4,748.5 961.4,796.4 1055.3,708.2 1040.3,867.4 1023.8,819.2 1012.1,953.2 1102.5,741.0 1032.7,870.4 1023.8,821.0 940.8,956.7 979.2,951.4 1065.6,790.8 976.3,948.9 1088.6,765.4 1014.5,900.4 1054.0,864.9 1029.8,713.1 961.9,895.2 1079.7,758.9 942.4,717.9 1036.1,894.0 1029.9,828.9 991.3,754.4 946.4,791.1 1064.9,734.2 1024.3,802.1 942.2,868.7 969.0,765.0 1033.4,746.1 973.1,812.2 1038.6,820.8 1042.8,780.9 1067.7,733.8 1015.8,897.2 1018.4,826.9 960.6,962.1 1013.3,853.2 1048.6,773.4 1039.9,817.7 941.0,803.2 945.7,867.3 1046.2,850.5 995.5,749.9 1069.9,752.6 1052.3,869.9 1056.7,723.0 979.0,864.3 982.0,834.4 986.1,823.0 1009.4,749.0 947.1,761.3 985.7,913.3 955.1,722.4 1027.5,815.6 1043.7,832.8 1021.7,826.9 1092.1,792.4 985.5,706.3 1087.3,714.1 1096.6,808.9 1049.6,740.5 1007.0,841.5 961.4,841.9 931.1,734.4 1034.4,812.8 1061.2,764.8 1093.6,763.5 952.7,844.6 1085.2,773.7 1032.7,870.2 933.2,744.2 1073.6,821.8 997.9,802.6 930.7,783.7 1050.2,767.9 1082.0,731.1 1092.4,778.3 1037.5,787.1 978.4,765.4 935.0,892.3 979.6,879.1 1024.6,841.7 1019.6,758.6 1054.7,878.8 995.1,741.9 1054.0,856.6 1056.4,807.5 961.1,727.8 967.0,742.5 944.2,868.5 1041.9,851.8 1074.7,864.5 1098.3,706.6 1018.9,745.4 1102.3,803.1 1014.1,764.0 1029.4,871.1 948.5,710.7 982.8,792.7 1018.5,888.9 942.6,883.8 975.5,854.2 961.3,797.2 986.8,746.9 953.9,841.8 942.4,777.7 957.4,841.7 929.5,732.0 1057.8,801.4 1026.5,864.4 1090.9,768.9 1071.7,711.1 953.5,922.4 1059.6,867.0 961.1,878.0 959.0,855.6 956.4,943.8 945.1,930.9 1037.8,843.5 1089.1,812.2 1089.4,816.9 1016.5,772.8 1009.7,756.2 1008.6,706.0 1080.1,766.4 1051.9,885.8 1041.5,837.1 989.0,760.2 1000.9,787.2 1005.8,809.9 1096.0,761.4 1027.5,954.3 1049.1,842.3 966.8,772.8 956.5,964.4 997.2,715.6 936.0,920.4 1005.4,899.7 999.5,907.9 972.9,817.4 962.4,737.6 974.3,714.8 968.7,905.1 947.6,838.6 978.5,744.8 977.6,857.6 944.2,750.7 1045.9,814.0 993.2,862.3 1066.9,838.4 1062.4,876.8 972.7,842.0 971.0,705.4 1012.0,729.7 998.5,754.9 1001.0,862.0 1016.7,793.9 943.2,872.0 990.4,738.1 1078.8,850.8 1017.4,920.4 981.5,869.0 1042.8,817.3 934.6,904.8 1018.8,962.3 945.6,834.7 1067.1,844.0 1078.2,813.2 982.8,800.7 994.5,897.4 954.6,903.4 1041.1,747.5 1035.8,782.7 977.3,707.0 978.9,822.1 1081.4,728.4 1015.8,751.9 1026.3,863.8 970.0,848.8 1078.3,746.1 1098.0,805.5 982.7,926.4 1060.7,862.3 933.0,921.7 964.0,913.2 942.9,872.4 1014.5,900.1 962.5,791.1 973.2,923.4 1103.6,798.8 1026.0,871.3 1065.1,833.1 1033.2,730.8 1066.0,795.1 932.4,898.1 998.2,885.2 1024.6,910.6 1045.1,852.6 1072.1,785.9 978.1,836.7 1053.7,804.1 1008.6,933.1 984.3,720.8 963.3,884.2 1061.2,716.8 982.3,740.4 997.2,874.7 939.4,754.2 938.7,727.0 933.7,726.6 1013.5,768.7 1004.7,833.7 1057.0,824.3 960.7,802.4 947.8,966.6 1031.9,841.9 959.8,852.7 932.8,872.8 1087.8,746.2 1047.3,743.3 996.3,874.1 1029.4,775.0 957.1,827.7 1026.8,838.2 1019.6,750.8 1028.2,853.9 1046.9,771.8 1016.4,796.0 1006.8,813.4 948.1,733.2 976.2,877.3 1080.5,831.7 1102.4,800.7 1031.6,864.0 1093.2,775.7 1010.6,705.9 976.0,874.3 973.1,918.3 1021.6,963.0 977.4,906.2 930.6,829.8 1022.8,840.5 1035.2,887.0 945.6,828.5 939.4,879.8 1089.4,744.4 1074.3,772.8 976.7,774.8 1070.4,809.8 1012.8,847.1 1041.5,707.5 1017.3,829.5 995.3,806.5 967.0,938.1 939.2,819.4 967.7,729.4 976.1,952.0 946.5,885.4 973.3,934.9 1052.2,853.4 1101.6,713.0 975.1,785.5 986.4,771.9 929.3,793.5 943.2,796.6 1084.3,778.6 1050.4,777.4 1045.0,790.2 1004.6,917.2 1014.8,881.2 980.6,712.2 950.5,923.7 954.9,899.1 991.8,957.4 1031.5,913.2 964.2,843.9 1002.7,850.2 951.6,919.9 1001.4,845.4 993.4,730.8 1011.3,963.1 971.6,735.7 933.2,876.6 1008.0,755.3 943.5,752.6 964.1,795.6 1092.5,800.6 997.2,788.9 937.3,870.2 998.7,845.5 939.1,907.3 1077.9,721.3 958.1,811.8 951.3,926.3 974.0,837.0 995.5,917.3 958.0,894.8 1045.4,719.8 1085.8,791.0 1032.2,828.7 1077.1,779.5 963.3,921.8 1076.3,721.1 954.4,708.2 1089.9,762.4 1002.6,791.8 1068.3,845.2 969.9,832.5 985.2,894.6 1085.1,797.6 930.6,809.7 987.7,742.1 980.9,824.7 1001.1,963.1 978.7,797.7 1055.8,750.3 1054.8,811.8 1004.6,722.9 1093.8,776.1 945.2,795.9 969.1,831.7 973.9,934.2 941.9,882.1 1009.5,792.1 948.5,904.6 1093.2,711.6 973.4,769.6 964.7,787.2 1072.0,860.1 1006.8,830.9 1071.7,735.9 990.4,857.4 931.5,740.2 996.1,814.6 929.5,782.7 1060.0,716.1 1000.7,852.3 999.6,803.5 939.5,762.8 976.8,728.0 954.3,899.1 981.2,902.0 971.4,894.2 934.9,811.7 995.2,724.1 980.6,837.4 943.1,785.0 944.7,729.3 956.7,903.0 1001.3,893.0 1067.0,814.5 1081.6,835.3 982.2,854.5 1052.2,840.3 1026.5,751.3 931.5,756.0 1099.6,788.6 945.0,938.3 968.4,838.5 951.2,839.8 935.1,935.0 1037.6,706.1 932.8,716.4 1034.3,828.6 955.3,816.4 960.2,794.9 947.1,842.0 938.0,889.3 931.5,796.7 997.1,856.0 985.1,894.3 969.8,885.4 1075.9,801.8 1045.5,740.6 964.9,805.7 957.4,924.0 1064.2,863.6 1093.2,789.0 999.3,817.6 989.4,715.7 1022.1,948.6 1010.7,795.1 1007.5,810.9 1032.8,868.5 973.4,855.4 1078.1,714.9 994.4,909.3 995.2,830.8 933.9,971.1 963.7,820.1 1085.4,814.7 941.1,775.6 947.8,708.5 1068.3,794.6 1093.4,775.0 933.1,835.7 975.6,962.5 981.3,717.5 984.3,961.2 942.8,846.7 980.4,719.1 1021.9,719.2 1040.1,749.5 959.1,970.6 1102.1,758.5 1043.2,850.2 1053.1,810.1 1038.6,889.7 1101.5,717.9 933.6,910.2 962.5,795.0 981.5,708.6 934.8,962.8 967.0,901.8 1093.6,800.8 1053.4,745.7 937.5,909.2 1079.7,770.3 936.8,888.2 997.1,909.5 1073.2,854.7 1033.9,830.6 974.8,888.7 1084.1,785.1 970.6,725.3 1030.4,891.9 1072.7,775.6 1010.0,800.4 1075.5,804.0 1073.6,842.2 982.5,778.5 977.8,846.6 961.3,920.2 1102.6,707.6 1040.4,814.5 1027.0,859.8 943.2,858.7 969.7,724.7 967.4,777.9 1008.1,735.7 963.5,880.5 970.5,850.1 987.2,832.3 961.2,740.3 1083.3,796.5 1017.6,768.6 981.6,781.4 969.8,715.9 1012.6,829.1 979.4,705.1 1048.4,768.7 1040.2,722.7 984.8,966.7 968.5,827.3 1027.3,847.5 1088.0,811.1 1026.2,758.9 1068.5,863.9 939.6,826.1 1014.6,748.0 943.9,825.9 1036.7,855.8 948.4,770.5 943.3,964.1 1035.0,705.6 973.3,734.6 956.9,845.5 1022.8,776.1 962.7,970.2 978.0,953.4 950.5,821.3 1061.1,859.6 1091.8,720.2 1030.9,897.3 944.0,806.4 1004.3,743.8 1093.9,759.3 958.7,910.0 956.1,938.7 967.2,864.9 1095.3,817.6 1050.3,755.4 955.8,883.3 939.5,900.6 985.1,842.0 951.4,718.0 1029.7,799.3 1037.1,736.0 1024.0,724.9 1099.4,772.3 1011.0,724.3 1038.6,869.0 980.1,933.8 1007.4,805.3 1019.1,779.6 969.1,892.5 1079.6,738.7 1083.3,745.3 1085.3,815.7 994.6,786.2 959.9,826.2 934.7,780.9 1077.6,707.2 1024.2,899.8 1069.5,862.3 1069.6,809.1 934.9,804.2 979.6,772.8 977.7,733.3 1023.4,722.9 1047.1,707.0 1035.8,753.2 1062.5,828.7 1042.9,880.5 980.9,965.6 983.0,906.7 998.6,801.9 943.5,937.5 1003.7,739.5 1087.6,767.7 1053.4,807.3 961.3,829.9 1041.2,808.8 1064.2,814.0 951.7,882.3 1093.3,763.6 996.1,717.9 976.3,760.4 968.6,915.6 1068.0,744.5 1025.3,931.0 989.8,709.1 952.0,929.8 1034.5,764.3 940.0,710.2 1034.7,811.4 1065.3,858.3 932.6,817.2 952.2,883.9 960.0,908.2 1060.1,771.9 938.5,964.7 1040.2,879.6 1088.8,819.0 1085.9,725.2 1006.5,833.3 1048.8,767.6 962.4,774.3 1004.1,745.9 936.4,798.7 1086.4,773.9 1034.8,821.7 951.2,728.4 1018.6,820.1 937.8,906.1 1048.6,735.9 970.6,708.9 973.3,873.1 995.7,907.8 963.5,847.1 1003.6,904.4 933.3,832.4 966.4,821.9 931.2,739.0 1021.2,838.0 932.4,843.2 1002.9,709.8 1051.1,823.5 1061.0,840.6 1035.7,825.6 1019.2,964.9 1027.3,959.0 937.1,727.3 1017.0,859.2 985.2,849.2 1048.1,856.3 937.4,956.1 1017.0,776.0 1003.0,889.4 958.7,888.2 1058.1,848.8 1082.3,808.1 1090.9,754.7 1037.0,833.1 1001.1,875.6 1033.9,832.8 941.1,814.0 1017.5,824.3 940.5,783.0 997.9,943.6 1063.8,729.2 1052.5,888.1 1070.2,759.6 1013.7,796.2 1000.9,748.2 1002.1,908.1 1065.4,833.0 1099.2,784.4 974.4,819.4 1006.7,790.2 1004.5,714.6 1063.5,800.4 1104.9,733.5 990.1,731.4 998.4,758.4 929.3,711.0 933.0,706.4 926.2,718.9 930.4,727.4 929.2,723.5 928.6,731.4 928.1,737.1 928.2,744.2 931.0,747.2 927.2,759.1 929.3,756.8 929.4,759.5 927.2,765.1 927.1,770.5 929.7,776.2 928.6,782.7 928.9,788.2 927.1,790.4 926.7,796.3 930.7,804.0 927.7,812.2 930.8,811.2 923.8,819.5 928.0,822.8 926.6,826.0 930.3,830.4 927.2,834.8 927.3,842.9 928.2,847.2 925.4,851.7 930.9,855.2 929.6,861.8 930.7,867.2 928.7,877.0 931.8,878.3 932.5,882.5 930.1,887.2 930.4,894.4 929.6,895.7 934.2,901.9 932.0,904.7 932.0,914.1 934.6,957.5 932.3,964.3 930.1,964.4 934.2,967.9 960.2,973.6 972.9,974.7 980.2,972.3 981.4,973.0 990.8,970.2 994.7,970.5 1007.2,973.5 1011.8,973.7 1020.0,971.0 1024.1,971.5 1025.6,969.2 1028.8,953.5 1030.3,952.9 1027.3,950.5 1029.9,943.8 1033.6,936.5 1030.0,933.0 1030.0,924.1 1032.3,925.4 1033.6,913.4 1037.3,904.3 1038.2,904.3 1045.2,894.9 1043.0,896.9 1052.6,892.8 1054.1,891.2 1061.0,886.2 1062.3,882.2 1066.7,879.8 1070.5,877.3 1071.6,878.7 1071.6,869.5 1074.4,865.5 1077.4,861.4 1078.7,856.7 1079.8,852.2 1076.6,843.8 1078.1,843.6 1083.1,832.7 1082.0,830.3 1085.5,825.8 1088.5,822.3 1097.2,820.4 1100.8,813.7 1103.5,813.0 1106.4,813.7 1103.4,800.9 1105.3,800.3 1104.8,794.0 1109.5,784.9 1106.5,786.2 1105.6,779.6 1106.3,772.0 1107.4,767.0 1106.4,764.7 1105.7,757.8 1107.6,755.0 1103.2,744.6 1103.9,743.8 1105.1,740.7 1104.7,732.4 1103.1,726.2 1101.8,723.3 1103.4,717.0 1105.2,712.6 1106.6,708.8 1107.1,708.4 1095.6,706.7 1092.7,703.8 1084.7,704.0 1082.1,704.0 1075.2,703.8 1074.2,702.2 1066.9,707.1 1063.7,703.1 1059.8,705.7 1051.9,702.7 1047.0,701.9 1039.3,704.1 1037.0,707.5 1033.6,703.5 1029.7,706.2 1022.4,708.2 1015.6,705.7 1013.4,705.9 1008.8,708.7 1005.8,705.3 993.5,702.6 990.6,704.4 987.6,701.2 979.4,709.5 980.9,705.4 975.7,701.1 966.8,705.6 962.9,702.7 955.7,704.5 950.3,703.5 949.7,706.1 946.3,710.8 936.4,704.6 930.8,706.1 916.7,902.5 917.4,856.7 920.5,892.3 917.0,953.6 914.2,945.7 910.1,896.6 921.0,862.8 913.6,911.9 909.4,944.2 915.1,956.2 920.2,820.4 915.3,882.5 920.5,851.8 915.3,877.3 908.9,896.5 919.3,795.5 915.6,901.6 915.2,946.1 912.0,892.8 918.0,888.8 916.4,794.8 915.0,824.0 916.8,846.4 912.2,924.7 920.5,907.7 921.0,887.4 1056.4,914.6 1074.3,885.1 1043.6,930.6 1060.0,903.4 1088.7,889.6 1092.2,839.8 1077.3,882.9 1105.2,826.9 1073.5,890.5 1100.6,872.3 1055.4,921.7 1084.7,865.2 1066.6,899.4 1048.6,921.1 1095.5,854.9 1042.1,932.6 1083.9,881.7 1098.4,848.5 1040.0,966.2 1095.0,864.3 1047.0,922.3 1079.2,899.6 1067.8,894.3 1051.7,904.7 1066.5,902.1 795.7,525.4 796.5,527.8 796.5,529.3 796.8,530.9 796.0,533.4 795.9,535.9 797.0,538.1 795.7,539.6 796.4,542.1 796.3,544.5 796.0,546.9 796.2,549.1 796.6,550.8 796.3,553.2 796.6,555.1 795.9,557.2 796.2,559.1 795.7,560.8 796.1,562.8 880.1,509.0 879.7,511.3 879.7,513.6 879.2,515.9 879.8,518.1 879.9,520.1 879.5,522.0 879.5,524.0 879.2,526.2 879.7,527.8 879.6,530.2 879.4,532.4 880.2,534.4 879.7,536.1 879.9,537.8 880.0,539.6 878.6,541.3 879.7,543.6 879.5,545.9 879.6,547.8 879.4,550.2 879.8,551.7 879.7,553.4 879.0,555.6 879.5,557.9 879.2,560.0 879.0,561.7 879.7,564.0 879.3,565.7 878.4,567.4 879.7,568.9 879.6,571.3 879.5,573.2 923.5,549.0 923.0,551.0 922.9,552.9 923.2,555.2 923.5,557.3 923.5,559.2 1116.9,496.0 1117.1,497.7 1118.2,499.8 1116.6,501.7 1117.3,503.5 1117.3,505.4 1117.6,507.4 1116.7,509.2 1117.3,511.6 1117.5,513.4 1116.9,515.5 1116.6,517.8 1117.5,519.4 1117.4,521.9 1117.1,523.5 1117.5,525.0 1117.4,527.0 1117.1,528.5 1118.0,530.3 1117.7,532.6 1117.0,535.1 1117.2,536.8 1117.8,539.1 1117.2,540.8 1117.3,542.6 1117.6,544.7 1117.5,546.9 1117.7,548.8 1117.4,550.3 1118.0,552.3 1117.5,554.6 1118.0,556.9 1117.7,559.3 1117.4,561.0 1117.7,562.6 1117.4,564.5 1117.8,566.7 1117.4,568.8 1118.3,571.0 1117.6,572.9 1117.2,575.2 1117.7,577.2 1117.8,579.1 1117.2,581.3 1117.7,582.9 1117.7,584.6 1118.8,586.6 1117.1,588.9 1139.0,527.9 1140.0,530.0 1139.9,532.1 1141.1,534.5 1140.7,536.8 1140.5,539.2 1140.6,540.7 1140.1,542.7 1140.4,545.0 1140.8,547.1 1140.3,549.3 1140.4,551.3 1140.8,553.0 1140.5,555.2 1139.4,556.8 1140.3,558.4 1148.8,527.9 1148.4,530.0 1148.7,532.0 1148.7,534.0 1148.2,535.5 1149.1,537.7 1148.0,540.0 1148.0,542.3 1148.2,543.9 1148.7,546.1 1148.3,548.6 1148.5,550.5 1148.7,552.8 1148.2,555.2 1148.2,557.4 1147.2,559.5 1165.1,500.7 1164.8,503.0 1164.6,505.3 1165.4,507.4 1164.9,509.5 1165.3,511.0 1164.3,513.5 1164.5,515.9 1165.2,518.2 1165.5,520.1 1165.3,521.7 1165.2,523.6 1164.7,525.9 1164.6,527.8 1165.0,529.8 1172.9,496.5 1171.9,498.9 1172.1,500.8 1172.3,503.2 1172.1,505.1 1171.9,507.4 1172.1,509.9 1171.9,512.1 1171.9,514.3 1172.4,516.2 1172.5,518.2 1171.6,520.1 1172.3,522.2 1172.4,524.7 1172.3,526.9 1171.9,529.2 1178.4,500.7 1178.5,503.1 1178.5,505.5 1178.0,507.9 1178.7,510.4 1177.9,512.0 1178.0,513.5 1179.0,515.4 1178.3,516.9 1178.8,518.9 1177.6,520.7 1177.8,522.3 1177.6,524.0 1178.0,526.4 1178.3,528.5 1190.3,481.5 1190.5,483.3 1190.9,485.0 1190.6,487.2 1189.8,488.8 1190.6,490.8 1190.3,493.3 1190.4,494.9 1190.6,496.4 1189.4,498.9 1190.5,500.5 1190.1,502.7 1190.6,504.8 1189.8,506.6 1190.5,508.8 1191.1,510.4 1190.6,512.5 1190.4,514.6 1191.0,516.5 1190.1,518.5 1190.2,520.3 1190.4,522.3 1190.1,524.0 1190.0,526.3 1190.3,528.0 1189.5,529.8 1215.2,515.5 1215.4,517.3 1216.1,519.5 1215.6,521.6 1214.9,524.1 1216.2,525.6 1215.5,527.8 1215.7,529.4 1215.0,531.3 1215.4,533.0 1215.1,534.5 1215.7,536.0 1215.2,538.1 1215.2,540.0 1216.4,542.2 1215.4,544.5 1215.6,546.8 1216.0,548.6 1223.2,511.5 1224.5,513.9 1223.6,515.6 1223.9,517.6 1224.5,519.3 1223.3,521.1 1224.1,523.3 1223.1,524.9 1222.4,527.3 1224.1,529.3 1223.3,531.4 1223.8,533.0 1223.3,535.3 1223.6,537.8 1223.9,539.8 1223.9,542.1 1223.4,543.7 1223.6,545.5 1224.5,547.7 1223.6,549.9 1238.5,390.4 1238.1,392.5 1239.0,394.9 1238.8,396.7 1239.0,398.3 1238.4,400.1 1238.5,402.2 1238.4,404.7 1238.6,406.2 1238.5,408.4 1239.1,410.0 1238.2,411.5 1238.9,413.5 1238.0,415.0 1239.4,416.6 1238.9,418.8 1238.4,420.8 1238.2,422.4 1238.4,424.5 1238.1,427.0 1238.3,429.4 1238.5,431.2 1238.2,433.6 1237.9,436.0 1238.4,437.9 1238.3,440.4 1238.5,442.8 1239.0,445.1 1239.2,447.2 1238.0,449.4 1238.7,451.1 1238.8,452.7 1237.9,454.8 1238.6,456.4 1237.5,458.4 1238.8,460.4 1238.2,461.9 1237.4,463.7 1238.7,465.3 1238.1,466.8 1239.1,468.8 1237.4,471.0 1237.8,473.4 1238.2,475.7 1237.9,477.6 1238.8,480.0 1238.6,482.1 1238.3,484.3 1238.7,486.2 1237.9,488.7 1238.6,491.0 1238.5,493.5 1238.1,495.0 1238.8,496.9 1238.8,498.5 1239.1,500.4 1237.4,502.6 1237.6,504.2 1238.6,505.8 1238.4,508.0 1238.5,510.3 1238.7,512.4 1239.5,514.1 1238.5,516.6 1238.5,518.8 1238.2,520.9 1238.7,523.0 1238.1,524.7 1238.1,527.2 1238.2,529.5 1238.8,531.5 1239.4,533.2 1238.5,535.6 1238.2,538.0 1238.6,539.8 1238.4,541.5 1238.3,543.9 1238.5,545.8 1238.2,548.0 1239.1,550.2 1237.9,552.4 1238.6,554.0 1238.4,555.6 1238.7,557.3 1238.9,558.9 1238.6,560.5 1260.9,456.9 1261.8,459.4 1261.3,461.4 1260.7,463.4 1261.5,465.2 1261.6,467.5 1261.9,469.5 1260.9,471.8 1261.5,474.0 1260.9,476.4 1260.4,478.2 1260.8,479.9 1260.6,481.8 1261.0,484.2 1261.5,486.1 1261.3,487.8 1261.2,489.7 1261.5,491.3 1260.9,493.5 1261.3,495.4 1260.3,497.1 1260.7,499.4 1260.7,501.1 1261.6,503.1 1260.9,505.5 1261.1,507.7 1261.0,510.0 1261.0,512.0 1261.0,513.7 1260.7,515.7 1260.9,517.6 1261.1,519.6 1260.2,521.2 1260.1,523.2 1260.5,525.0 1260.9,527.4 1261.4,529.8 1261.1,531.8 1261.7,534.2 1261.7,536.4 1260.2,538.8 1284.0,409.4 1284.2,411.7 1283.3,414.2 1284.0,415.8 1284.0,418.0 1284.1,420.3 1283.8,421.9 1284.1,423.8 1284.9,425.8 1284.6,427.6 1283.7,430.1 1283.7,432.0 1283.8,433.9 1283.4,436.3 1284.5,438.5 1284.3,440.4 1283.9,442.1 1284.5,443.8 1284.1,445.5 1285.2,447.9 1284.1,449.6 1284.7,451.6 1284.4,453.7 1283.0,456.2 1283.2,457.8 1283.4,459.9 1284.7,461.4 1284.3,463.2 1284.2,465.2 1284.6,467.2 1283.6,468.9 1283.7,470.9 1283.7,473.1 1284.9,475.3 1283.0,477.0 1283.6,479.1 1284.4,481.0 1284.1,483.4 1283.6,485.5 1283.7,487.8 1284.6,489.4 1284.5,491.6 1283.8,493.3 1284.0,495.1 1284.1,497.0 1284.4,499.4 1283.8,501.0 1284.1,502.6 1284.2,504.3 1283.6,505.9 1283.7,507.8 1285.1,510.3 1284.2,511.9 1283.7,514.0 1283.8,515.6 1284.4,517.3 1284.2,518.9 1284.1,520.4 1284.1,522.6 1284.4,524.4 1283.9,526.2 1284.5,528.3 1284.6,530.2 1283.8,532.6 1284.6,535.0 1282.7,537.2 1283.9,539.6 1295.7,463.3 1295.1,465.6 1296.0,468.1 1295.8,470.5 1295.8,472.6 1296.3,475.0 1296.1,476.8 1296.0,479.1 1296.1,481.4 1296.4,483.0 1294.8,485.1 1295.7,486.8 1295.3,488.7 1294.9,491.0 1295.6,493.0 1296.6,494.7 1295.8,496.8 1294.9,498.6 1294.9,500.6 1294.8,502.1 1295.5,504.5 1295.8,506.6 1294.8,508.5 1295.6,511.0 1295.4,513.3 1295.8,514.9 1295.5,517.2 1296.0,519.6 1295.6,521.6 1295.6,524.1 1295.4,525.8 1295.2,527.9 1295.6,529.7 1296.0,531.2 1295.6,533.5 1295.7,535.4 1295.8,537.7 1295.5,540.0 1307.8,395.9 1308.2,397.8 1308.0,399.3 1307.7,401.1 1309.1,403.4 1308.1,405.1 1308.5,407.3 1308.6,409.5 1308.3,411.4 1307.7,413.7 1308.2,415.3 1308.6,417.3 1308.2,419.3 1307.5,421.6 1308.9,423.8 1308.5,426.3 1308.6,427.9 1308.1,429.4 1308.8,431.0 1308.6,432.8 1309.5,435.1 1307.8,436.9 1307.8,438.6 1308.8,440.4 1308.2,442.3 1308.6,444.2 1308.5,446.3 1309.1,448.7 1308.0,451.2 1307.8,453.6 1307.5,455.6 1307.8,457.3 1308.3,458.9 1308.1,461.0 1309.0,462.9 1308.1,465.3 1308.8,467.0 1308.3,468.6 1308.8,470.2 1307.9,472.6 1308.5,474.6 1308.6,476.8 1307.9,479.1 1308.6,481.1 1308.9,482.8 1308.5,484.8 1308.1,486.5 1308.1,488.1 1308.0,489.8 1308.5,491.6 1307.8,493.8 1308.9,496.0 1307.7,497.5 1307.8,499.3 1308.7,501.0 1308.9,503.3 1308.2,505.5 1308.7,507.9 1307.9,509.6 1308.5,512.0 1308.4,514.0 1308.4,516.4 1309.3,518.2 1308.1,519.7 1308.3,521.6 1307.6,523.5 1307.9,525.9 1308.2,527.7 1308.0,529.3 1308.5,531.6 1325.9,343.6 1326.1,345.7 1326.7,348.2 1326.3,349.9 1326.4,352.2 1326.1,354.3 1326.7,356.0 1325.2,358.0 1326.2,359.7 1326.4,362.0 1325.6,364.5 1325.9,366.6 1326.0,368.1 1326.5,370.5 1326.1,372.4 1326.7,374.3 1325.6,376.1 1326.8,378.1 1326.2,380.5 1325.2,382.9 1326.3,385.0 1326.1,387.2 1326.3,389.3 1326.4,391.7 1325.9,393.5 1326.5,395.8 1326.8,397.7 1326.5,399.5 1326.0,401.2 1326.0,403.6 1326.5,405.3 1326.0,407.8 1326.1,409.8 1327.1,411.6 1326.4,413.4 1326.6,415.8 1326.8,417.8 1325.8,419.8 1326.4,422.3 1326.1,424.1 1326.3,426.1 1326.3,428.5 1325.5,430.7 1326.8,432.6 1327.0,434.2 1327.3,436.3 1326.5,438.0 1326.6,439.8 1326.4,442.1 1326.9,444.4 1326.0,446.8 1326.4,448.9 1326.3,450.9 1326.8,453.3 1326.1,454.9 1326.4,456.7 1326.1,458.6 1326.5,460.7 1326.3,462.5 1326.4,464.3 1326.6,466.7 1326.5,468.8 1325.9,470.8 1325.6,472.6 1325.6,474.7 1326.2,477.1 1326.0,478.7 1326.7,480.7 1326.3,482.9 1326.6,484.9 1326.2,486.6 1326.5,488.4 1325.5,490.6 1326.4,493.0 1326.3,495.2 1325.9,497.1 1327.0,499.4 1326.1,501.3 1326.3,503.1 1326.2,504.9 1325.9,507.3 1325.5,509.7 1326.0,511.3 1326.2,513.6 1326.2,515.6 1327.1,517.6 1326.0,519.3 1326.1,520.9 1325.4,522.5 1326.6,524.8 1325.9,526.5 1325.7,528.8 1326.7,530.8 1326.1,533.1 1326.4,535.6 1326.1,537.5 1326.7,539.5 1325.7,541.8 1326.3,543.8 1326.8,545.5 1326.5,548.0 1325.8,550.1 1325.4,552.2 1326.5,553.7 1327.1,555.4 1327.0,557.1 1326.9,559.2 1161.4,570.7 1148.3,553.4 1172.9,515.4 1176.6,537.4 1212.5,591.1 1164.5,590.2 1197.0,540.9 1152.4,561.3 1206.5,542.8 1159.1,578.7 1183.1,519.5 1209.2,561.0 1171.0,579.0 1194.6,547.8 1142.1,592.5 1182.8,583.5 1143.1,590.4 1161.4,556.6 1206.8,590.2 1171.2,536.0 1172.7,566.9 1205.9,559.2 1139.7,575.5 1187.1,590.5 1175.7,532.9 1143.2,553.4 1181.7,533.8 1218.6,566.9 1182.7,563.5 1162.7,574.8 1173.3,590.3 1150.0,592.4 1164.8,534.4 1204.5,592.2 1219.8,528.2 1145.2,561.3 1219.8,536.2 1186.1,521.2 1162.0,578.8 1180.0,516.3 1209.1,560.1 1149.9,587.8 1186.6,506.6 1177.3,561.9 1196.8,551.0 1167.0,562.4 1159.4,559.6 1214.7,556.9 1143.2,547.6 1146.3,584.0 1201.7,570.7 1170.0,506.4 1147.7,577.6 1196.4,545.2 1221.7,545.9 1153.1,579.5 1142.1,539.7 1185.8,523.8 1157.6,569.3 1176.8,576.0 1215.7,548.4 1223.4,547.4 1198.8,546.8 1222.2,593.0 1211.4,586.2 1168.6,506.8 1187.0,555.1 1179.0,554.1 1173.0,565.5 1225.4,563.0 1189.9,535.1 1221.9,557.0 1186.8,578.2 1181.0,533.6 1213.3,532.0 1211.4,537.1 1213.6,566.1 1140.5,543.0 1181.0,578.1 1161.8,550.7 1221.6,572.6 1182.2,547.2 1209.1,525.5 1195.8,508.5 1209.9,540.5 1168.7,558.2 1188.3,578.3 1200.0,562.1 1151.0,575.7 1181.7,530.5 1197.3,551.7 1144.8,553.9 1197.5,549.3 1143.5,542.8 1161.9,573.2 1186.3,534.8 1151.6,567.5 1196.8,513.1 1168.8,551.1 1181.8,524.4 1161.5,538.1 1218.3,549.8 1217.7,583.3 1185.9,586.3 1173.2,511.2 1211.2,575.2 1216.9,588.7 1201.9,518.6 1180.1,548.1 1175.5,575.8 1175.0,519.6 1216.5,527.5 1184.3,572.6 1174.7,591.1 1193.3,579.2 1172.8,525.5 1173.7,579.1 1144.0,562.1 1163.1,521.1 1187.6,517.9 1213.0,547.8 1175.5,574.0 1208.8,546.7 1173.1,526.8 1176.5,524.8 1181.0,576.1 1192.9,582.1 1175.2,570.6 1150.6,569.1 1143.4,553.7 1222.0,540.3 1161.9,536.7 1214.3,549.5 1218.9,581.3 1146.9,578.8 1177.4,542.1 1221.4,523.1 1223.8,591.0 1163.5,555.7 1200.1,548.7 1155.0,552.9 1200.9,584.6 1183.6,516.5 1148.5,569.9 1172.8,564.0 1214.0,575.4 1211.2,554.1 1193.5,514.8 1152.2,559.7 1148.2,562.7 1192.8,547.0 1201.3,535.2 1218.0,588.4 1190.6,581.9 1189.7,576.0 1220.8,577.9 1179.7,587.4 1189.1,543.3 1141.2,590.0 1218.0,534.7 1207.6,533.4 1220.3,580.1 1189.9,594.2 1215.2,565.3 1143.1,575.6 1223.1,549.1 1176.6,511.4 1179.5,540.4 1207.8,589.5 1208.2,588.1 1196.2,585.3 1176.0,551.9 1166.2,545.3 1221.8,556.8 1172.6,582.6 1193.3,530.1 1216.7,526.7 1169.5,511.4 1196.0,545.0 1139.7,535.8 1197.3,582.7 1140.2,575.7 1169.8,564.0 1169.7,537.0 1168.2,539.1 1160.9,544.9 1221.8,589.1 1192.5,548.5 1164.5,544.7 1164.5,530.6 1164.4,590.9 1223.2,583.4 1165.0,542.4 1173.0,512.9 1155.4,570.9 1167.1,524.7 1146.7,545.5 1152.0,545.8 1188.3,510.9 1220.4,594.5 1193.4,591.1 1195.9,576.2 1145.9,587.1 1169.3,593.2 1199.6,539.7 1156.8,542.6 1139.6,595.0 1143.8,594.7 1149.5,595.6 1153.1,595.0 1155.4,595.3 1161.8,595.6 1164.4,594.5 1168.3,594.4 1174.7,595.2 1174.8,595.1 1181.2,595.1 1185.6,594.8 1190.0,594.6 1195.2,595.0 1195.8,594.6 1201.3,595.5 1203.6,594.4 1210.1,594.9 1214.2,595.1 1219.5,594.2 1222.2,595.7 1224.1,595.0 1226.4,590.9 1225.4,589.6 1226.0,585.2 1226.4,577.4 1225.2,573.8 1225.7,573.0 1226.0,567.0 1225.1,563.0 1225.2,558.8 1226.0,553.2 1226.1,552.1 1226.5,548.0 1226.3,542.4 1226.8,539.2 1226.0,536.1 1226.5,530.7 1226.8,526.0 1226.3,522.7 1226.2,520.3 1221.4,516.9 1219.2,517.2 1215.1,521.2 1210.9,523.0 1210.5,523.5 1205.1,518.5 1201.1,515.7 1199.9,514.9 1198.1,512.3 1196.6,506.8 1194.2,504.5 1189.2,502.9 1187.6,504.2 1186.0,506.2 1181.4,509.0 1179.5,508.8 1176.2,505.1 1172.4,504.6 1170.0,503.9 1165.1,507.8 1166.1,508.1 1162.7,514.4 1161.5,517.7 1162.3,519.1 1158.9,525.7 1157.3,527.2 1153.6,531.5 1149.2,531.4 1149.3,530.8 1143.9,530.9 1138.3,535.2 1139.4,536.2 1139.2,541.8 1139.4,544.7 1138.3,550.2 1139.1,554.4 1139.6,554.7 1139.0,559.7 1139.7,563.3 1138.9,568.2 1138.3,571.5 1139.1,577.6 1139.4,582.7 1138.8,583.2 1139.4,588.7 1138.8,594.0 1329.2,493.7 1269.7,506.7 1284.7,453.7 1312.3,504.0 1329.2,439.0 1277.1,581.2 1267.9,536.7 1327.1,493.6 1321.6,436.4 1325.8,457.5 1309.6,606.7 1277.7,491.9 1325.8,613.3 1345.8,605.6 1285.2,494.0 1265.8,524.3 1264.1,506.5 1269.0,513.4 1278.8,592.3 1297.5,468.3 1336.1,522.7 1284.9,534.1 1307.7,503.4 1265.6,522.1 1270.8,608.8 1314.5,478.3 1334.5,553.1 1278.1,579.6 1313.0,439.9 1312.9,462.6 1306.4,516.9 1328.4,593.4 1271.8,526.2 1300.0,582.3 1328.8,556.7 1317.3,443.0 1282.0,455.6 1292.5,580.8 1332.6,562.9 1328.7,508.8 1314.2,459.9 1333.3,501.7 1277.4,501.2 1319.0,473.6 1265.8,592.6 1289.0,538.4 1284.5,606.9 1260.8,584.4 1306.9,613.2 1316.4,474.0 1278.5,593.0 1298.7,569.6 1307.0,607.3 1294.3,494.0 1302.0,488.3 1279.8,556.4 1268.9,541.2 1330.9,527.1 1259.2,508.8 1280.4,526.7 1344.8,611.5 1289.8,553.2 1301.8,472.5 1285.0,446.9 1282.5,551.4 1293.4,563.7 1296.8,485.0 1262.8,612.4 1277.5,488.0 1292.7,579.3 1285.7,483.0 1275.0,470.8 1342.2,569.6 1280.2,481.0 1262.3,556.0 1343.8,607.0 1283.6,467.7 1263.5,533.8 1325.6,493.9 1288.6,568.4 1287.9,573.5 1313.1,517.6 1338.9,560.7 1263.6,549.9 1263.3,504.5 1259.8,606.1 1278.7,514.7 1325.1,359.3 1271.9,528.1 1320.7,479.1 1327.5,466.6 1279.3,568.5 1326.4,357.0 1282.9,562.9 1337.7,500.0 1281.7,492.6 1297.2,504.2 1278.8,561.5 1299.3,567.7 1319.7,479.7 1277.6,497.0 1292.4,549.6 1273.9,613.5 1332.3,581.8 1304.0,471.5 1290.4,586.9 1328.1,496.6 1338.0,571.3 1298.9,547.3 1344.0,595.5 1271.7,613.3 1266.2,565.3 1259.5,572.1 1270.9,547.9 1266.7,573.7 1311.3,481.7 1299.7,521.4 1314.5,446.2 1283.8,588.6 1331.2,573.6 1282.4,519.3 1274.9,533.7 1328.5,518.7 1337.6,589.0 1278.6,466.3 1324.9,386.8 1340.2,514.5 1288.7,568.7 1285.2,473.5 1321.6,448.5 1341.2,560.8 1293.9,548.9 1311.1,459.1 1317.4,475.4 1295.0,561.3 1300.0,539.6 1320.6,476.6 1345.6,610.8 1342.7,609.9 1279.6,547.1 1329.8,518.2 1280.8,587.8 1329.7,529.6 1281.9,583.4 1295.2,530.9 1333.1,471.5 1335.1,526.6 1293.3,501.4 1291.8,506.9 1337.0,536.8 1277.5,464.3 1266.5,533.4 1277.7,491.2 1320.2,517.7 1309.7,419.0 1339.8,581.9 1309.1,415.3 1328.5,610.1 1316.6,497.0 1286.7,586.2 1339.0,546.9 1300.0,559.4 1283.3,592.9 1346.6,606.6 1274.7,487.0 1342.8,614.2 1262.9,532.3 1287.0,520.5 1260.0,524.0 1320.8,470.3 1283.3,477.9 1316.0,487.6 1283.6,445.1 1273.4,605.5 1313.6,525.2 1340.5,531.2 1286.0,614.6 1332.8,522.6 1281.1,562.9 1316.8,445.9 1343.6,571.1 1340.6,604.7 1323.5,461.9 1322.2,519.3 1342.9,516.4 1310.6,505.2 1273.2,523.9 1309.1,461.5 1261.6,595.1 1267.1,591.6 1308.6,415.5 1335.1,583.9 1327.3,360.4 1311.4,490.5 1335.9,613.0 1316.5,524.8 1334.3,603.8 1321.2,503.1 1344.2,565.8 1321.0,503.9 1343.1,520.8 1325.0,453.5 1310.7,524.6 1310.4,612.3 1273.7,613.5 1293.7,514.0 1279.1,501.6 1281.2,585.1 1306.2,610.6 1323.7,530.0 1333.5,467.3 1285.6,537.1 1325.6,418.5 1274.7,488.6 1312.4,494.7 1270.3,565.2 1316.9,439.7 1287.8,518.4 1259.4,533.0 1272.1,606.1 1293.7,531.4 1320.2,499.1 1268.3,524.5 1277.1,519.3 1288.4,472.2 1263.4,490.5 1304.5,613.6 1266.6,496.4 1273.8,575.7 1267.5,565.2 1272.4,551.3 1283.3,492.0 1330.6,582.4 1276.0,516.7 1317.6,452.2 1329.4,480.4 1335.2,512.5 1311.4,422.5 1325.4,492.7 1316.9,442.1 1277.8,602.4 1317.1,612.2 1335.8,527.9 1292.7,545.6 1334.9,544.1 1303.6,481.3 1325.6,607.8 1319.1,511.4 1306.4,459.8 1329.0,567.2 1291.0,479.0 1315.8,476.7 1325.8,400.8 1310.1,451.7 1266.4,536.2 1265.1,615.0 1287.4,510.4 1341.2,540.7 1274.9,572.8 1322.7,416.1 1265.1,554.3 1325.8,403.2 1280.0,504.4 1326.6,478.2 1328.3,579.6 1293.3,573.7 1265.2,526.9 1340.2,500.7 1332.1,551.4 1342.5,600.9 1317.8,607.6 1291.9,577.3 1310.0,473.4 1281.4,527.7 1340.2,599.0 1260.8,605.8 1337.9,595.1 1277.3,563.2 1329.2,554.0 1321.9,436.0 1266.9,558.0 1316.6,474.9 1325.4,529.6 1319.1,481.1 1259.5,477.2 1305.6,504.3 1271.7,531.6 1333.6,550.9 1281.8,567.2 1304.1,473.5 1264.4,519.6 1263.1,571.8 1337.6,578.9 1328.7,424.7 1298.1,477.1 1262.2,569.8 1338.3,544.6 1314.5,444.4 1299.9,483.6 1329.9,457.5 1288.2,494.9 1321.9,467.6 1281.2,501.7 1271.2,521.3 1279.3,508.8 1278.7,538.9 1339.0,561.2 1263.9,552.3 1284.6,523.7 1287.5,473.7 1319.5,490.9 1312.5,437.4 1309.7,429.4 1340.6,545.1 1290.3,508.9 1343.6,522.0 1308.5,523.4 1281.0,612.8 1290.7,545.4 1334.3,530.6 1338.5,595.6 1275.2,568.7 1320.6,511.2 1293.2,503.4 1327.7,492.9 1276.8,557.6 1292.1,568.6 1306.7,423.1 1265.7,551.5 1319.9,507.6 1340.7,574.1 1318.8,614.8 1329.8,467.3 1259.8,544.2 1293.1,545.1 1320.6,443.8 1296.4,508.2 1285.7,612.4 1286.1,612.7 1284.7,607.1 1284.7,602.4 1283.9,601.1 1285.5,597.5 1284.3,591.2 1286.3,589.8 1291.6,587.2 1292.5,587.8 1299.5,587.5 1300.6,586.5 1301.2,579.2 1300.2,576.1 1299.2,575.0 1300.7,569.6 1300.4,565.4 1301.3,562.1 1300.9,556.4 1300.4,550.7 1299.5,550.4 1300.2,546.5 1301.0,542.8 1300.0,538.3 1300.1,532.4 1303.5,528.4 1306.9,528.6 1311.9,528.9 1313.4,527.8 1317.8,528.7 1322.0,529.3 1324.7,533.8 1324.7,535.8 1324.2,538.8 1324.9,542.9 1324.4,547.0 1326.3,551.6 1324.2,556.7 1324.3,559.4 1325.7,564.3 1325.1,570.2 1324.7,573.2 1324.1,576.5 1325.0,578.6 1325.4,583.8 1325.3,588.7 1324.2,591.5 1324.2,594.3 1324.4,599.8 1323.0,603.7 1319.8,604.8 1317.7,604.5 1309.9,605.2 1305.8,605.2 1305.3,608.3 1305.7,609.6 1302.8,614.6 1302.0,614.6 1304.9,616.0 1309.4,615.0 1316.4,615.2 1320.1,614.6 1323.7,613.9 1326.4,615.3 1329.8,615.0 1335.6,614.9 1335.8,613.7 1343.7,615.0 1347.5,614.3 1346.4,612.9 1347.3,606.6 1346.9,602.1 1345.4,599.4 1346.4,597.7 1346.7,590.5 1345.5,586.9 1346.0,584.8 1345.5,580.5 1345.2,575.0 1345.7,573.7 1345.7,566.9 1345.2,565.4 1345.3,561.9 1345.4,554.3 1345.4,550.4 1345.9,548.5 1345.2,544.7 1344.7,539.0 1344.8,534.6 1345.3,533.2 1344.5,525.0 1345.0,523.1 1343.8,517.9 1343.1,515.4 1343.6,511.7 1343.0,506.9 1342.5,505.6 1342.0,500.7 1340.7,495.3 1340.9,493.6 1339.4,489.2 1337.2,483.5 1337.0,479.8 1336.5,475.7 1335.8,474.6 1334.8,470.3 1332.7,465.6 1332.3,459.5 1331.9,458.0 1330.2,452.3 1330.2,448.1 1329.3,445.7 1330.3,442.5 1330.0,437.3 1329.6,431.9 1329.7,430.9 1329.9,424.5 1328.8,422.3 1330.1,418.8 1329.5,412.0 1329.7,408.2 1330.5,404.7 1329.7,403.4 1329.4,396.0 1329.0,396.3 1329.5,389.0 1329.2,383.7 1328.7,383.2 1328.6,377.6 1328.0,370.5 1328.7,367.2 1327.6,364.0 1328.7,361.4 1328.8,360.1 1327.3,355.3 1325.4,356.5 1324.0,359.0 1325.5,365.1 1324.5,369.2 1325.0,371.6 1324.0,376.6 1325.1,378.7 1324.5,385.5 1324.0,387.5 1324.3,392.0 1324.7,396.1 1324.6,399.7 1324.6,405.9 1323.3,408.8 1322.9,412.4 1321.8,417.1 1321.8,419.5 1319.9,421.5 1314.0,422.2 1312.7,418.7 1311.1,414.8 1306.4,415.6 1307.3,418.4 1306.3,420.0 1307.3,425.6 1306.7,428.1 1307.0,433.1 1307.3,438.3 1305.9,444.0 1306.5,445.5 1306.2,450.2 1307.2,454.1 1306.4,459.2 1305.7,460.3 1304.4,466.2 1301.4,467.4 1296.4,467.0 1292.9,467.1 1287.9,465.7 1287.0,464.8 1284.8,459.7 1285.8,455.2 1287.0,452.9 1286.0,449.4 1286.1,442.2 1287.3,438.9 1286.0,436.6 1286.2,432.6 1285.7,426.3 1286.2,425.0 1281.6,426.9 1281.0,431.6 1282.2,436.4 1281.9,439.4 1282.1,440.7 1281.5,448.2 1281.4,449.6 1279.2,453.4 1278.7,456.8 1278.1,462.9 1275.7,466.4 1275.0,469.7 1273.4,472.3 1271.0,474.6 1264.8,474.7 1260.6,474.7 1259.2,474.5 1259.2,482.2 1258.5,485.2 1259.5,485.4 1258.4,491.0 1259.6,496.6 1259.1,500.7 1259.7,505.4 1259.1,508.6 1258.3,512.1 1258.9,517.5 1259.0,518.9 1259.4,524.5 1259.0,529.2 1258.3,531.0 1258.9,538.1 1259.0,539.0 1258.0,544.8 1258.8,548.3 1258.0,552.4 1259.4,554.4 1259.7,561.2 1258.5,562.5 1259.3,566.5 1259.2,574.2 1258.4,575.7 1258.6,578.9 1258.9,582.0 1259.2,586.3 1258.6,591.0 1258.5,595.4 1258.3,598.9 1259.3,603.5 1259.5,607.7 1259.5,611.8 1259.8,615.8 1262.8,615.9 1268.2,614.5 1271.3,615.0 1276.1,614.3 1281.0,615.0 1285.4,615.4 1288.0,615.5 793.0,618.8 789.7,580.8 800.8,596.7 796.8,578.6 799.7,586.0 802.3,584.8 796.3,613.4 796.0,598.6 787.9,616.1 798.0,601.1 801.7,583.0 786.8,606.3 792.6,567.8 786.9,599.9 793.3,569.3 794.8,567.8 796.5,606.9 798.2,624.4 804.1,608.1 787.9,590.7 798.1,592.9 796.3,608.3 795.2,605.0 799.8,579.1 801.1,620.1 803.3,616.1 793.2,592.3 798.9,580.7 787.6,592.4 797.4,621.9 791.9,596.8 790.4,617.2 789.8,588.5 800.0,610.3 799.6,566.7 802.7,607.2 803.4,624.7 792.2,613.2 795.7,624.8 800.3,622.4 795.9,579.5 805.0,619.3 789.0,622.9 790.4,586.0 787.4,607.9 798.0,598.1 796.9,598.9 786.5,603.2 794.8,596.7 786.6,603.7 789.8,598.1 797.4,594.5 803.0,618.7 798.7,572.8 803.8,616.4 791.2,574.0 794.8,584.1 801.0,640.0 800.5,644.0 803.7,648.0 798.2,651.7 801.7,654.6 800.2,656.5 801.7,659.1 801.7,662.5 801.4,665.4 801.5,667.7 1249.5,751.8 1249.5,797.3 1249.5,675.9 1249.5,701.2 1249.5,726.5 1345.6,637.9 1344.4,751.8 1344.4,797.3 1344.4,825.1 1345.6,853.0 1301.4,834.0 1348.2,663.2 1296.3,603.8 1246.5,972.9 1247.1,924.9 1247.6,900.8 1249.3,874.4 1250.4,861.2 1099.8,890.9 1084.4,900.8 1088.8,887.6 1093.2,870.0 1102.0,863.4 1086.6,859.0 1097.6,852.4 1084.4,843.6 1104.2,843.6 1093.2,832.6 1102.0,826.0 749.3,854.1 737.9,866.7 728.5,894.6 706.8,919.8 698.7,935.0 683.5,947.7 677.2,955.3 854.2,888.2 862.6,885.7 855.0,918.6 862.6,912.3 874.0,917.3 874.0,964.1 885.9,964.1 898.0,973.0 913.7,973.0 924.6,971.7 933.9,975.5 908.6,951.5 915.0,957.8 868.2,857.9 888.4,869.3 855.5,854.1 911.2,830.0 915.0,847.8 921.3,849.0 904.8,804.7 918.7,876.8 926.3,866.7 815.0,821.2 822.6,836.4 817.6,856.6 815.0,864.2 810.0,846.5 827.7,828.8 765.7,807.3 751.8,818.7 741.7,821.2 812.2,833.9 812.2,860.0 860.9,830.4 864.3,844.3 871.3,837.4 887.8,863.5 916.5,816.5 918.3,792.2 900.9,781.7 902.6,759.1 911.3,759.1 907.8,769.6 864.3,792.2 866.1,785.2 862.6,780.0 871.3,802.6 897.4,766.1 913.0,771.3 907.0,774.8 1065.7,930.2 1067.0,955.5 1072.0,955.5 1069.0,970.7 1092.3,877.1 1099.8,872.0 1094.8,861.9 1087.2,851.8 1097.3,841.7 1102.4,851.8 910.1,763.2" fill="none" stroke="none" marker-start="url(#mt)" marker-mid="url(#mt)" marker-end="url(#mt)"/>
<path d="M687.0,584.3 687.0,605.8 697.8,616.5 714.3,624.3 714.5,624.4 714.8,624.6 715.0,624.7 715.2,624.9 715.4,625.1 715.5,625.4 715.7,625.6 715.8,625.9 715.9,626.1 718.5,634.8 729.2,639.2 729.4,639.4 729.7,639.5 729.9,639.7 730.1,639.9 730.3,640.1 730.5,640.4 730.7,640.6 730.8,640.9 736.8,655.9 736.9,656.3 741.9,676.1 748.8,693.9 748.9,694.2 748.9,694.4 753.9,719.4 754.0,719.7 756.9,745.2 761.2,755.5 776.8,760.1 777.1,760.2 777.4,760.3 777.6,760.5 777.9,760.7 778.1,760.8 778.3,761.1 778.5,761.3 778.6,761.5 778.7,761.8 778.8,762.1 778.9,762.3 779.0,762.6 780.0,770.6 780.0,770.6 786.0,820.5 790.9,845.0 793.8,850.9 802.2,850.2 804.0,820.9 804.0,758.0 803.0,708.2 799.0,670.3 799.0,670.2 797.0,632.2 797.0,631.9 797.0,631.6 797.1,631.3 797.2,631.0 797.3,630.7 797.4,630.5 797.6,630.2 797.8,630.0 798.0,629.8 798.2,629.6 798.5,629.4 798.7,629.3 799.0,629.2 799.3,629.1 811.3,626.1 811.6,626.0 811.8,626.0 812.1,626.0 812.4,626.0 812.7,626.1 813.0,626.2 813.3,626.3 813.5,626.4 813.8,626.6 814.0,626.7 814.2,627.0 814.4,627.2 814.5,627.4 819.5,635.4 829.5,650.3 829.6,650.6 829.8,650.9 829.9,651.1 829.9,651.4 834.6,674.6 850.8,679.1 851.1,679.2 851.3,679.3 851.6,679.5 851.8,679.6 852.1,679.8 852.3,680.0 852.4,680.3 852.6,680.5 852.7,680.8 852.8,681.0 852.9,681.3 857.8,701.7 861.5,707.0 870.5,707.0 870.8,707.0 871.1,707.1 871.4,707.1 871.6,707.2 871.9,707.3 872.1,707.5 872.4,707.7 872.6,707.9 872.8,708.1 873.0,708.3 873.1,708.5 873.3,708.8 873.4,709.1 873.4,709.4 873.5,709.6 873.5,709.9 875.0,783.9 877.0,839.8 879.2,861.5 883.0,839.7 885.0,799.9 886.0,720.0 886.0,719.8 888.0,688.8 888.0,688.5 888.1,688.2 888.2,688.0 888.3,687.7 888.4,687.5 888.6,687.2 888.8,687.0 889.0,686.8 889.2,686.6 889.4,686.5 889.7,686.3 889.9,686.2 890.2,686.1 890.5,686.0 890.8,686.0 915.8,684.0 916.1,684.0 916.4,684.0 916.7,684.1 917.0,684.2 917.2,684.3 917.5,684.4 917.8,684.6 918.0,684.8 918.2,685.0 918.4,685.2 918.6,685.5 918.7,685.7 918.8,686.0 918.9,686.3 919.0,686.6 919.0,686.9 920.0,717.9 920.0,717.9 920.9,765.0 929.0,765.0 930.0,702.0 930.0,701.7 930.1,701.4 930.1,701.1 930.2,700.8 930.4,700.5 930.5,700.3 930.7,700.1 930.9,699.8 931.1,699.7 931.4,699.5 931.6,699.3 931.9,699.2 932.2,699.1 946.2,695.1 946.5,695.0 946.8,695.0 947.1,695.0 947.4,695.0 947.7,695.1 947.9,695.2 948.2,695.3 948.5,695.4 948.7,695.6 949.0,695.7 965.0,709.7 965.2,709.9 965.4,710.2 965.5,710.4 965.7,710.7 965.8,710.9 965.9,711.2 966.0,711.5 966.0,711.8 967.8,734.0 984.0,734.0 984.3,734.0 984.6,734.1 984.9,734.1 985.2,734.3 985.5,734.4 985.8,734.6 986.0,734.8 1005.2,752.0 1014.7,752.0 1018.0,738.6 1019.0,709.9 1019.0,709.6 1019.1,709.3 1019.2,709.0 1019.3,708.8 1019.4,708.5 1019.5,708.3 1019.7,708.1 1019.9,707.8 1020.1,707.7 1020.4,707.5 1020.6,707.3 1020.9,707.2 1021.1,707.1 1021.4,707.1 1021.7,707.0 1022.0,707.0 1031.0,707.0 1031.3,707.0 1031.6,707.1 1031.9,707.1 1032.2,707.2 1032.5,707.4 1032.7,707.5 1033.0,707.7 1033.2,707.9 1033.4,708.2 1033.5,708.4 1033.7,708.7 1033.8,709.0 1033.9,709.2 1034.0,709.5 1034.0,709.8 1034.9,726.9 1051.1,732.8 1052.0,701.9 1052.0,701.6 1052.1,701.4 1052.1,701.1 1052.2,700.8 1061.2,679.8 1061.4,679.6 1061.5,679.3 1061.7,679.1 1061.9,678.8 1062.1,678.7 1062.4,678.5 1062.6,678.3 1062.9,678.2 1063.2,678.1 1063.5,678.0 1063.8,678.0 1064.1,678.0 1064.4,678.0 1064.7,678.1 1064.9,678.2 1065.2,678.3 1074.2,682.3 1074.5,682.4 1074.8,682.6 1075.0,682.8 1075.2,683.0 1075.4,683.2 1075.6,683.5 1075.7,683.7 1075.8,684.0 1075.9,684.3 1076.0,684.6 1076.0,684.9 1076.9,722.7 1085.9,719.2 1086.2,719.1 1086.5,719.0 1086.8,719.0 1087.1,719.0 1087.3,719.0 1087.6,719.1 1087.9,719.1 1088.2,719.2 1088.4,719.4 1088.7,719.5 1088.9,719.7 1106.9,734.7 1107.1,734.9 1107.3,735.1 1107.5,735.3 1107.6,735.5 1107.7,735.8 1111.2,743.8 1111.4,744.1 1111.4,744.4 1111.5,744.7 1111.5,745.0 1112.5,812.0 1120.5,812.0 1121.0,739.0 1121.0,738.7 1121.1,738.4 1121.1,738.1 1121.2,737.8 1121.4,737.6 1121.5,737.3 1121.7,737.1 1121.9,736.9 1122.1,736.7 1122.4,736.5 1122.6,736.3 1122.9,736.2 1123.2,736.1 1130.2,734.1 1130.5,734.0 1130.8,734.0 1131.0,734.0 1131.3,734.0 1131.6,734.1 1131.9,734.1 1132.2,734.2 1132.5,734.4 1132.7,734.5 1132.9,734.7 1133.1,734.9 1133.3,735.1 1133.5,735.4 1133.7,735.6 1133.8,735.9 1133.9,736.2 1133.9,736.4 1134.0,736.7 1135.8,757.7 1146.9,761.1 1147.2,761.2 1147.4,761.4 1147.7,761.5 1147.9,761.7 1148.2,761.9 1148.4,762.1 1148.5,762.4 1148.7,762.6 1148.8,762.9 1148.9,763.2 1149.0,763.5 1150.7,774.1 1162.6,780.9 1173.1,779.4 1174.0,763.8 1174.0,763.5 1174.1,763.2 1174.2,762.9 1174.3,762.7 1174.5,762.4 1174.6,762.2 1174.8,761.9 1175.1,761.7 1175.3,761.5 1175.6,761.4 1175.8,761.2 1176.1,761.1 1176.4,761.1 1194.1,757.5 1195.0,736.9 1195.0,736.6 1195.1,736.3 1195.2,736.0 1195.3,735.7 1195.4,735.5 1195.6,735.2 1195.8,735.0 1196.0,734.8 1196.2,734.6 1196.5,734.4 1196.7,734.3 1209.7,728.3 1210.0,728.2 1210.3,728.1 1210.6,728.0 1210.9,728.0 1211.2,728.0 1211.4,728.0 1211.7,728.1 1212.0,728.2 1212.3,728.3 1212.5,728.4 1212.8,728.6 1213.0,728.8 1213.2,729.0 1213.4,729.2 1213.6,729.4 1213.7,729.7 1213.8,729.9 1216.8,737.9 1216.9,738.3 1217.0,738.6 1217.0,738.9 1217.9,761.0 1232.0,761.0 1232.3,761.0 1232.6,761.1 1232.9,761.1 1233.1,761.2 1233.4,761.4 1233.7,761.5 1233.9,761.7 1234.1,761.9 1234.3,762.1 1234.5,762.3 1234.6,762.6 1234.8,762.8 1234.9,763.1 1234.9,763.4 1235.0,763.7 1235.0,764.0 1236.0,875.0 1249.6,875.0 1250.0,822.6 1245.3,812.2 1245.2,812.0 1245.1,811.7 1245.0,811.4 1245.0,811.0 1245.0,810.7 1251.0,742.7 1251.1,742.4 1251.1,742.2 1251.2,741.9 1251.3,741.6 1251.5,741.4 1251.6,741.1 1251.8,740.9 1252.0,740.7 1252.3,740.5 1252.5,740.4 1252.8,740.3 1253.1,740.2 1253.3,740.1 1253.6,740.0 1253.9,740.0 1254.2,740.0 1254.5,740.0 1254.8,740.1 1255.0,740.2 1255.3,740.3 1255.6,740.4 1255.8,740.6 1256.0,740.8 1256.2,741.0 1256.4,741.2 1256.6,741.5 1256.7,741.7 1256.8,742.0 1256.9,742.3 1259.5,752.7 1272.0,757.2 1272.3,757.3 1272.5,757.4 1272.8,757.6 1273.0,757.8 1273.2,758.0 1273.4,758.2 1278.1,764.5 1286.2,761.8 1288.0,746.8 1289.0,701.9 1289.0,701.6 1289.1,701.4 1289.1,701.1 1289.2,700.8 1289.4,700.5 1289.5,700.3 1289.7,700.1 1289.9,699.9 1290.1,699.7 1290.4,699.5 1290.6,699.3 1290.9,699.2 1291.1,699.1 1291.4,699.1 1291.7,699.0 1292.0,699.0 1298.0,699.0 1298.3,699.0 1298.6,699.1 1298.9,699.1 1299.1,699.2 1299.4,699.3 1299.6,699.5 1299.9,699.7 1300.1,699.9 1300.3,700.1 1300.5,700.3 1300.6,700.5 1300.8,700.8 1300.9,701.1 1300.9,701.4 1301.0,701.6 1301.0,701.9 1301.9,743.1 1313.2,740.1 1313.5,740.0 1313.8,740.0 1314.1,740.0 1314.4,740.0 1314.7,740.1 1315.0,740.2 1315.3,740.3 1315.6,740.4 1315.8,740.6 1316.0,740.8 1316.3,741.0 1316.4,741.3 1316.6,741.5 1316.7,741.8 1316.8,742.1 1316.9,742.4 1317.0,742.6 1319.0,759.6 1321.6,777.0 1330.1,777.0 1331.0,721.9 1331.0,721.7 1331.1,721.4 1331.1,721.1 1331.2,720.8 1331.4,720.6 1331.5,720.3 1331.7,720.1 1331.9,719.9 1332.1,719.7 1332.3,719.5 1337.1,716.3 1338.0,697.9 1338.0,697.6 1338.1,697.3 1338.2,697.0 1338.3,696.7 1338.4,696.4 1338.6,696.2 1338.8,696.0 1339.0,695.8 1339.2,695.6 1349.0,688.5 1349.6,660.0 1349.0,620.1 1347.5,557.5 1346.2,537.4 1331.0,539.7 1325.9,562.6 1320.6,589.6 1320.6,589.9 1320.5,590.1 1320.3,590.4 1320.2,590.7 1320.0,590.9 1319.8,591.1 1319.6,591.3 1319.4,591.5 1319.1,591.7 1318.8,591.8 1318.5,591.9 1318.3,591.9 1318.0,592.0 1317.7,592.0 1301.6,591.8 1301.3,591.8 1301.0,591.7 1300.7,591.7 1300.4,591.6 1300.1,591.4 1299.9,591.3 1299.7,591.1 1299.4,590.9 1299.2,590.7 1299.1,590.4 1298.9,590.2 1298.8,589.9 1298.7,589.6 1298.6,589.3 1298.6,589.0 1296.0,554.6 1291.4,541.5 1286.8,536.2 1268.1,538.8 1260.4,546.9 1253.1,558.5 1242.7,579.3 1242.5,579.6 1242.4,579.8 1242.2,580.1 1242.0,580.3 1241.7,580.4 1241.5,580.6 1241.2,580.7 1241.0,580.8 1240.7,580.9 1240.4,581.0 1240.1,581.0 1239.8,581.0 1239.5,581.0 1239.2,580.9 1238.9,580.8 1238.7,580.7 1238.4,580.5 1238.2,580.4 1237.9,580.2 1237.7,580.0 1223.7,564.0 1223.6,563.7 1223.4,563.5 1213.2,545.9 1207.5,540.7 1203.5,539.5 1199.6,546.5 1199.5,546.7 1191.2,558.7 1191.0,558.9 1190.8,559.2 1190.6,559.4 1190.3,559.5 1190.1,559.7 1189.8,559.8 1189.5,559.9 1189.2,560.0 1154.7,565.9 1131.2,572.8 1125.4,576.1 1119.8,589.2 1119.6,589.4 1119.5,589.7 1119.3,589.9 1119.1,590.1 1118.9,590.3 1118.7,590.5 1118.4,590.6 1118.1,590.8 1117.9,590.9 1117.6,590.9 1117.3,591.0 1117.0,591.0 1116.7,591.0 1116.4,590.9 1116.2,590.9 1115.9,590.8 1105.9,586.8 1105.6,586.7 1105.3,586.5 1105.1,586.3 1104.9,586.1 1090.5,571.8 1061.2,566.1 1051.9,568.9 1051.6,568.9 1051.3,569.0 1051.0,569.0 1050.7,569.0 1050.4,568.9 1050.1,568.9 1022.5,560.0 1000.6,560.0 991.1,563.8 990.9,563.9 990.6,563.9 990.3,564.0 990.1,564.0 989.8,564.0 976.5,563.0 967.1,566.8 966.8,566.9 966.5,567.0 966.2,567.0 965.9,567.0 965.6,567.0 965.3,566.9 958.7,565.3 955.3,568.0 945.6,584.5 945.4,584.8 945.3,585.0 945.1,585.2 944.8,585.4 944.6,585.5 944.4,585.7 944.1,585.8 943.8,585.9 943.6,585.9 923.2,589.9 892.3,598.4 892.0,598.5 891.8,598.5 891.5,598.5 860.0,598.5 859.6,598.5 859.3,598.4 836.5,593.0 806.6,589.0 806.3,588.9 806.1,588.8 793.2,584.6 784.5,597.7 784.3,597.9 784.1,598.1 783.9,598.3 777.9,603.3 777.7,603.5 777.4,603.6 777.2,603.8 776.9,603.9 776.6,603.9 776.3,604.0 776.0,604.0 775.7,604.0 775.4,603.9 775.1,603.9 774.9,603.8 774.6,603.6 774.3,603.5 744.9,583.9 715.9,579.0 700.6,581.0Z" fill="#2ca02c"/><polyline points="982.1,650.8 1217.9,574.0 1109.6,595.9 769.1,701.8 1114.7,711.5 980.8,710.7 1279.9,729.1 1296.5,600.0 814.8,610.5 1253.2,684.6 1269.6,549.8 793.2,682.9 1328.5,664.1 1326.3,604.9 869.6,616.1 1117.4,671.8 1234.6,728.1 734.0,620.9 1170.8,679.3 940.6,633.6 1194.5,708.4 950.7,593.0 1128.0,579.3 1032.9,639.1 1307.4,674.1 1172.9,715.7 1126.6,653.5 979.0,667.0 1118.2,729.4 1005.3,586.9 1206.5,581.1 766.0,649.7 881.1,660.0 764.6,640.6 1080.0,588.1 1117.6,596.8 1187.3,743.8 1037.4,602.0 1334.1,708.5 1276.0,703.9 1268.7,649.1 1244.1,630.9 747.9,650.1 1089.0,674.5 990.8,726.1 1149.2,631.8 973.9,643.6 757.1,660.6 876.4,631.0 1152.0,655.7 1022.0,588.1 774.0,663.4 1271.5,618.2 744.4,599.0 1195.3,690.4 972.2,722.9 1290.2,597.0 1200.9,657.0 763.6,736.8 699.2,601.2 999.4,735.8 966.5,668.7 949.5,588.0 931.3,638.3 1246.6,592.1 842.1,624.9 1238.0,732.3 871.4,680.7 1088.5,577.5 1255.4,705.8 1281.3,745.9 1134.5,674.4 1253.3,593.3 1207.0,685.8 1321.7,632.2 847.5,639.2 732.9,624.9 1236.0,661.7 838.8,605.3 1221.6,696.7 1077.7,638.9 909.1,612.7 752.0,651.4 795.6,621.0 1307.7,596.8 870.2,642.5 1218.2,599.9 871.8,613.7 909.8,629.7 1047.1,643.8 994.5,712.5 1238.3,591.3 854.8,602.0 1235.6,758.6 1015.2,619.4 866.9,604.1 1285.1,660.1 1169.2,660.5 1095.7,618.8 804.8,602.3 1031.0,678.1 1180.5,710.2 1191.1,613.3 1099.1,596.8 1131.6,644.7 1258.6,722.0 1190.4,669.2 1269.4,699.2 879.4,757.1 816.5,603.2 923.2,674.9 1032.6,588.7 910.2,662.8 1304.7,704.5 908.3,654.6 785.4,727.5 999.2,636.6 1096.9,650.4 1191.4,611.8 1289.1,673.5 1336.4,609.1 869.8,605.4 1117.4,630.4 790.6,791.9 1330.2,646.4 1015.7,663.3 1236.8,650.8 1011.8,623.1 1327.8,663.7 1258.7,651.4 1164.1,689.1 1168.6,628.1 768.0,696.3 1269.4,657.3 792.2,833.7 1195.1,596.6 791.8,741.5 1342.9,687.0 969.4,658.6 1189.8,624.7 1250.8,569.9 781.3,612.4 1295.7,695.2 937.7,631.8 1137.2,638.8 1187.5,669.2 1166.7,693.7 794.2,748.1 1024.3,688.6 1238.2,601.8 1198.6,662.4 1084.8,582.4 1050.0,625.4 708.9,600.6 759.7,610.3 1035.2,630.0 1161.6,723.9 1002.4,563.2 1019.4,678.7 971.0,611.1 1223.3,584.4 990.0,724.3 778.2,608.2 1282.3,738.9 1128.2,653.1 736.8,643.8 724.5,598.2 888.4,635.5 800.4,823.5 793.8,840.5 734.8,598.5 1207.6,644.3 797.0,770.4 1110.9,648.5 1245.8,746.5 971.0,611.0 961.2,616.9 1090.4,622.9 879.5,607.3 1139.2,587.1 1188.9,566.6 1267.5,631.8 1280.7,627.7 1259.7,729.5 790.8,682.0 1330.0,712.1 1116.7,623.7 863.7,645.0 998.5,666.8 1017.8,574.4 1074.9,678.3 1275.6,556.9 1345.0,635.7 1062.6,633.6 1054.7,663.3 1319.2,657.8 1340.0,615.6 1146.0,584.9 826.9,595.1 922.3,654.6 1147.9,748.0 1273.3,740.8 1235.5,670.3 1024.5,626.1 982.4,711.6 1082.9,711.9 1000.6,598.8 962.8,652.1 1131.9,583.2 1114.3,601.5 1307.8,718.1 1218.7,612.4 1091.8,713.9 1147.9,648.8 1289.2,628.2 1133.2,728.2 798.5,750.1 1235.6,688.4 742.0,627.0 714.6,618.8 771.9,610.6 1270.3,623.9 841.8,607.2 1044.0,601.5 1225.1,600.9 1301.3,675.8 1095.9,666.1 1329.5,657.9 1313.7,631.6 794.6,681.8 979.7,654.1 1243.2,681.8 1241.8,806.1 1167.5,604.2 979.1,598.9 1121.0,593.6 1001.4,613.6 1303.4,614.9 1192.4,713.2 896.7,616.7 1342.2,678.3 1013.0,686.8 1243.7,694.7 1100.6,689.0 792.5,647.2 1076.0,603.7 993.2,712.0 1305.6,660.0 959.6,653.6 1097.9,712.9 1117.7,760.1 1160.4,667.1 944.4,624.0 1140.4,732.9 1287.5,677.1 1032.6,702.5 873.7,637.7 1042.7,630.2 1266.8,651.2 838.3,672.5 761.8,645.2 787.8,777.4 1165.8,605.4 1334.0,586.0 1240.0,766.3 956.3,691.7 795.9,683.7 1332.3,597.8 772.5,622.6 1270.7,599.1 1271.0,626.7 1245.3,829.7 736.9,615.7 1230.7,595.7 1104.7,591.4 1248.1,585.0 1108.5,622.7 799.4,789.0 1095.7,598.8 936.2,683.6 1096.2,585.4 1050.6,587.0 1116.6,638.5 1160.6,598.8 868.1,608.0 774.3,712.8 1335.2,574.3 1068.5,580.2 773.3,730.5 1241.9,733.6 1315.4,701.7 962.8,601.2 1028.7,688.4 1164.1,624.3 1305.3,694.0 1246.9,610.0 1103.0,606.5 837.5,666.6 995.2,674.5 1273.9,560.1 835.0,644.1 1039.7,646.6 1258.6,671.9 959.2,677.1 1160.9,727.2 1342.2,542.2 1180.4,577.0 1311.2,661.7 1197.7,690.0 1261.1,578.8 1323.1,709.1 1249.3,724.7 788.7,633.3 783.1,685.8 969.6,582.6 1214.7,680.7 1302.7,612.7 1342.9,687.5 957.4,604.2 1263.5,595.1 1232.1,711.4 1105.6,642.1 1074.0,637.7 1219.6,596.8 1270.7,609.7 820.8,610.7 1158.8,692.9 1204.1,570.5 942.3,596.0 885.5,624.4 995.1,697.6 964.6,608.3 965.5,673.1 1161.2,660.9 1110.2,615.1 1126.2,673.5 1186.9,614.1 1187.2,584.7 1111.0,601.2 1213.9,674.6 1251.1,688.4 1237.2,733.3 1039.2,708.0 1272.3,682.8 848.0,627.4 870.1,634.2 1107.8,615.2 969.2,703.4 1013.5,681.4 1170.9,585.9 1209.0,718.0 1255.4,708.5 1112.0,695.6 1188.8,725.3 1070.5,653.1 1280.6,556.1 1101.3,681.7 1011.1,583.9 759.7,633.1 1015.0,735.3 757.6,676.6 1178.0,599.7 973.3,727.5 759.8,618.1 791.9,615.8 1149.0,602.2 1035.4,646.6 1235.1,746.8 1011.0,650.8 1293.6,658.6 1014.5,670.2 1217.4,715.3 1211.2,662.2 1204.8,660.7 1255.0,572.8 901.0,632.1 986.5,600.9 949.0,660.9 1118.9,682.0 1224.4,706.8 1184.5,676.6 920.8,677.0 1262.5,715.1 909.8,602.5 1244.0,593.6 1249.0,609.6 1041.0,710.3 837.5,601.0 953.5,578.1 1343.9,673.4 991.1,690.7 991.8,721.2 944.4,649.9 921.0,660.0 1173.2,661.0 1217.1,657.1 1166.5,712.5 1026.1,700.3 1146.5,672.4 973.2,611.6 1048.6,678.8 908.0,680.1 1169.1,576.9 982.4,684.3 1099.5,601.6 994.9,602.1 856.1,680.8 864.6,655.1 780.4,634.8 1275.2,697.3 1024.6,660.0 1082.0,709.8 1089.3,657.6 1279.8,589.3 1055.0,665.3 933.8,683.7 1010.6,638.7 1171.8,707.6 1175.9,580.2 1345.8,622.7 749.9,651.8 870.2,646.8 1280.4,702.7 887.0,666.3 1095.8,589.9 794.8,761.1 1291.1,629.6 1200.3,551.9 792.7,773.3 976.1,626.6 917.7,645.9 1219.0,707.6 1120.1,634.7 854.8,625.8 907.9,677.3 942.8,591.8 1266.3,617.7 1188.8,688.3 967.7,594.9 1245.5,632.7 758.2,712.1 786.9,735.0 921.0,599.6 744.4,653.4 1209.7,662.7 1100.2,709.8 1043.8,701.4 1237.1,760.3 1059.3,594.6 909.1,667.8 1004.4,618.2 1083.2,695.4 1126.1,645.4 1340.2,665.0 1027.3,596.8 1088.9,692.9 1200.2,620.0 1249.8,609.0 1101.1,694.4 700.8,608.5 925.8,713.9 1310.2,682.7 964.6,597.3 1315.3,638.9 1314.2,609.9 1164.1,626.6 1208.8,574.4 710.2,597.0 1273.5,678.8 785.3,608.4 1192.6,598.5 1231.4,744.2 706.5,614.5 758.2,613.9 965.3,702.0 1269.2,676.8 812.5,593.7 741.4,658.3 1213.3,682.3 1319.7,729.3 1002.3,626.7 1187.0,691.1 844.7,604.1 1287.5,676.3 870.3,672.2 1000.1,663.1 868.4,679.0 1243.6,701.5 1246.6,622.9 810.9,606.8 780.4,723.4 1246.0,735.5 1104.4,594.9 888.3,677.2 967.4,607.0 1229.4,661.3 1003.3,661.4 1282.4,542.4 789.4,821.2 1121.6,621.8 1012.7,728.6 1252.2,672.6 1177.5,588.6 1147.7,571.7 1187.1,696.5 1199.7,680.2 725.5,633.1 950.1,613.0 1227.4,683.1 1238.7,656.2 771.8,665.1 1287.4,638.4 1243.4,678.1 879.6,758.5 743.7,643.9 791.1,784.2 997.6,723.6 1283.4,728.6 766.3,647.4 1067.6,619.4 1089.5,594.6 1048.4,681.3 1160.5,611.6 1183.7,728.3 1236.7,622.9 942.0,597.9 1233.3,741.5 1301.8,664.6 1150.0,632.8 1094.5,665.3 981.8,680.3 1241.2,844.8 819.9,595.2 879.2,757.0 1238.3,687.3 1075.0,631.0 781.3,760.0 1208.5,660.9 749.8,650.3 970.7,666.3 1276.7,669.6 789.7,792.3 1318.7,667.7 1276.9,598.1 1330.1,588.7 1172.0,663.7 900.7,676.9 1341.7,654.9 791.4,613.4 943.6,660.0 951.8,651.3 1297.6,644.3 1090.7,590.2 1243.6,596.1 1018.2,701.7 795.0,603.8 1259.6,558.8 772.2,619.8 755.2,680.3 1345.9,650.5 1271.0,584.5 923.9,689.7 1207.9,592.6 1117.9,630.1 1163.0,687.4 1311.3,718.9 1272.4,746.4 1251.8,594.2 766.7,708.8 955.3,635.6 1224.9,665.0 1013.0,718.4 1217.0,716.7 1236.2,625.0 1282.7,603.6 1121.9,626.0 1054.4,652.6 1208.4,564.5 794.1,636.1 1205.8,640.8 1090.9,604.9 698.8,606.3 1023.7,641.7 1130.7,628.6 955.9,628.5 1139.5,633.4 787.5,663.0 1342.7,653.5 1328.2,673.4 1067.9,626.8 923.2,675.3 780.3,684.1 740.2,642.3 829.1,642.7 1195.8,712.8 1176.0,735.9 992.5,718.2 1117.6,701.1 1083.7,695.0 1189.6,724.7 710.2,595.8 889.9,631.4 853.5,613.8 1016.9,680.9 783.9,772.1 794.7,647.3 1244.4,835.0 798.9,793.5 1131.8,642.1 1307.4,709.2 1032.2,634.5 1004.7,620.9 1063.4,628.0 1214.0,616.0 1335.8,543.2 1246.0,869.9 1230.5,600.0 1144.5,643.9 1177.9,689.8 974.7,655.4 1099.3,676.3 1057.7,669.2 1164.0,576.8 1169.0,718.8 962.9,640.8 1311.5,735.3 1335.9,647.7 1187.0,636.6 748.9,606.3 1173.9,584.5 738.6,596.0 1203.0,693.3 703.5,607.1 1324.4,765.0 1082.9,686.2 1036.1,608.8 1264.6,649.9 1118.8,603.2 1183.7,743.9 1097.3,679.4 1342.3,572.0 951.3,681.5 867.3,671.1 789.9,741.5 1270.2,698.3 1337.0,610.6 1073.2,580.7 799.7,803.5 1065.5,581.1 1237.5,723.3 690.6,596.1 1302.6,613.7 1196.6,584.9 1281.3,602.2 1229.3,655.9 761.3,637.3 1017.5,611.9 1270.0,700.7 1033.2,588.4 1015.2,721.9 1073.8,606.2 1206.4,675.0 1291.6,691.9 1325.9,697.6 1325.6,676.5 1026.4,647.5 1061.5,642.4 761.6,634.7 1014.9,563.5 1220.0,669.3 1145.6,657.3 828.9,601.9 1177.3,727.7 1258.6,566.1 1022.0,597.7 1104.0,634.0 765.5,638.9 958.4,581.5 958.8,613.6 1129.3,606.3 1262.5,632.2 1092.2,647.9 1244.8,598.7 1129.0,725.6 1161.5,670.8 1275.3,738.9 1305.0,650.3 1030.8,690.5 1047.4,672.9 1175.2,674.9 1303.7,691.8 995.6,668.3 1345.5,664.3 964.2,704.6 771.0,675.8 883.9,700.1 755.7,638.6 1277.9,729.5 1190.5,696.9 725.6,621.0 1075.1,640.8 1344.8,644.5 997.3,566.2 1044.7,628.3 759.7,673.2 764.7,634.8 1222.1,710.6 1005.5,589.6 993.3,572.1 1169.3,671.7 1164.6,697.0 709.4,583.9 1286.6,677.7 1018.7,630.3 1152.8,625.5 1070.1,626.8 714.2,593.9 929.6,674.7 1215.3,557.3 1189.9,672.9 1041.5,590.0 1307.9,673.8 946.7,598.8 924.4,692.3 1322.2,622.1 981.6,607.2 1006.5,723.0 1175.1,731.9 1137.9,647.8 899.4,666.3 978.5,652.8 784.5,677.1 731.2,622.7 1196.2,707.8 1249.9,651.7 1045.9,692.7 1246.2,842.8 1324.2,723.5 982.7,609.7 1256.8,669.2 1247.6,593.2 1223.4,602.8 793.4,809.2 773.2,682.1 1274.7,552.1 1036.2,612.6 1188.6,736.1 1147.8,707.5 949.5,652.6 723.9,604.0 975.4,686.3 933.1,625.2 888.6,638.6 1335.2,669.9 895.6,641.2 788.1,784.9 1213.8,649.3 859.1,693.5 995.7,648.2 789.1,761.1 1148.0,744.4 1276.3,733.6 953.5,589.3 1216.0,642.4 1170.7,736.2 1244.7,677.2 1014.7,667.9 1319.7,737.0 1004.1,570.7 810.3,609.0 1192.5,620.1 1158.1,688.5 933.7,678.1 1294.2,676.7 956.6,662.6 1224.0,744.3 921.5,616.9 1170.7,724.6 1272.5,739.0 1148.8,704.3 1284.3,664.7 939.4,666.3 764.3,633.1 961.1,612.9 1096.5,685.6 770.9,608.1 1125.9,660.3 1291.7,687.5 930.4,610.0 807.6,612.7 957.9,610.9 1036.7,649.3 1187.1,737.3 1106.8,681.4 926.1,647.4 1131.9,599.8 1002.2,627.7 1153.2,656.9 1268.6,736.0 1271.6,594.3 910.3,615.7 804.7,608.4 1188.7,600.6 970.5,671.4 1303.7,638.6 1192.5,623.1 794.5,787.0 1008.8,672.4 1188.5,737.1 1193.8,682.6 1143.7,596.7 915.0,596.4 795.1,840.1 1312.3,702.5 1018.8,692.8 822.2,610.2 1156.8,706.4 1143.2,663.3 1089.7,656.2 1341.8,564.8 864.3,690.2 888.6,609.2 843.5,637.8 733.5,629.5 1210.7,566.8 1265.0,735.8 891.1,620.0 713.4,596.3 869.3,626.5 968.3,633.6 1283.4,662.6 1091.4,615.4 1344.3,624.8 1173.8,735.9 1029.3,652.7 1239.4,691.9 912.3,615.5 1230.0,589.2 1235.6,699.3 883.4,661.0 1301.3,611.7 1221.9,646.2 1235.2,724.4 949.2,613.3 981.6,678.2 1293.4,571.0 963.1,655.0 1212.9,618.3 1163.6,751.1 1174.0,636.4 745.4,627.4 1074.1,660.4 1176.4,657.0 709.1,588.1 1138.6,711.7 1126.5,730.4 1143.0,584.2 999.4,603.0 1156.6,684.4 865.0,657.7 1246.8,603.6 877.3,677.6 842.9,652.6 893.2,613.9 996.4,571.9 1098.8,673.6 741.2,611.1 1141.9,746.8 918.9,621.0 1117.0,707.1 870.2,641.0 1191.2,590.8 1124.8,632.9 1036.9,705.9 905.2,618.8 1001.1,616.2 1172.7,721.3 986.9,608.2 744.2,622.8 1049.0,692.6 1310.3,635.1 1167.8,616.8 1199.6,604.3 996.7,696.6 971.5,718.6 1085.4,704.5 1260.9,723.1 734.0,632.6 826.0,612.4 1277.3,602.2 935.1,671.6 1218.0,598.7 1234.1,747.1 1200.0,687.5 708.2,602.0 1177.7,592.0 793.9,650.2 1330.2,639.4 764.7,708.0 1178.0,607.3 1337.7,677.3 1227.0,658.7 1241.6,846.0 716.8,606.9 1205.0,614.6 1153.1,572.4 1279.3,660.1 1259.5,598.7 1163.4,602.4 781.6,639.5 1247.9,675.6 1056.6,664.2 1133.9,594.8 1039.5,631.4 1230.0,726.5 1212.2,582.8 1125.7,724.8 1324.7,644.2 956.3,633.6 1242.0,664.9 1161.3,750.6 1270.9,674.3 790.5,670.6 1201.0,680.0 973.8,628.6 785.3,768.6 1106.1,598.2 1265.3,603.5 1142.0,661.0 1005.6,736.5 1106.4,687.2 1071.0,579.4 1210.7,670.1 842.8,641.5 1194.7,617.5 1323.1,616.4 1292.2,681.8 769.1,652.3 995.4,585.8 1166.8,676.4 966.3,689.9 993.8,715.2 1162.9,624.3 1229.5,670.3 1219.2,608.3 974.1,728.9 924.7,634.1 928.9,654.0 1045.4,662.6 781.7,648.9 1323.0,734.0 848.6,636.9 1037.7,628.4 1291.9,651.6 1197.6,670.2 1132.2,643.9 986.6,605.1 1230.9,592.3 846.4,603.0 1146.1,617.4 1223.1,644.3 1175.6,652.5 1093.8,652.5 1162.6,674.7 1079.7,583.5 1218.2,623.3 1272.7,736.6 1163.6,754.1 1210.0,628.9 1086.0,625.5 754.9,626.9 803.7,593.9 1229.4,666.1 1200.7,672.9 1188.4,655.0 727.7,616.6 1240.9,866.9 1271.8,562.5 1005.9,687.2 699.8,589.0 754.2,638.8 1117.2,782.4 916.1,650.1 1141.1,688.1 1099.3,586.1 1112.5,663.3 1004.5,633.6 1018.9,678.7 1117.5,716.0 1041.3,636.8 1005.2,599.5 780.8,737.8 1293.4,587.1 1152.7,576.2 1125.2,596.2 789.0,673.5 969.5,581.0 1012.0,706.6 1017.7,598.1 958.9,631.3 968.4,669.2 842.0,647.5 848.4,645.9 1183.1,585.3 1180.1,623.7 1243.3,782.8 803.8,615.4 1316.3,657.5 752.7,636.9 1204.5,673.0 1025.0,633.3 1078.2,574.3 1024.3,613.6 924.9,660.2 1308.5,702.2 1102.6,695.9 763.7,717.9 1255.7,736.1 1285.6,620.5 1254.6,718.0 1330.4,598.7 1116.6,596.5 1310.1,629.3 1036.6,595.9 963.9,677.0 1132.9,660.8 1175.3,696.9 1287.9,580.0 1104.4,690.8 1241.4,858.2 1265.8,694.6 1267.7,602.0 1001.2,636.6 969.3,682.4 886.7,656.9 1053.4,644.1 1320.6,637.7 1010.8,583.6 747.1,671.1 1332.5,690.8 976.5,715.1 889.2,677.1 1131.2,599.9 1017.5,607.4 882.7,608.7 1205.3,602.9 919.2,596.8 1263.7,667.6 830.4,602.0 1265.3,681.9 1238.7,821.7 1082.0,692.2 1012.8,675.9 1332.4,670.9 1222.1,586.7 1190.5,625.7 1223.2,637.8 1183.7,735.0 881.9,765.6 1144.7,734.4 1157.7,667.4 1158.1,675.3 1014.1,653.4 1143.2,705.9 1175.3,749.0 1150.9,675.3 1342.7,557.4 1233.8,640.4 1262.5,632.4 1045.7,664.8 783.4,721.6 945.6,642.8 1045.8,601.9 1046.8,666.8 1020.5,626.7 923.4,623.1 1151.0,706.6 990.1,720.9 691.6,603.7 1005.5,712.5 744.2,623.4 966.0,588.4 793.3,835.3 1215.7,622.9 1148.3,630.0 1023.2,671.0 1233.9,708.5 841.9,670.1 1172.4,717.4 1189.6,626.1 1324.4,643.3 1046.7,701.4 1235.4,737.2 1091.8,602.4 1184.1,613.7 1090.6,714.6 1194.5,693.5 1343.7,612.5 990.4,691.4 1190.4,616.1 1336.5,578.1 1174.3,678.3 1197.3,613.5 1242.0,778.2 1117.4,600.7 1306.2,664.4 1122.4,693.9 789.4,696.7 933.9,630.0 1026.4,579.7 790.3,637.7 1204.9,679.7 884.0,625.7 807.3,610.7 1315.8,597.2 947.9,607.4 1266.7,697.5 860.4,698.8 1191.7,654.1 958.9,688.7 1246.8,627.0 921.1,626.6 1272.0,652.0 1156.0,664.9 775.6,748.7 1012.4,688.1 776.5,635.9 740.4,648.4 964.7,671.0 1169.7,572.1 962.1,686.8 1080.1,594.1 971.6,651.7 1228.0,710.7 1236.8,679.9 1114.9,675.1 1005.7,678.8 1296.2,664.6 898.0,604.0 1215.0,564.9 1230.9,726.9 1198.7,652.0 1234.1,699.4 1227.0,693.6 1206.7,593.5 1302.7,635.2 874.1,673.7 1191.3,715.9 782.7,640.1 1242.4,725.5 1245.3,702.1 977.6,586.5 790.8,772.4 762.5,690.9 1005.3,599.5 911.2,622.1 1021.2,603.2 1050.9,578.3 1159.0,630.8 1240.3,621.7 1065.4,601.7 909.3,679.5 1292.7,657.4 1266.3,662.0 1219.3,605.6 1034.2,640.3 765.8,642.1 1116.4,629.9 1252.1,697.8 860.7,607.1 1257.0,663.8 1264.6,681.8 1129.3,730.1 1229.6,720.2 976.7,616.0 965.2,692.9 1082.1,617.2 844.6,603.2 750.5,631.5 765.3,652.1 1165.5,568.4 780.8,703.8 1082.9,631.4 1070.9,626.3 1193.8,571.8 1010.8,728.9 1291.1,566.5 793.4,832.2 799.1,767.4 1260.0,610.7 1187.2,661.8 1251.6,718.1 1195.4,709.2 898.8,614.2 1013.7,695.0 1051.6,623.7 1114.8,717.4 955.8,637.9 775.8,668.5 781.5,669.6 1047.0,653.1 1082.2,586.8 1235.9,678.3 856.7,651.1 1119.6,683.4 962.1,592.0 1005.3,579.7 1234.7,717.1 1202.7,716.8 1143.4,616.2 1342.2,592.8 906.0,606.0 1259.6,730.1 941.3,680.3 817.8,613.9 1181.7,727.0 1018.1,655.9 957.1,635.6 1317.9,711.4 1252.6,573.8 1132.9,714.8 962.8,672.9 1027.7,670.0 1253.9,724.9 1141.9,710.2 1085.7,650.8 1280.4,672.4 1315.3,596.6 1229.7,628.0 862.7,663.4 1211.2,706.6 1081.1,681.1 938.6,662.4 1112.2,601.8 893.2,635.9 844.8,635.6 773.6,715.4 1298.8,678.7 1118.7,730.6 1103.0,618.4 1002.3,581.8 915.4,621.1 1312.6,698.3 1038.8,694.1 1231.9,642.7 759.1,718.8 1344.6,601.1 1038.3,639.4 872.3,655.7 1271.1,735.8 1023.2,584.4 799.9,756.1 768.9,638.3 1234.1,583.6 952.0,631.9 911.9,641.4 800.8,763.6 798.0,812.7 790.1,677.2 981.7,609.6 746.3,674.8 1231.6,686.4 1065.6,617.2 1262.1,674.7 1042.5,597.1 983.6,700.3 1190.4,697.8 1142.8,590.9 1161.1,749.0 784.3,604.2 1191.8,625.2 879.1,801.3 1279.7,709.4 840.1,646.1 1114.9,711.1 974.9,682.2 1246.8,618.3 1012.1,745.6 1158.1,569.6 1222.7,671.1 1341.2,584.4 973.3,709.2 691.2,598.2 1068.1,614.7 1188.5,716.9 951.6,660.7 1110.2,654.6 1286.8,619.0 775.0,746.9 1286.0,628.1 1337.0,653.6 742.7,590.6 1074.2,608.3 871.1,624.9 1210.3,549.6 751.9,651.6 882.5,685.0 935.0,681.5 1260.5,633.1 994.2,566.1 1164.9,655.9 781.9,637.6 1278.4,564.4 803.8,622.9 863.3,619.0 1142.8,709.7 1006.6,599.8 960.2,609.8 1026.5,641.3 926.2,712.9 712.9,602.0 1323.0,656.4 1214.9,654.0 1172.3,738.1 1056.8,659.9 844.8,619.6 1191.9,582.5 1187.7,655.4 969.1,684.7 1248.6,583.3 1115.9,758.4 934.8,600.8 1219.1,616.8 1150.4,583.7 786.4,711.2 946.7,678.5 1165.3,668.7 800.4,591.8 1308.4,609.3 1222.8,577.7 1036.9,671.7 1090.0,600.4 768.6,751.8 903.9,655.3 931.0,635.8 714.3,600.1 987.7,609.7 1000.1,671.6 902.8,621.1 938.9,645.0 800.1,619.3 985.7,571.3 1011.0,719.2 863.2,628.7 1065.5,591.4 1048.8,587.7 1241.4,696.1 1322.0,641.2 1275.2,670.2 765.2,655.0 1281.8,679.7 917.1,666.1 1266.7,746.7 769.9,637.1 860.4,684.3 1114.8,666.6 1278.1,710.3 1014.0,691.3 1061.0,666.9 897.9,621.2 763.7,648.3 1253.2,590.0 1031.8,577.1 1137.6,697.0 1212.7,634.9 1280.7,561.1 1307.9,636.7 783.1,622.7 997.5,726.1 1334.1,627.4 1213.8,682.3 1241.6,734.1 738.5,644.9 740.3,629.2 796.9,833.1 1184.1,695.7 848.4,642.6 808.0,618.1 1175.0,593.8 794.3,711.0 1331.7,597.0 793.8,659.7 1117.2,770.0 1183.3,715.7 1211.6,639.5 1008.5,635.4 1214.5,662.3 1313.8,734.2 1259.0,632.2 966.0,643.0 721.1,589.8 853.3,638.5 1256.5,636.6 1043.7,652.9 1203.6,587.0 998.2,626.6 1162.5,700.1 1163.1,585.3 1036.8,651.2 795.5,744.9 1257.7,610.8 1296.4,670.0 773.5,621.7 1168.6,684.6 760.1,679.0 1156.7,726.5 1113.1,692.0 1143.9,579.8 1234.0,602.7 1151.0,736.7 1299.4,665.0 754.6,623.4 1040.6,579.8 863.9,618.4 997.5,592.5 1267.1,655.2 1028.6,695.7 1279.9,720.4 1318.9,599.8 1175.0,737.6 1111.2,666.4 807.2,600.1 1329.3,714.4 752.5,653.2 761.5,706.1 1092.5,643.3 1245.1,867.9 1208.3,621.6 991.2,619.4 736.0,630.0 940.9,649.3 1331.2,582.4 977.3,725.1 789.5,641.1 1014.1,564.5 759.8,702.1 1004.4,603.7 1186.7,704.1 914.9,606.6 1104.1,609.9 857.8,652.9 877.3,610.6 1210.1,624.9 832.3,635.8 1227.8,624.7 1282.1,595.1 916.6,636.7 1196.6,578.9 1152.7,694.1 1252.1,624.8 997.2,698.5 1215.6,563.8 741.0,646.8 1014.8,641.2 968.3,636.9 1098.6,617.2 775.8,632.7 1117.6,690.0 1326.4,680.1 1162.9,737.3 1051.8,622.0 1042.7,702.0 755.6,622.3 864.3,685.4 1021.6,583.2 1243.4,863.0 966.1,687.4 1076.9,638.4 1283.9,678.6 942.7,622.5 1240.5,859.6 1166.7,742.0 1015.8,675.6 757.1,612.1 785.8,628.4 1017.4,597.5 1306.4,688.1 794.8,772.3 1019.7,693.3 1090.0,595.4 1211.2,688.4 759.9,645.5 1142.4,578.9 1223.6,605.3 1182.9,742.3 781.5,672.7 1224.8,571.0 829.7,629.9 1167.4,719.7 1015.3,603.4 1156.5,584.1 904.7,645.2 1111.9,713.1 1077.2,582.8 709.7,603.6 793.5,726.7 1085.2,648.7 1154.4,768.0 800.7,787.6 882.6,604.4 980.4,724.1 1217.0,659.4 827.6,638.7 879.4,739.0 925.3,683.7 1097.0,690.1 1159.2,609.8 1188.5,613.7 868.1,611.5 1199.9,573.9 763.7,608.0 759.4,711.1 778.3,661.8 1240.4,645.0 1342.4,673.3 1200.2,647.9 919.0,595.6 765.6,749.1 1273.5,553.7 972.9,631.6 1335.1,561.3 1101.7,593.0 1203.4,672.8 1227.3,733.2 1000.5,653.0 1216.4,595.0 1240.5,778.5 1103.8,676.6 882.9,672.9 947.0,628.4 1019.8,671.5 1246.3,705.1 1108.2,684.0 967.4,613.6 1114.4,692.6 878.0,661.9 1130.6,618.4 736.1,640.4 755.7,709.3 790.7,609.9 1188.4,638.3 823.7,608.7 1084.3,584.1 1340.5,631.0 1274.0,551.1 1163.9,588.1 796.1,694.3 797.4,800.4 842.4,621.0 1172.5,724.6 1222.5,712.6 1338.0,651.8 834.6,637.0 983.1,645.4 786.8,777.0 763.8,653.4 1242.0,768.4 1312.1,603.3 1316.1,699.5 1038.0,573.5 1197.8,642.3 1325.6,585.9 1125.3,646.8 1261.4,675.7 1294.3,667.0 746.8,672.2 1174.0,722.4 1126.2,589.3 1288.0,652.3 1240.6,714.1 992.4,656.6 704.7,608.4 1040.0,669.8 1179.7,579.2 1202.7,660.1 1276.1,575.8 924.0,701.9 838.2,643.6 1155.8,581.7 1185.7,669.1 1166.0,569.1 1219.9,647.4 865.3,652.9 953.0,668.3 781.8,632.8 1131.5,670.5 1322.1,614.6 1231.7,607.0 1202.0,677.9 1189.7,716.4 1315.6,658.0 996.1,626.0 782.6,747.8 1191.6,593.2 1310.3,701.0 987.2,719.3 1010.2,576.4 743.3,612.1 1304.2,622.7 710.5,585.6 1237.1,709.3 982.6,649.6 1190.5,683.3 1247.9,728.9 1041.3,626.6 1020.1,571.2 1179.1,756.6 1201.4,576.7 1063.3,608.1 870.6,613.7 1148.2,662.8 1267.4,572.4 1245.1,752.6 1106.3,602.4 1260.6,683.3 1273.0,634.5 759.7,604.2 757.3,683.0 1135.8,681.1 1318.0,621.5 849.2,603.9 1218.4,727.2 1315.0,696.5 792.2,835.7 826.3,611.6 1199.6,577.5 1166.5,656.6 831.4,633.9 989.5,641.3 1190.3,618.6 1163.9,727.3 773.9,738.5 1161.7,610.4 1145.8,640.9 1021.3,669.7 785.1,770.9 1010.3,586.5 1186.3,623.2 1231.9,593.4 1122.4,632.5 954.3,672.2 1059.5,601.4 1335.1,687.7 799.8,621.2 1054.4,674.4 1261.9,583.1 870.4,696.2 1200.1,677.8 1115.4,711.7 865.5,665.6 1136.5,577.0 1283.3,587.9 1208.1,644.6 1124.1,704.0 1193.3,626.7 968.2,580.7 792.0,723.1 1229.1,719.2 843.0,649.4 1232.9,710.1 1262.9,704.4 1085.3,596.2 1233.9,601.2 1342.6,621.8 1179.2,629.9 795.8,785.6 798.7,707.8 1174.8,659.6 1173.3,740.4 991.5,619.1 1289.5,551.4 1158.9,757.8 1032.8,697.1 1204.7,607.0 1178.1,611.6 988.5,587.4 1054.7,672.2 1158.3,693.9 1041.1,581.6 1279.8,674.0 878.3,772.9 1226.4,677.6 1333.2,705.9 982.0,725.3 984.2,664.0 1296.5,598.6 1027.1,694.4 1082.4,584.6 791.0,829.9 1334.2,674.2 774.9,642.9 827.1,608.1 978.4,601.4 1282.2,752.0 962.4,622.8 1157.9,713.5 963.9,651.9 1335.2,624.4 1280.0,653.0 749.6,671.6 760.0,691.2 1287.1,631.7 1276.1,685.2 1304.6,716.0 1290.9,576.8 1196.4,618.9 1158.6,695.4 1008.1,702.5 780.5,730.3 767.7,700.9 1111.2,719.6 1304.5,653.5 1139.4,641.5 891.8,659.5 1178.5,681.2 1059.8,623.0 1247.3,720.4 1264.9,576.6 1026.1,625.4 1334.2,687.5 1197.4,643.4 947.7,677.6 1340.5,566.2 1012.1,583.6 1049.2,592.1 1245.0,757.5 1206.9,589.6 1229.3,648.7 984.4,674.6 1225.8,749.7 780.3,748.1 1179.0,699.3 1311.8,672.0 1004.8,633.1 1336.7,629.6 900.1,663.0 1022.1,639.7 947.7,634.3 1192.4,571.4 1159.8,575.5 939.3,638.3 904.1,650.7 890.1,634.5 1204.4,596.2 1195.3,654.8 1087.2,692.7 1070.5,572.5 1019.8,625.9 1097.3,651.9 1028.3,672.9 1105.8,598.9 1220.5,619.8 1065.0,598.3 986.3,579.0 987.2,591.9 1170.2,707.3 1305.1,634.7 1117.1,647.4 748.7,639.4 1127.9,591.7 791.2,796.5 1086.1,590.4 849.6,661.9 1261.8,645.5 892.5,664.4 1140.7,718.2 753.7,629.7 1260.2,636.1 1056.4,603.5 935.8,627.0 829.2,626.0 1014.3,627.5 939.5,636.0 1181.1,697.4 776.2,632.8 943.3,609.4 924.9,617.8 1142.9,612.8 1002.2,627.6 743.7,636.3 1229.4,655.5 1063.4,572.5 1034.9,669.5 1171.5,737.3 1000.9,607.1 1039.2,639.6 956.7,591.2 984.1,566.6 1213.7,658.4 1065.2,628.2 1023.9,602.9 1129.7,656.0 1152.0,725.6 862.6,682.7 718.6,608.1 704.3,585.0 1266.7,665.9 1010.9,597.1 865.5,606.5 1270.5,574.7 1230.1,661.1 981.6,600.4 1135.3,610.2 1293.4,684.6 1138.7,694.8 724.4,623.3 1083.2,582.8 1281.1,556.4 914.8,635.3 1327.6,570.2 1118.3,712.1 1337.9,633.8 1319.9,718.1 768.4,620.0 1110.9,659.3 723.5,599.5 1113.7,702.2 1239.3,798.3 1238.0,718.0 990.3,633.2 1028.3,576.7 1134.6,722.5 1075.5,600.2 1178.9,667.1 761.1,600.2 1154.0,596.6 788.4,610.0 923.4,626.3 1127.1,673.2 759.1,719.4 788.0,667.9 970.9,605.2 1309.7,675.2 1060.7,585.8 964.2,636.4 1088.0,587.2 1159.9,651.3 1144.3,627.5 1009.6,684.5 1068.7,625.2 1224.1,637.2 1124.9,644.5 921.5,671.4 1165.4,743.6 747.9,631.4 795.0,816.4 945.2,640.3 1158.9,664.8 1104.5,654.4 887.5,635.0 998.1,567.0 923.9,633.3 875.8,631.9 1243.9,768.1 1098.4,584.1 1072.1,597.6 1132.4,714.9 1153.4,653.4 977.5,711.2 1275.7,704.2 1224.5,583.6 1131.5,640.8 1013.4,717.1 1290.3,548.4 1001.5,604.1 1273.1,686.2 1032.2,640.9 945.3,601.9 895.5,658.7 1191.3,602.1 1190.0,574.7 733.3,586.2 814.1,601.2 1262.8,737.5 791.0,671.7 852.5,628.9 1041.8,701.2 1002.2,628.9 1311.7,596.9 977.6,579.8 1327.1,712.2 1089.0,705.4 1055.6,600.3 959.3,575.6 1207.5,695.9 1228.7,577.5 1112.1,630.1 1111.9,658.4 1292.4,622.1 888.2,652.8 1112.4,676.7 827.2,631.6 1029.3,640.2 999.2,657.6 1069.2,639.2 791.4,674.9 744.0,623.5 880.1,787.5 1096.0,699.7 982.8,705.0 766.3,633.4 914.5,663.2 1066.2,580.4 1002.6,656.6 1269.7,615.5 1136.0,704.2 765.5,657.6 1036.6,673.5 985.5,700.4 970.7,700.3 988.2,682.7 958.0,698.1 1073.0,588.4 1267.1,548.6 1156.1,756.7 1064.4,672.1 1017.1,658.2 1186.2,691.8 1044.4,591.9 789.2,789.4 823.1,624.2 923.6,685.1 1041.6,715.8 842.6,613.9 1030.7,580.0 1023.8,642.0 867.6,687.8 770.1,734.3 1291.8,667.0 1014.0,726.1 1219.3,636.9 1237.0,681.4 943.2,658.8 1330.1,576.3 1195.3,728.3 796.5,807.2 1232.9,707.5 1262.2,724.8 1226.9,732.2 983.5,592.3 1313.9,715.5 1176.7,567.9 969.7,574.2 983.6,668.5 1172.3,711.4 784.5,602.4 1144.1,728.8 1180.2,590.3 796.6,846.2 1247.2,697.7 1027.8,636.2 1249.5,665.5 885.3,682.2 1169.9,715.0 851.2,630.3 817.2,614.1 1120.7,728.0 1060.3,599.7 786.4,717.1 1089.8,659.7 1100.7,662.7 1328.8,694.6 810.6,610.4 899.3,658.1 1243.0,685.9 1090.2,595.6 1275.0,643.4 1195.7,624.8 791.7,595.9 1123.9,647.4 1150.9,633.7 718.6,588.1 1265.5,622.1 1249.0,644.9 1098.9,716.3 1098.1,607.1 1179.0,644.6 791.2,662.9 1104.2,611.5 773.2,729.0 1320.5,599.2 1287.6,574.1 1006.2,716.3 1282.2,733.1 1102.7,713.0 1129.0,655.8 955.0,683.0 931.0,686.9 916.6,674.9 880.6,760.8 1271.4,698.9 850.8,601.8 1319.4,607.3 1322.2,612.5 1232.8,738.5 958.6,631.2 1162.0,578.1 1324.9,742.3 1058.2,625.3 781.0,683.3 1151.7,740.7 999.3,693.1 1250.2,578.9 1283.3,670.6 878.9,666.5 1146.8,735.4 1087.2,664.3 1133.4,618.3 1086.5,695.1 1197.9,683.8 1239.6,607.7 1053.7,611.0 1281.8,756.8 923.5,629.9 1299.3,605.5 963.6,581.6 751.7,658.8 1001.6,684.2 735.0,640.4 972.4,714.2 910.3,676.1 1003.2,626.4 1001.0,722.2 1147.4,634.9 799.7,838.2 783.1,755.7 1297.0,690.4 865.6,693.3 1145.4,626.4 835.6,604.6 942.5,675.9 1336.8,631.0 848.9,653.5 1175.8,712.9 843.9,673.7 1146.7,683.0 889.9,627.7 788.7,712.9 1188.3,681.1 1291.6,683.0 941.0,593.6 913.3,656.7 1016.5,638.3 806.3,601.8 999.1,685.9 837.6,651.0 818.0,619.9 1183.0,638.7 1324.1,652.8 1288.1,680.8 1114.1,624.7 1154.7,601.1 740.0,608.9 750.4,667.9 1283.6,547.4 727.2,630.7 1239.9,864.3 1273.0,584.7 892.4,671.3 1135.7,715.1 1163.1,704.9 799.3,737.2 833.0,622.7 972.3,722.5 1215.4,681.9 998.6,584.4 1162.5,739.7 1323.4,682.8 998.1,678.3 914.1,642.3 754.9,699.0 1003.8,579.7 1057.3,576.8 787.5,643.8 783.4,705.8 961.7,676.4 1310.8,610.1 1239.6,771.2 1081.0,686.9 1039.7,597.9 1166.4,714.4 1219.4,613.6 880.4,751.1 1154.9,613.7 864.9,668.4 1105.2,658.9 1138.6,612.6 1312.1,686.2 1154.0,636.5 960.6,666.3 868.3,609.6 991.0,584.2 1251.2,672.4 791.7,618.1 1088.8,645.2 1316.8,639.1 1004.4,568.8 872.2,617.4 757.3,705.8 819.3,598.9 1122.2,722.6 1254.2,668.3 882.8,666.1 1062.3,634.0 1326.6,626.6 859.9,688.4 1188.5,615.3 940.5,623.7 1083.5,635.8 735.7,603.0 1225.0,722.7 880.5,689.4 1327.7,721.4 1053.8,613.4 1118.8,668.2 1250.9,608.2 1086.4,581.2 1293.1,567.5 746.9,590.7 1038.2,632.3 1297.2,684.8 1211.6,718.1 925.2,678.8 989.5,604.6 792.9,730.5 1157.0,664.2 1332.0,625.7 1001.0,676.3 768.0,708.4 1331.5,595.5 998.5,697.2 799.3,611.0 1157.4,700.4 1100.6,624.6 1300.7,670.9 1223.2,684.3 1216.5,702.7 1099.0,592.7 767.9,692.8 1040.2,596.8 1264.3,744.8 1325.5,625.3 1269.8,624.5 877.2,690.5 1014.2,667.2 1201.1,715.9 932.2,644.6 1202.2,725.6 1030.3,666.8 774.1,672.1 1185.5,631.4 1243.5,786.3 963.8,693.5 792.4,612.9 1014.3,573.1 943.5,611.8 1293.4,678.6 748.0,615.2 1170.6,748.0 1106.5,719.5 1278.3,708.6 773.8,689.3 1169.6,670.1 1005.0,669.6 1081.8,702.3 702.5,600.0 746.8,630.2 1327.1,686.3 799.2,722.4 1278.5,664.4 959.5,621.5 1002.7,580.0 1035.2,623.2 1039.7,569.5 999.9,707.9 963.3,650.3 960.7,662.3 1238.7,792.1 981.6,681.7 1195.7,677.2 756.2,601.0 792.4,834.3 1160.1,632.9 1235.6,626.2 929.8,645.2 1076.2,576.0 977.4,681.9 1117.5,772.5 722.2,593.2 786.0,620.3 1205.3,703.7 1317.3,731.0 1063.6,672.5 993.7,616.1 974.0,677.3 1008.7,608.3 1111.9,689.0 1288.8,564.4 890.1,651.7 1245.7,594.5 1282.1,707.8 1002.7,676.8 1012.7,651.9 1269.3,582.5 1161.1,580.2 1242.5,621.5 1104.3,709.9 778.7,674.1 1012.9,669.9 729.5,601.1 1167.7,622.4 1200.4,660.1 1303.1,611.1 1005.6,695.2 889.1,653.6 1134.6,711.7 716.4,618.5 1044.1,641.2 1020.2,675.9 1139.0,637.4 909.0,654.6 1240.0,754.1 1294.4,612.9 940.3,682.1 1023.6,679.3 1246.3,643.0 1094.3,612.8 696.4,593.1 1166.4,607.3 762.8,619.5 1129.4,709.4 777.9,612.2 1154.5,665.6 1044.0,655.6 954.9,616.5 1238.6,723.9 1215.8,665.0 789.5,738.9 928.5,611.4 1057.2,582.6 1038.1,682.4 1159.5,625.4 779.1,611.5 1200.5,716.1 779.9,625.3 754.5,631.3 986.3,581.5 1274.6,633.9 1017.0,649.7 1312.4,664.7 1053.8,684.4 997.2,569.4 882.2,610.5 1184.6,689.3 1155.6,634.3 780.5,699.7 944.8,637.7 799.1,702.7 1208.8,693.1 1191.5,692.1 1143.5,606.1 798.9,767.6 1324.6,685.8 1267.6,577.5 945.9,626.0 1150.9,760.4 994.4,703.3 1026.3,567.9 1158.3,634.4 1191.0,647.5 1047.9,654.6 777.4,617.5 775.6,742.4 1046.0,587.3 980.3,630.8 1187.7,614.2 926.0,601.7 770.5,681.8 984.8,680.3 1217.7,562.8 1059.9,646.1 1308.0,622.3 1215.6,692.5 1051.7,598.0 1268.1,670.2 1062.4,669.4 1109.2,668.2 1264.1,750.6 833.7,620.2 1227.2,598.3 1231.7,657.4 1258.3,666.4 769.8,739.8 1239.8,865.7 1193.4,711.5 1277.4,547.2 1276.1,734.4 774.9,650.7 699.4,584.9 1228.3,690.2 1218.9,718.2 1175.0,613.5 1281.4,553.8 1192.8,645.4 1009.3,711.7 880.1,603.1 1148.2,639.3 1075.3,619.1 1197.1,671.1 798.5,793.9 740.5,611.3 774.9,713.7 863.7,620.6 830.1,623.5 1230.6,618.4 848.7,670.3 1146.9,678.0 1182.8,688.5 1248.8,624.2 1039.2,663.3 1177.2,694.4 737.4,635.8 1157.1,629.3 946.8,629.6 1153.1,582.2 1233.8,691.9 893.4,618.7 1297.1,651.0 1176.0,576.3 980.1,673.5 977.1,722.7 1145.7,713.8 976.6,629.7 1206.5,595.9 950.8,645.2 1272.2,694.6 975.7,621.0 957.3,591.1 1062.3,633.0 1307.0,599.0 1170.5,664.0 770.0,741.4 999.8,607.0 969.5,709.3 1343.5,543.6 1245.3,690.1 1269.3,726.2 1271.5,590.4 997.4,641.6 1039.2,604.2 1113.5,660.6 849.6,651.8 1233.4,613.2 758.5,642.2 1040.3,715.7 1258.7,617.5 1324.4,627.9 1174.5,743.7 952.2,618.6 900.8,619.4 785.4,615.2 1143.4,706.7 1232.5,694.8 1153.7,754.3 1250.8,694.3 827.4,605.2 1033.3,682.3 928.9,661.7 1176.5,571.5 854.2,664.2 1067.2,599.8 1054.7,581.8 1277.6,545.4 788.4,725.8 998.8,678.6 1274.7,728.9 1102.0,610.4 751.4,683.0 769.2,706.1 1320.2,730.4 1161.5,629.7 865.1,683.2 764.3,735.0 1325.7,644.5 1090.9,603.6 1095.9,615.7 1015.0,733.7 1272.4,642.1 796.1,840.3 1179.7,622.1 1226.6,716.9 1296.8,603.4 952.8,652.0 787.9,708.2 1319.8,660.5 798.8,802.0 1130.6,718.1 1081.2,573.1 835.6,613.7 1184.7,574.8 1160.0,712.5 1093.7,606.5 1102.8,638.7 790.2,644.5 1141.1,616.6 1116.0,794.8 1141.8,591.6 1300.2,642.0 792.3,650.8 1055.3,618.8 1124.8,714.8 1241.7,792.8 1268.6,644.7 881.4,671.8 778.0,640.3 986.4,622.6 1250.6,646.3 800.7,614.1 1285.0,709.1 1133.1,641.3 1215.3,683.2 1308.1,597.4 829.4,628.4 1020.0,614.2 846.5,668.7 1253.4,567.5 1306.1,650.2 838.0,599.8 1115.3,603.6 977.3,672.3 1207.1,550.7 789.7,784.1 1199.7,729.0 1257.3,717.1 1148.5,588.6 1303.1,645.8 1202.0,611.8 767.9,717.0 1065.5,570.2 792.8,639.3 1249.3,633.5 1164.7,604.7 909.5,638.4 1079.4,639.9 1252.0,736.9 1335.0,592.0 772.9,632.1 1137.4,731.0 1211.2,685.7 1285.4,665.0 921.4,628.7 879.9,805.8 747.7,627.5 1158.6,644.7 1117.6,607.3 1117.5,744.5 1343.5,675.7 1139.9,623.3 1019.4,571.6 881.4,754.2 1122.7,729.5 1019.7,632.7 1010.5,683.6 1311.7,710.9 785.4,654.6 1127.0,624.4 1144.6,685.2 962.7,682.4 1270.7,740.0 1171.0,706.8 1287.1,627.1 986.9,649.6 968.3,637.7 783.4,675.2 1190.7,661.5 987.1,662.0 986.3,609.9 930.9,672.1 1190.2,590.5 842.5,638.6 961.3,573.7 1117.5,611.9 773.4,743.5 976.8,582.1 1333.0,592.8 922.5,601.5 1004.4,646.6 1155.0,620.9 1104.2,702.2 1342.7,669.9 1215.0,588.8 972.4,672.9 837.8,649.0 1184.9,687.4 1326.8,648.0 832.6,615.9 1227.6,755.9 851.1,647.2 882.6,715.2 904.7,660.9 797.4,615.0 1118.8,672.6 1321.3,741.0 1060.6,611.0 1172.8,607.7 1302.4,690.7 752.0,616.5 1076.6,595.5 999.0,701.4 872.8,615.2 1072.9,675.8 769.1,607.6 887.3,684.0 1215.7,658.4 1290.0,637.9 831.9,637.0 1173.8,714.4 1240.4,659.2 1133.1,677.5 1322.3,651.4 1324.1,647.0 1003.0,739.4 959.6,685.4 984.9,702.9 962.0,587.7 1176.0,566.1 920.2,669.9 1171.0,742.5 1048.8,702.7 960.8,594.3 794.3,816.5 1182.2,627.9 976.6,602.0 925.9,723.8 1140.5,592.9 1014.1,705.0 1032.5,629.2 768.5,606.2 1196.5,707.4 1142.2,741.0 1013.9,730.0 1079.4,617.5 1006.2,611.2 1268.1,665.8 980.1,600.9 968.2,692.3 1004.2,739.8 1219.0,641.7 1114.2,665.0 773.3,640.9 859.1,641.2 775.5,644.1 1202.9,564.7 777.3,709.3 1148.7,580.6 733.6,599.1 948.9,601.7 1266.0,560.5 924.2,697.0 968.9,571.2 1114.8,623.7 1025.0,656.2 866.7,693.6 1155.0,760.0 1104.0,654.5 827.3,640.3 994.5,651.9 1326.5,720.2 1052.5,652.3 1045.8,717.5 1275.3,677.3 1036.4,656.8 770.1,666.9 997.7,673.3 740.3,630.0 1266.0,737.5 772.5,643.1 1129.7,631.9 1191.9,638.9 927.2,613.6 1162.3,720.2 716.2,599.9 1151.4,572.5 1197.5,700.1 939.8,626.6 962.3,605.7 780.7,750.9 792.5,599.4 996.8,683.5 1267.6,666.5 876.3,640.1 967.9,674.5 834.5,619.6 840.2,665.9 774.4,723.1 1183.3,680.3 1191.1,568.7 1338.7,557.7 789.7,721.9 1057.6,591.0 973.8,677.9 1153.7,648.8 1141.1,728.7 1236.9,603.8 1121.0,644.5 1022.6,589.0 863.7,638.5 1224.7,605.2 856.1,656.0 1064.5,669.2 966.3,591.6 1346.2,646.3 777.8,749.2 866.6,699.0 1211.9,711.2 1005.9,601.3 1240.0,807.3 771.2,650.0 1143.7,590.4 788.7,647.7 1195.1,657.2 1268.9,595.5 1253.1,691.5 1087.1,645.2 1146.0,667.4 735.9,631.4 1053.3,616.4 1164.1,683.1 834.3,596.0 1251.2,677.2 1237.8,712.9 1259.4,596.4 1273.7,727.1 692.3,593.5 689.0,595.5 688.8,601.9 689.0,601.1 695.4,610.3 697.6,611.5 698.9,611.6 705.6,615.7 711.3,620.3 712.2,620.9 719.7,626.3 718.1,630.3 726.1,633.5 725.9,633.3 728.9,640.2 730.8,642.3 736.7,640.4 735.7,648.8 738.9,658.4 738.4,660.8 745.6,664.0 746.9,668.6 744.3,674.3 749.1,679.6 744.1,683.9 749.6,686.5 748.8,693.6 753.2,698.9 755.0,703.1 754.5,705.3 754.0,712.8 755.9,717.5 756.1,724.6 759.9,727.0 758.8,735.8 757.6,733.6 757.9,743.4 761.4,744.3 761.3,751.9 764.1,755.5 773.3,757.4 777.5,756.3 782.4,758.5 778.8,761.2 781.2,769.3 784.5,774.3 787.0,777.0 783.5,785.2 783.2,785.3 784.6,794.7 786.2,796.3 787.5,802.5 791.2,811.5 789.5,811.6 788.3,816.6 790.4,823.9 787.7,827.5 790.1,833.2 793.5,834.1 794.3,840.3 797.7,847.3 799.6,844.4 799.8,836.1 802.5,840.3 799.0,826.9 802.9,828.4 801.8,823.2 802.1,813.3 800.4,812.1 801.0,802.7 801.1,803.0 797.8,794.6 802.3,794.1 801.4,785.0 802.9,781.9 801.9,777.7 798.8,773.0 799.5,765.9 800.9,762.3 799.3,753.4 803.3,752.4 803.4,748.8 798.2,739.8 797.1,736.8 798.6,735.4 801.8,724.5 802.4,724.3 799.4,720.3 802.0,715.6 799.5,701.3 803.1,701.6 797.7,693.3 796.4,693.0 797.4,691.5 799.4,681.7 797.2,676.7 794.9,673.5 791.8,667.8 795.7,659.0 795.1,656.6 798.1,653.5 794.5,650.8 795.0,641.1 795.5,636.2 794.3,636.1 796.8,626.3 801.9,626.6 809.8,624.6 808.9,626.1 813.5,626.5 813.4,624.7 817.6,633.7 821.6,633.6 826.8,639.0 829.8,645.4 832.9,646.4 832.2,653.0 837.4,657.1 832.0,660.9 838.6,669.2 836.3,674.8 845.5,675.4 848.6,675.9 849.0,676.4 853.9,679.8 859.0,685.6 858.7,687.3 861.7,696.3 862.8,698.7 863.7,705.4 866.4,699.8 871.5,700.2 875.0,702.7 878.7,711.3 876.2,722.1 876.9,726.4 879.6,725.1 879.5,733.9 874.8,737.9 875.8,745.8 876.9,751.0 875.7,755.1 874.7,757.2 877.4,760.2 877.8,769.0 880.4,774.4 878.4,777.1 876.6,786.2 879.2,786.5 877.7,791.7 878.5,799.8 880.4,801.1 877.0,810.9 880.6,813.8 882.1,813.8 876.8,821.7 881.9,826.4 879.4,832.4 881.5,838.2 878.0,838.4 879.9,832.3 879.8,826.5 880.6,820.5 882.3,813.3 884.7,809.5 879.1,806.8 881.1,798.0 883.2,793.3 882.6,794.0 883.8,790.3 883.1,787.9 881.6,779.2 883.7,769.4 880.7,767.2 882.2,761.7 882.4,757.2 883.5,751.8 880.0,747.2 883.8,743.3 885.0,734.2 884.2,728.6 881.1,725.3 886.6,718.9 883.6,714.7 882.0,707.5 883.8,705.3 881.0,698.0 882.9,695.8 883.0,692.5 886.7,689.9 891.1,684.1 895.0,681.8 902.8,680.4 906.3,682.7 908.0,682.6 914.7,682.3 918.6,682.4 921.2,685.2 920.0,688.9 921.6,692.0 921.8,699.8 919.4,707.0 924.9,709.5 925.9,714.6 923.7,722.0 922.1,721.9 925.8,729.2 925.1,735.1 922.3,740.8 922.1,745.2 921.9,749.0 922.5,754.5 922.0,757.9 925.9,757.4 926.9,757.4 931.9,749.1 930.5,744.2 928.6,738.5 925.7,735.5 925.3,733.2 927.0,723.1 924.0,722.6 929.1,717.8 927.3,713.3 927.3,703.3 924.1,696.6 929.1,699.5 937.0,694.6 940.1,692.9 945.2,691.7 948.6,691.8 958.7,695.2 959.5,697.8 958.8,700.4 968.2,708.7 967.3,706.5 968.5,714.0 970.2,721.2 966.7,725.8 971.6,727.3 973.6,729.5 982.0,730.3 988.6,730.5 986.0,730.4 990.3,733.2 992.4,737.3 1001.6,743.6 1004.9,747.3 1007.0,745.8 1009.6,748.6 1012.1,743.4 1013.5,738.4 1013.3,736.2 1014.4,731.4 1011.8,726.3 1014.8,717.3 1014.0,714.3 1015.4,711.7 1012.9,702.6 1021.5,702.0 1027.2,705.6 1031.7,704.9 1035.6,703.2 1038.1,709.4 1034.0,721.0 1037.0,721.8 1039.9,724.0 1047.3,724.3 1045.8,729.7 1048.0,723.8 1045.5,722.9 1047.8,712.5 1052.4,707.4 1048.3,698.3 1050.2,692.3 1051.9,690.4 1055.5,688.7 1056.0,679.7 1058.7,684.1 1062.2,679.9 1068.8,676.1 1067.7,676.3 1074.6,679.6 1081.6,684.0 1077.0,687.6 1077.7,693.8 1079.1,701.0 1077.2,702.0 1080.5,707.1 1079.5,713.9 1078.1,720.5 1085.9,718.6 1090.5,718.5 1090.1,718.7 1103.3,720.4 1102.2,726.4 1104.7,730.0 1110.1,734.7 1112.8,740.1 1111.2,733.4 1115.1,746.7 1117.7,751.1 1116.9,756.1 1112.9,761.9 1112.8,760.6 1112.3,771.3 1115.6,777.7 1113.2,777.9 1113.2,785.1 1114.9,794.0 1113.8,795.2 1117.9,801.7 1117.1,801.3 1121.6,808.5 1116.0,802.1 1116.5,806.1 1120.9,794.5 1114.6,788.8 1115.2,783.3 1118.5,779.4 1119.3,773.3 1116.3,767.5 1120.4,765.6 1116.1,760.2 1118.5,752.4 1118.5,746.9 1117.8,742.5 1118.1,740.5 1122.5,732.4 1121.9,735.2 1127.2,732.4 1134.8,732.1 1136.7,736.8 1137.0,736.9 1137.2,746.4 1138.2,750.5 1139.7,754.3 1139.1,756.3 1148.3,758.2 1151.4,761.8 1152.2,769.0 1151.9,773.6 1160.8,775.4 1160.1,771.7 1162.7,779.2 1172.1,779.2 1171.2,770.6 1172.9,764.6 1171.6,760.4 1177.5,759.1 1179.8,757.0 1183.0,756.4 1189.1,756.1 1189.2,752.7 1191.4,747.5 1190.2,739.3 1193.2,737.8 1194.2,730.1 1200.8,728.6 1199.8,727.4 1207.5,724.4 1217.8,728.1 1219.4,729.6 1219.6,733.0 1220.7,740.3 1219.7,739.7 1220.7,745.5 1223.2,752.7 1220.8,755.9 1225.8,756.6 1232.3,757.5 1233.5,759.2 1241.6,763.0 1237.9,766.1 1240.1,770.3 1235.5,782.1 1237.7,786.3 1236.4,783.7 1240.0,796.6 1236.7,802.9 1239.5,804.5 1242.1,806.4 1239.0,812.9 1240.4,816.7 1236.2,827.0 1238.3,829.6 1238.7,836.6 1239.3,842.6 1239.6,846.4 1240.6,849.5 1238.7,853.2 1235.2,856.0 1241.0,864.6 1238.3,866.4 1237.9,871.5 1246.9,868.1 1248.5,872.9 1245.2,860.6 1243.6,858.2 1244.2,852.1 1244.2,845.9 1245.4,845.1 1246.1,834.5 1248.5,833.0 1247.3,824.5 1247.8,824.7 1245.2,820.1 1242.6,815.7 1244.2,807.6 1242.3,806.8 1241.1,798.2 1243.7,794.3 1245.5,786.6 1243.7,783.6 1243.8,776.0 1244.4,771.5 1244.7,773.5 1243.3,762.6 1246.7,760.5 1245.3,758.0 1249.0,750.5 1247.3,747.2 1249.6,741.4 1248.6,739.3 1259.7,741.3 1258.4,742.8 1264.3,745.3 1262.8,752.6 1270.9,754.7 1272.6,756.3 1275.9,754.5 1279.1,759.1 1284.4,759.3 1286.6,750.8 1283.9,745.9 1284.7,741.0 1288.4,736.7 1282.9,732.0 1284.9,725.1 1284.5,723.8 1285.2,718.5 1287.1,710.0 1284.2,707.8 1288.0,703.4 1286.5,695.3 1292.1,697.7 1295.2,694.8 1304.5,696.3 1302.3,698.1 1302.7,708.8 1305.4,709.2 1305.5,715.3 1306.7,721.8 1305.6,729.9 1304.6,728.2 1304.7,734.3 1302.2,737.1 1314.3,735.0 1316.7,739.3 1319.7,741.9 1321.8,749.0 1319.6,754.0 1320.6,756.2 1323.3,763.0 1323.1,766.4 1325.3,769.5 1328.1,772.6 1325.5,766.6 1328.0,765.2 1327.3,758.5 1326.0,754.0 1328.8,750.1 1325.8,747.5 1328.9,737.6 1327.5,736.4 1330.5,729.0 1327.8,724.6 1325.3,721.1 1329.5,716.0 1333.7,716.1 1334.6,706.6 1336.4,702.5 1336.4,701.0 1338.2,694.7 1345.4,692.0 1346.0,687.5 1345.7,682.9 1348.9,676.5 1346.9,674.3 1344.0,667.5 1346.7,663.7 1349.1,655.4 1345.8,655.1 1344.8,644.5 1348.0,640.5 1348.3,637.4 1345.5,634.1 1348.4,627.2 1343.6,623.4 1345.6,616.5 1346.5,609.7 1345.6,608.7 1341.7,603.7 1343.0,597.4 1346.9,593.0 1344.8,586.4 1348.1,581.9 1342.8,578.2 1343.7,571.9 1345.5,572.5 1345.6,564.3 1344.4,560.5 1343.4,554.5 1345.2,547.0 1346.5,540.3 1343.1,539.4 1335.3,543.3 1335.0,543.1 1329.8,550.2 1332.2,558.5 1330.9,560.5 1330.3,565.3 1329.2,569.7 1327.1,572.7 1325.1,575.0 1326.6,584.8 1319.3,591.0 1324.1,595.1 1318.1,594.7 1309.7,596.2 1307.6,593.5 1298.4,594.0 1296.4,594.0 1294.9,587.8 1299.9,581.7 1294.0,574.8 1292.5,574.1 1291.9,570.0 1293.8,562.9 1295.0,554.7 1296.6,555.3 1291.7,548.7 1290.0,548.5 1288.2,543.5 1282.8,539.8 1276.1,538.2 1272.2,536.2 1266.8,541.1 1263.9,546.7 1262.8,553.5 1258.3,559.3 1257.0,555.6 1254.6,562.3 1251.6,569.9 1250.8,572.7 1245.3,580.4 1244.7,579.1 1235.6,582.4 1236.8,582.2 1227.3,581.0 1229.0,573.4 1223.7,573.6 1219.3,564.9 1219.9,564.9 1216.6,561.9 1213.4,554.3 1210.0,552.4 1206.0,544.4 1203.1,542.7 1204.4,545.8 1199.7,550.2 1195.5,553.1 1194.7,560.2 1188.9,564.2 1184.7,566.6 1183.6,565.0 1174.1,565.7 1170.0,564.4 1166.8,568.9 1162.6,568.9 1156.8,567.3 1150.6,568.7 1147.1,573.1 1140.4,575.9 1135.7,574.9 1131.7,575.2 1128.5,577.6 1128.4,586.5 1121.2,588.5 1118.9,595.1 1118.0,590.7 1113.7,591.9 1108.1,589.7 1101.9,589.4 1098.0,586.2 1094.7,580.9 1091.3,575.7 1089.8,575.4 1085.8,573.6 1075.8,568.5 1071.7,572.7 1071.7,571.6 1063.0,568.1 1056.1,571.8 1058.4,568.6 1050.3,575.4 1048.2,570.1 1041.7,568.3 1038.6,565.8 1031.8,564.6 1029.6,565.7 1021.6,558.8 1017.9,564.4 1008.9,566.1 1007.5,560.4 1000.7,565.6 996.6,568.4 989.1,563.0 983.3,565.7 979.9,565.5 980.5,565.7 973.3,566.1 968.4,570.0 962.3,569.6 959.0,567.8 957.8,570.6 951.7,578.1 951.5,579.8 948.2,590.6 941.7,588.5 936.2,591.0 934.7,589.7 927.3,589.9 923.5,595.6 920.1,595.8 916.5,595.6 905.1,592.9 905.8,598.6 902.2,599.9 896.0,601.1 892.7,599.3 885.4,601.1 878.5,602.1 876.6,605.2 871.1,602.4 868.2,604.6 863.8,603.8 854.4,598.2 849.5,601.0 846.0,598.9 843.2,595.8 836.6,596.3 830.8,596.3 822.8,594.6 824.3,593.2 815.6,592.7 813.4,592.8 803.0,590.6 800.3,588.1 798.7,590.5 793.1,586.8 787.2,593.8 783.9,600.1 783.6,602.3 783.0,601.5 776.1,604.8 771.7,609.1 769.9,602.5 763.0,599.5 758.4,599.2 750.4,592.2 752.2,591.9 748.4,590.5 742.2,586.5 735.1,582.7 731.3,582.0 725.2,587.2 718.8,581.8 717.1,580.6 710.3,584.4 707.3,584.2 704.3,580.2 698.7,588.9 693.3,585.8 748.3,718.0 699.1,629.8 697.9,630.0 759.2,761.4 775.0,773.8 768.6,764.3 773.1,766.7 803.8,860.7 798.8,858.9 802.5,865.6 850.2,694.2 852.0,703.5 860.5,720.1 834.8,682.3 855.2,707.0 865.8,715.6 892.8,697.5 908.7,695.4 903.4,693.7 928.2,776.6 924.6,776.2 924.0,771.7 950.8,707.8 948.8,711.0 958.4,718.9 944.3,706.7 988.4,754.8 1020.1,755.0 1008.2,765.6 970.8,748.8 1007.2,764.7 972.8,739.4 989.9,751.7 986.0,744.8 978.4,745.8 1017.5,765.0 1008.1,760.4 990.1,751.5 966.0,740.3 1029.0,719.2 1041.4,734.7 1050.3,742.9 1060.6,695.6 1062.3,697.3 1057.3,704.5 1079.2,732.3 1095.7,736.2 1092.6,740.5 1084.3,732.2 1113.1,822.9 1117.6,823.5 1110.9,828.5 1129.2,746.9 1154.3,787.0 1146.4,779.4 1157.5,785.0 1155.9,783.1 1157.3,790.7 1162.3,797.5 1189.7,767.2 1195.3,770.5 1189.1,767.2 1194.8,762.5 1204.0,739.4 1200.1,745.9 1216.8,777.2 1229.7,776.8 1226.0,766.1 1236.8,890.9 1239.1,880.8 1236.9,881.0 1268.0,770.3 1283.6,771.6 1276.0,774.7 1275.7,779.8 1284.2,771.2 1295.8,711.8 1306.2,755.2 1306.7,750.8 1311.4,751.7 1319.3,785.6 1325.0,782.8 1327.3,791.7 1351.5,701.0 793.6,885.7 711.6,644.8 700.7,642.1 725.9,660.1 769.0,785.9 708.1,650.9 789.5,880.7 752.5,758.0 780.2,823.7 820.5,659.7 806.3,653.7 808.0,646.5 845.1,714.5 860.2,736.2 825.4,663.7 852.0,706.3 831.1,695.0 819.1,665.8 879.3,894.6 901.2,709.2 892.4,721.3 1023.3,740.1 1013.1,786.2 1006.9,788.8 1049.2,754.0 966.7,757.4 1017.1,768.6 995.7,764.4 1038.5,763.0 990.8,758.8 1062.8,711.5 1062.4,700.6 1089.9,749.6 1081.6,757.4 1103.6,750.4 1110.1,846.6 1109.3,821.4 1174.6,805.2 1159.0,802.4 1205.3,758.7 1135.4,781.1 1233.0,892.6 1242.4,897.2 1245.5,898.8 1266.4,786.4 1282.8,790.6 1268.3,787.7 1281.8,789.5 1287.4,793.8 1295.5,733.2 1322.0,812.3 1321.9,806.0 1316.3,794.9 1344.5,728.1 1335.9,754.6 1109.2,580.9 1020.4,552.9 913.2,586.0 1027.7,555.1 777.2,596.0 1027.2,553.9 898.3,589.6 1091.6,563.8 875.4,592.9 729.3,571.4 1213.2,538.1 870.2,587.9 1292.8,535.6 1144.4,557.5 1012.2,552.4 1156.8,555.4 873.1,592.4 927.6,582.6 900.3,586.1 1013.7,554.5 755.4,582.6 985.5,555.1 1085.9,559.5 1166.6,554.3 1145.9,562.2 1100.0,570.6 838.1,581.8 995.8,552.8 1185.1,555.3 1234.6,569.8 988.8,556.9 1011.8,550.6 980.2,554.8 1206.0,532.7 1085.4,561.3 728.3,576.1 1049.1,557.1 777.1,596.5 1157.9,556.5 926.7,585.0 801.8,581.4 797.9,578.6 1146.9,556.9 1141.7,563.7 1099.0,570.6 892.0,590.4 1108.3,576.3 792.8,574.1 1170.1,551.5 1220.1,543.9 995.0,557.7 955.2,559.8 958.5,557.3 929.5,584.5 1251.8,552.4 1306.7,585.9 1333.4,533.4 1335.6,531.2 1328.9,535.8 1344.2,532.6 1140.6,565.3 1161.4,556.6 1157.6,557.2 1150.3,563.5 1142.6,564.4 1159.1,559.7 1208.9,533.2 1207.6,540.0 1203.6,539.4 1204.2,535.7 1210.0,538.0 1209.0,532.9 1247.9,551.7 1227.0,565.9 1270.0,527.2 1250.6,552.6 1273.0,521.8 1249.9,543.2 1267.1,520.2 1255.2,543.5 1248.4,546.0 1287.2,531.5 1269.1,520.3 1274.2,525.0 1221.6,556.7 1237.8,568.9 1246.1,560.1 1239.4,568.6 1245.2,565.5 1284.5,533.7 1284.4,523.7 1258.2,538.7 1262.4,538.1 1271.9,529.4 1282.2,521.5 1289.6,538.4 1222.6,557.9 1227.5,563.9 1277.9,520.2 1259.2,541.8 1257.6,540.6 901.2,585.3 940.1,558.0 867.1,587.1 928.2,563.7 940.2,552.3 875.2,591.4 948.5,562.4 871.1,590.4 926.4,557.2 874.6,586.4 943.2,572.4 939.3,557.8 905.1,573.9 900.4,584.7 928.3,572.7 929.0,577.0 891.2,583.0 948.1,565.0 907.0,585.0 879.1,582.4 940.0,566.2 902.3,580.8 875.5,586.1 939.8,578.4 885.1,589.4 930.8,555.0 903.1,587.1 921.6,574.5 893.8,583.7 928.1,580.8 913.1,584.4 878.8,585.5 940.9,560.2 928.9,577.5 906.7,589.6 877.7,592.7 892.9,593.3 880.7,587.6 859.4,593.0 928.2,577.8 944.4,568.4 888.1,582.7 937.0,562.7 939.3,580.6 895.4,586.6 908.0,586.0 894.4,587.7 916.5,578.8 929.3,585.1 876.5,588.7 900.0,577.7 934.1,557.4 914.2,581.5 862.4,592.0 922.6,568.1 903.7,587.1 945.0,559.2 942.7,553.4 927.0,560.8 891.4,579.6 923.6,572.6 929.7,579.6 907.9,572.7 930.9,567.8 916.9,576.5 665.8,592.6 682.0,599.2 648.2,593.5 651.0,577.3 681.6,572.8 677.4,580.1 641.1,581.6 645.8,594.9 669.6,576.7 646.6,604.1 653.7,589.7 683.9,584.4 667.4,608.7 652.7,582.1 682.7,588.8 659.4,595.5 665.3,591.7 678.1,606.6 658.4,608.5 653.1,587.3 374.4,577.6 407.3,566.2 396.2,589.0 456.4,571.6 431.6,578.9 436.1,578.6 440.7,578.4 436.4,599.6 531.2,551.3 511.0,587.2 524.2,590.8 536.3,588.3 546.2,592.6 543.1,574.3 547.9,576.9 552.0,578.4 560.1,576.4 565.1,573.8 574.0,575.9 579.1,561.2 584.1,567.5 586.6,578.9 589.2,584.0 589.2,592.1 570.2,591.5 591.2,536.4 601.3,531.6 605.1,598.6 608.2,572.6 608.7,577.6 610.7,581.4 615.7,578.9 606.9,586.5 624.6,592.1 629.4,600.7 630.9,578.4 638.5,578.9 646.1,575.1 653.7,576.4 647.4,584.0 643.6,591.5 646.1,601.7 656.2,596.6 662.5,609.3 666.3,601.7 671.4,568.8 673.9,554.9 679.0,546.0 690.4,549.8 684.0,566.2 696.7,535.4 694.2,563.7 677.2,634.3 694.9,646.7 641.0,586.5 651.2,586.5 658.7,584.0 661.3,591.5 668.9,586.5 673.9,581.4 679.0,586.5 684.0,581.4 689.1,589.0 694.2,584.0 668.9,596.6 679.0,597.9 686.6,601.7 694.2,604.2 691.6,573.8 681.5,573.8 668.9,576.4 696.7,611.8 689.1,609.3 713.4,538.2 748.8,536.9 731.1,548.3 745.0,552.1 761.4,549.6 775.3,541.5 719.7,558.4 779.1,554.6 751.3,563.5 766.5,568.5 771.5,574.9 726.0,573.6 741.2,577.4 761.4,579.9 798.1,543.2 799.4,563.5 803.2,571.1 822.1,564.7 819.6,568.5 828.5,577.4 833.5,550.3 852.5,577.4 877.8,567.3 796.8,586.2 789.3,596.4 736.1,664.7 743.2,698.1 748.8,721.6 748.3,751.9 764.0,760.3 756.4,783.6 766.5,783.6 777.9,793.7 815.8,636.8 814.6,647.5 842.4,698.8 839.8,730.4 841.1,751.9 681.7,555.9 791.8,555.9 794.3,601.4 788.0,611.5 893.0,748.2 890.4,760.8 890.4,778.5 889.2,793.7 903.1,705.1 905.6,697.6 943.6,730.4 955.0,730.4 941.0,745.6 953.7,748.2 942.3,759.5 971.4,753.2 979.0,748.2 991.6,748.2 976.5,778.5 981.5,787.4 992.9,792.4 956.2,793.7 924.6,774.7 855.0,707.7 855.0,722.9 855.0,738.0 855.0,758.3 855.0,781.0 855.0,795.0 767.0,778.2 765.7,795.9 774.6,783.2 780.9,806.0 785.9,817.4 785.9,826.2 787.2,844.0 761.1,855.3 788.5,869.3 797.3,868.0 788.5,874.3 793.5,885.7 800.6,890.0 798.1,923.6 881.3,933.3 852.5,877.3 854.2,750.4 853.0,806.0 853.0,817.4 853.0,823.7 852.5,838.9 854.2,845.2 890.9,756.7 879.5,844.0 880.3,856.6 879.5,869.3 968.3,748.1 970.8,760.7 981.0,758.2 1011.3,800.4 1006.2,765.8 1008.8,778.4 1020.2,768.3 1024.0,781.0 1038.6,782.2 1032.8,765.8 1044.2,763.2 1054.3,754.4 1056.8,739.2 1044.2,831.5 1001.2,918.1 1074.6,767.0 1082.1,763.2 1089.7,770.8 1085.9,788.5 1089.7,805.0 1077.1,817.6 1089.7,818.9 1080.9,824.0 1061.9,722.8 1058.1,710.1 1115.0,849.3 1117.1,882.1 1117.1,892.3 1117.1,909.5 1117.1,949.2 1140.3,783.5 1140.3,791.1 1140.3,799.9 1141.6,807.5 1150.4,803.7 1163.1,801.2 1175.7,793.6 1161.8,818.4 1173.2,815.1 1180.8,817.6 1189.7,793.6 1189.7,802.5 1189.7,812.6 1189.7,822.7 1145.4,824.0 1140.3,829.0 1152.5,836.6 1182.6,840.4 1221.3,835.3 1168.2,865.7 1179.5,878.3 1185.9,878.3 1184.6,889.7 1190.9,898.6 1184.6,901.1 1169.4,921.4 1175.7,920.1 1185.1,951.2 1208.6,765.8 1208.6,770.8 1221.3,796.1 1220.0,786.0 1221.3,775.9 1256.7,763.2 1256.7,775.9 1256.7,788.5 1256.7,798.7 1258.0,853.0 1237.7,861.9 1237.7,872.0 1237.7,882.1 1237.7,903.6 1246.6,892.3 1246.6,902.4 1246.6,917.6 1246.6,939.1 1190.9,764.5 1201.0,737.9 1207.4,737.9 1129.3,759.4 1139.4,761.9 1155.9,794.8 1182.5,811.2 1115.4,840.3 1172.3,917.5 1229.3,792.3 1196.4,761.9 1247.0,880.8 1283.6,858.5 1295.0,844.9 1279.8,819.6 1283.6,806.9 1282.4,787.2 1282.4,777.1 1272.3,779.6 1296.3,731.5 1296.3,741.7 1296.3,751.8 1305.1,761.9 1305.1,772.0 1305.1,780.9 1305.1,806.2 1310.7,801.1 1316.5,888.4 1314.0,901.0 1324.1,849.2 1326.6,842.9 1327.9,831.5 1325.4,810.0 1325.4,799.8 1329.2,792.3 1325.4,787.2 1346.9,718.4 1342.6,741.2 1345.6,765.7 1343.1,697.4 1201.4,726.5 1198.9,741.7 1168.5,507.7 1184.2,511.0 1200.9,502.1 1209.0,502.1 1229.3,489.0 1251.3,485.2 1268.5,487.5 1289.5,487.7 1281.6,499.6 1282.4,509.7 1333.5,508.5 1249.0,525.4 1230.5,539.6 1308.9,550.7 1308.9,570.4 1308.9,583.1 1130.6,540.1 1130.6,545.1 1145.3,540.1 1162.2,532.5 1181.2,535.0 1122.5,572.5 1128.1,561.6 1136.9,559.1 1216.6,532.5 1228.0,560.3 1229.3,570.4 1241.9,581.8 1198.9,519.8 1276.1,514.8 1265.9,519.8 1287.4,530.0 1333.0,530.0 1344.4,532.5 1039.4,522.0 1026.0,537.2 1041.7,536.7 945.1,549.8 960.2,563.7 980.5,561.2 995.7,557.4 1013.4,553.6 1023.5,551.1 1072.8,557.4 1058.9,562.5" fill="none" stroke="none" marker-start="url(#ms)" marker-mid="url(#ms)" marker-end="url(#ms)"/>
<path d="M401.0 1015.9v-20M401.0 59.0v20M912.0 1015.9v-20M912.0 59.0v20M351.5 1015.9v-12M351.5 59.0v12M377.6 1015.9v-12M377.6 59.0v12M554.8 1015.9v-12M554.8 59.0v12M644.8 1015.9v-12M644.8 59.0v12M708.7 1015.9v-12M708.7 59.0v12M758.2 1015.9v-12M758.2 59.0v12M798.6 1015.9v-12M798.6 59.0v12M832.8 1015.9v-12M832.8 59.0v12M862.5 1015.9v-12M862.5 59.0v12M888.6 1015.9v-12M888.6 59.0v12M1065.8 1015.9v-12M1065.8 59.0v12M1155.8 1015.9v-12M1155.8 59.0v12M1219.7 1015.9v-12M1219.7 59.0v12M1269.2 1015.9v-12M1269.2 59.0v12M1309.6 1015.9v-12M1309.6 59.0v12M1343.8 1015.9v-12M1343.8 59.0v12M1373.5 1015.9v-12M1373.5 59.0v12M326.0 974.9h20M1395.2 974.9h-20M326.0 829.6h20M1395.2 829.6h-20M326.0 684.3h20M1395.2 684.3h-20M326.0 539.0h20M1395.2 539.0h-20M326.0 393.6h20M1395.2 393.6h-20M326.0 248.3h20M1395.2 248.3h-20M326.0 103.0h20M1395.2 103.0h-20M326.0 1007.2h12M1395.2 1007.2h-12M326.0 997.4h12M1395.2 997.4h-12M326.0 989.0h12M1395.2 989.0h-12M326.0 981.6h12M1395.2 981.6h-12M326.0 931.2h12M1395.2 931.2h-12M326.0 905.6h12M1395.2 905.6h-12M326.0 887.4h12M1395.2 887.4h-12M326.0 873.3h12M1395.2 873.3h-12M326.0 861.8h12M1395.2 861.8h-12M326.0 852.1h12M1395.2 852.1h-12M326.0 843.7h12M1395.2 843.7h-12M326.0 836.2h12M1395.2 836.2h-12M326.0 785.9h12M1395.2 785.9h-12M326.0 760.3h12M1395.2 760.3h-12M326.0 742.1h12M1395.2 742.1h-12M326.0 728.0h12M1395.2 728.0h-12M326.0 716.5h12M1395.2 716.5h-12M326.0 706.8h12M1395.2 706.8h-12M326.0 698.4h12M1395.2 698.4h-12M326.0 690.9h12M1395.2 690.9h-12M326.0 640.5h12M1395.2 640.5h-12M326.0 614.9h12M1395.2 614.9h-12M326.0 596.8h12M1395.2 596.8h-12M326.0 582.7h12M1395.2 582.7h-12M326.0 571.2h12M1395.2 571.2h-12M326.0 561.5h12M1395.2 561.5h-12M326.0 553.0h12M1395.2 553.0h-12M326.0 545.6h12M1395.2 545.6h-12M326.0 495.2h12M1395.2 495.2h-12M326.0 469.6h12M1395.2 469.6h-12M326.0 451.5h12M1395.2 451.5h-12M326.0 437.4h12M1395.2 437.4h-12M326.0 425.9h12M1395.2 425.9h-12M326.0 416.2h12M1395.2 416.2h-12M326.0 407.7h12M1395.2 407.7h-12M326.0 400.3h12M1395.2 400.3h-12M326.0 349.9h12M1395.2 349.9h-12M326.0 324.3h12M1395.2 324.3h-12M326.0 306.1h12M1395.2 306.1h-12M326.0 292.1h12M1395.2 292.1h-12M326.0 280.6h12M1395.2 280.6h-12M326.0 270.8h12M1395.2 270.8h-12M326.0 262.4h12M1395.2 262.4h-12M326.0 255.0h12M1395.2 255.0h-12M326.0 204.6h12M1395.2 204.6h-12M326.0 179.0h12M1395.2 179.0h-12M326.0 160.8h12M1395.2 160.8h-12M326.0 146.7h12M1395.2 146.7h-12M326.0 135.2h12M1395.2 135.2h-12M326.0 125.5h12M1395.2 125.5h-12M326.0 117.1h12M1395.2 117.1h-12M326.0 109.6h12M1395.2 109.6h-12" stroke="#000" stroke-width="4" fill="none"/>
<rect x="326.0" y="59.0" width="1069.2" height="956.9" fill="none" stroke="#000" stroke-width="4"/>
<text x="200.07" y="125.20" font-size="61.80" textLength="71.95" lengthAdjust="spacingAndGlyphs">10</text>
<text x="274.37" y="103.40" font-size="43.40" textLength="22.83" lengthAdjust="spacingAndGlyphs">1</text>
<text x="200.07" y="270.52" font-size="61.80" textLength="71.95" lengthAdjust="spacingAndGlyphs">10</text>
<text x="273.89" y="248.72" font-size="43.40" textLength="22.92" lengthAdjust="spacingAndGlyphs">0</text>
<text x="164.97" y="415.84" font-size="61.80" textLength="71.95" lengthAdjust="spacingAndGlyphs">10</text>
<text x="239.80" y="395.84" font-size="43.40" textLength="30.77" lengthAdjust="spacingAndGlyphs">−</text>
<text x="274.37" y="394.04" font-size="43.40" textLength="22.83" lengthAdjust="spacingAndGlyphs">1</text>
<text x="164.97" y="561.16" font-size="61.80" textLength="71.95" lengthAdjust="spacingAndGlyphs">10</text>
<text x="239.80" y="541.16" font-size="43.40" textLength="30.77" lengthAdjust="spacingAndGlyphs">−</text>
<text x="273.33" y="539.36" font-size="43.40" textLength="24.05" lengthAdjust="spacingAndGlyphs">2</text>
<text x="164.97" y="706.48" font-size="61.80" textLength="71.95" lengthAdjust="spacingAndGlyphs">10</text>
<text x="239.80" y="686.48" font-size="43.40" textLength="30.77" lengthAdjust="spacingAndGlyphs">−</text>
<text x="273.92" y="684.68" font-size="43.40" textLength="23.11" lengthAdjust="spacingAndGlyphs">3</text>
<text x="164.97" y="851.80" font-size="61.80" textLength="71.95" lengthAdjust="spacingAndGlyphs">10</text>
<text x="239.80" y="831.80" font-size="43.40" textLength="30.77" lengthAdjust="spacingAndGlyphs">−</text>
<text x="274.60" y="830.00" font-size="43.40" textLength="21.74" lengthAdjust="spacingAndGlyphs">4</text>
<text x="164.97" y="997.12" font-size="61.80" textLength="71.95" lengthAdjust="spacingAndGlyphs">10</text>
<text x="239.80" y="977.12" font-size="43.40" textLength="30.77" lengthAdjust="spacingAndGlyphs">−</text>
<text x="273.84" y="975.32" font-size="43.40" textLength="23.11" lengthAdjust="spacingAndGlyphs">5</text>
<text x="352.76" y="1089.80" font-size="61.80" textLength="72.07" lengthAdjust="spacingAndGlyphs">10</text>
<text x="428.03" y="1068.00" font-size="43.40" textLength="22.44" lengthAdjust="spacingAndGlyphs">1</text>
<text x="865.16" y="1089.80" font-size="61.80" textLength="72.07" lengthAdjust="spacingAndGlyphs">10</text>
<text x="938.65" y="1068.00" font-size="43.40" textLength="23.81" lengthAdjust="spacingAndGlyphs">2</text>
<text x="601.61" y="1191.20" font-size="61.80" textLength="304.92" lengthAdjust="spacingAndGlyphs">Frequency</text>
<text x="926.79" y="1191.20" font-size="61.80" textLength="113.08" lengthAdjust="spacingAndGlyphs">(cm</text>
<text x="1041.19" y="1170.30" font-size="43.40" textLength="30.89" lengthAdjust="spacingAndGlyphs">−</text>
<text x="1074.86" y="1168.50" font-size="43.40" textLength="22.96" lengthAdjust="spacingAndGlyphs">1</text>
<text x="1107.00" y="1191.20" font-size="61.80" textLength="16.96" lengthAdjust="spacingAndGlyphs">)</text>
<g transform="translate(112.1,857.7) rotate(-90)"><text x="-3.01" y="0.00" font-size="61.80" textLength="298.69" lengthAdjust="spacingAndGlyphs">Scattering</text><text x="316.21" y="0.00" font-size="61.80" textLength="133.60" lengthAdjust="spacingAndGlyphs">Rate</text><text x="470.79" y="0.00" font-size="61.80" textLength="87.48" lengthAdjust="spacingAndGlyphs">(ps</text><text x="561.50" y="-20.50" font-size="43.40" textLength="30.77" lengthAdjust="spacingAndGlyphs">−</text><text x="596.83" y="-22.30" font-size="43.40" textLength="22.44" lengthAdjust="spacingAndGlyphs">1</text><text x="626.52" y="0.00" font-size="61.80" textLength="15.83" lengthAdjust="spacingAndGlyphs">)</text></g>
<rect x="351" y="84" width="387.2" height="213.3" fill="#fff" fill-opacity="0.5" stroke="#8c8c8c" stroke-width="2"/>
<circle cx="396.2" cy="125.2" r="5.3" fill="none" stroke="#1f77b4" stroke-width="2.5"/>
<path d="M396.2 183.77l4.73 9.46h-9.46z" fill="none" stroke="#ff7f0e" stroke-width="2.5" stroke-linejoin="miter"/>
<rect x="391.1" y="246.2" width="10.2" height="10.2" fill="none" stroke="#2ca02c" stroke-width="2.5"/>
<text x="441.88" y="142.60" font-size="51.50" textLength="259.56" lengthAdjust="spacingAndGlyphs">3ph(300K)</text>
<text x="441.01" y="205.90" font-size="51.50" textLength="182.81" lengthAdjust="spacingAndGlyphs">isotope</text>
<text x="441.73" y="269.00" font-size="51.50" textLength="276.20" lengthAdjust="spacingAndGlyphs">L=1000nm</text>
</svg>
</body></html>
